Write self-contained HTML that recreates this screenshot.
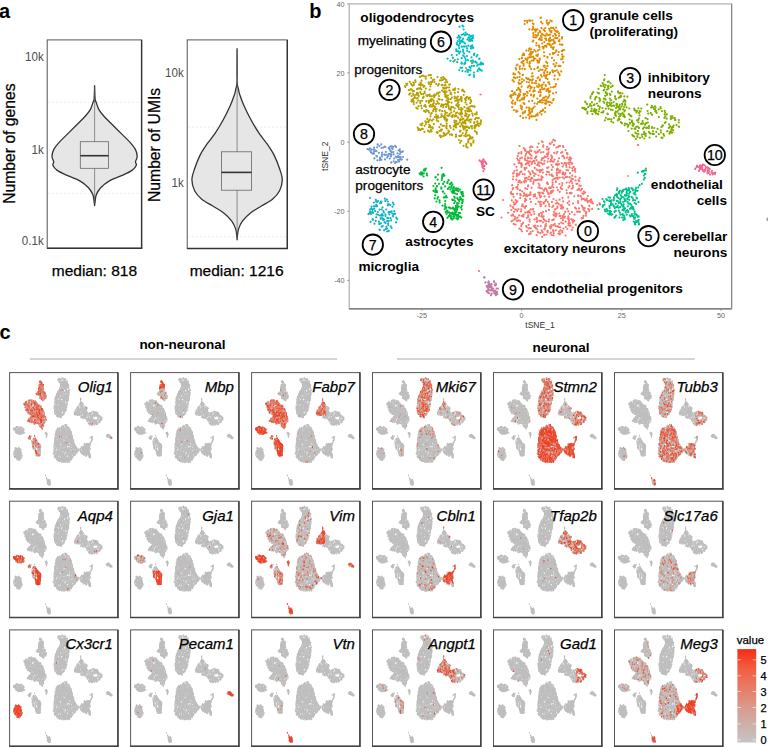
<!DOCTYPE html><html><head><meta charset="utf-8"><style>html,body{margin:0;padding:0;background:#fff;overflow:hidden}svg{display:block}text{font-family:"Liberation Sans",sans-serif}text:not([fill]):not([font-weight]){stroke:#000;stroke-width:0.25px}</style></head><body><svg width="768" height="747" viewBox="0 0 768 747"><rect width="768" height="747" fill="#fff"/><defs><path id="a0" d="M536.0 153.0h0M544.7 220.4h0M562.3 232.4h0M557.9 177.5h0M534.6 219.3h0M523.6 195.9h0M535.1 196.3h0M547.2 167.9h0M529.1 195.2h0M553.4 225.2h0M549.0 204.1h0M513.2 207.9h0M541.3 204.6h0M513.0 214.5h0M519.1 162.7h0M555.5 226.0h0M528.1 186.3h0M559.0 164.2h0M585.9 215.7h0M541.9 177.7h0M516.9 201.2h0M526.0 154.2h0M516.7 174.2h0M561.1 152.8h0M539.5 150.2h0M537.6 164.4h0M555.0 140.7h0M553.7 235.5h0M582.8 207.3h0M530.5 174.5h0M554.1 215.6h0M536.5 160.2h0M581.8 218.3h0M578.8 211.7h0M527.0 160.6h0M525.0 158.4h0M580.8 185.8h0M564.5 217.6h0M515.3 203.8h0M572.9 185.6h0M523.4 216.6h0M536.7 217.8h0M542.7 232.3h0M518.9 153.1h0M592.9 203.5h0M538.3 192.6h0M592.1 202.7h0M553.6 231.0h0M545.5 224.8h0M530.4 179.7h0M519.3 228.6h0M538.6 183.6h0M544.4 229.4h0M553.3 139.9h0M570.8 193.4h0M556.1 216.1h0M517.1 193.8h0M529.4 165.6h0M556.6 213.7h0M561.0 188.4h0M552.3 207.0h0M547.1 191.1h0M568.5 225.3h0M518.4 182.0h0M514.2 204.7h0M521.3 209.3h0M524.9 169.7h0M555.9 181.9h0M562.0 189.0h0M511.3 215.6h0M531.3 150.9h0M544.5 228.8h0M520.9 229.5h0M557.4 207.8h0M562.9 217.8h0M513.7 223.9h0M547.2 171.8h0M555.9 230.3h0M553.6 161.7h0M573.7 166.9h0M551.3 155.7h0M571.5 192.9h0M578.9 181.0h0M542.0 188.5h0M537.6 220.9h0M569.2 201.3h0M543.0 172.6h0M514.0 211.8h0M530.1 154.3h0M533.3 183.8h0M521.6 182.4h0M530.7 233.8h0M529.1 234.2h0M534.7 173.5h0M549.1 188.1h0M525.3 188.3h0M534.3 161.2h0M573.0 203.5h0M570.0 225.6h0M585.2 200.5h0M520.0 190.2h0M558.5 226.9h0M519.4 173.9h0M517.0 221.2h0M556.3 200.5h0M551.5 191.3h0M571.8 163.1h0M514.4 164.4h0M571.1 158.4h0M549.4 206.1h0M520.7 163.3h0M572.3 168.3h0M566.5 167.0h0M552.7 184.3h0M548.3 149.8h0M526.2 195.9h0M579.0 188.7h0M584.8 208.1h0M520.1 172.3h0M508.1 212.8h0M588.2 209.0h0M532.7 231.2h0M552.2 156.9h0M540.3 233.2h0M548.8 172.2h0M533.7 211.6h0M551.0 159.9h0M537.5 147.1h0M528.6 163.7h0M557.3 226.4h0M572.9 179.1h0M543.8 190.2h0M540.6 171.7h0M541.8 230.3h0M553.2 205.9h0M589.5 209.9h0M564.0 214.2h0M519.0 163.1h0M563.1 207.6h0M541.5 160.3h0M591.0 202.2h0M528.3 162.6h0M544.3 163.6h0M537.2 179.9h0M567.1 157.7h0M577.0 211.6h0M551.7 158.4h0M540.3 171.0h0M579.2 181.1h0M512.2 185.2h0M524.6 174.3h0M543.5 218.9h0M572.7 227.5h0M537.3 165.1h0M590.9 199.5h0M530.6 209.4h0M587.4 201.1h0M528.2 185.3h0M541.4 163.0h0M577.5 211.6h0M560.5 170.6h0M535.6 174.0h0M510.8 193.0h0M530.9 146.4h0M516.3 187.6h0M569.4 182.5h0M528.2 179.5h0M561.7 205.1h0M572.7 222.4h0M565.5 150.1h0M557.0 175.1h0M521.2 226.1h0M542.2 236.8h0M578.0 203.1h0M549.1 219.6h0M559.6 199.7h0M520.2 158.3h0M564.4 158.3h0M535.0 158.3h0M542.2 192.8h0M563.3 147.1h0M535.0 194.4h0M538.9 179.5h0M547.9 154.2h0M563.4 228.6h0M515.6 200.0h0M540.1 188.2h0M553.1 230.2h0M517.3 186.9h0M525.0 150.6h0M549.8 143.3h0M586.3 199.8h0M543.0 222.3h0M526.8 177.8h0M552.8 176.2h0M518.6 162.6h0M511.5 194.0h0M550.3 161.4h0M547.6 155.9h0M548.9 148.7h0M519.0 180.9h0M552.1 142.1h0M563.1 146.2h0M551.6 175.6h0M571.4 219.2h0M550.5 233.3h0M513.6 172.9h0M526.0 164.2h0M551.8 169.8h0M521.9 231.3h0M522.5 216.2h0M563.1 173.8h0M562.5 177.3h0M539.1 214.2h0M558.7 204.1h0M519.3 160.6h0M517.1 173.6h0M527.3 196.1h0M559.0 158.3h0M562.0 185.3h0M529.0 152.9h0M583.4 215.9h0M542.7 164.3h0M556.7 172.9h0M589.2 211.1h0M529.4 228.0h0M513.0 215.6h0M525.2 198.6h0M551.9 201.9h0M534.7 167.9h0M572.2 183.1h0M569.6 164.5h0M555.9 181.4h0M530.9 201.9h0M530.5 161.5h0M572.6 170.6h0M528.6 228.4h0M562.6 207.0h0M565.6 235.5h0M548.6 221.6h0M568.4 223.4h0M557.3 168.7h0M526.3 200.0h0M537.8 152.1h0M568.3 211.4h0M513.6 196.8h0M517.2 158.5h0M562.9 220.2h0M562.7 166.6h0M535.6 180.2h0M532.4 209.3h0M539.8 170.0h0M581.7 199.6h0M554.5 159.6h0M530.5 232.0h0M568.5 187.6h0M517.4 201.4h0M514.9 216.5h0M568.3 216.4h0M562.3 173.4h0M542.7 177.3h0M525.8 164.2h0M540.8 226.0h0M538.1 170.5h0M565.3 211.9h0M524.5 168.0h0M568.9 222.0h0M521.3 153.5h0M536.3 156.9h0M516.7 176.3h0M571.5 181.3h0M524.9 201.5h0M517.2 158.6h0M542.5 216.8h0M520.2 198.1h0M543.0 211.8h0M544.4 160.8h0M570.5 225.7h0M575.0 207.7h0M581.8 205.7h0M516.4 179.8h0M575.4 176.7h0M511.2 192.1h0M521.8 215.9h0M554.8 209.4h0M526.1 206.2h0M541.9 214.0h0M538.7 143.6h0M531.7 177.8h0M538.4 164.4h0M527.4 211.9h0M526.9 217.8h0M541.9 159.1h0M519.1 215.4h0M578.1 201.2h0M548.6 194.0h0M538.5 201.6h0M548.5 167.3h0M544.8 156.5h0M532.3 162.4h0M545.1 201.5h0M565.1 174.1h0M512.8 220.5h0M520.1 220.8h0M564.8 162.9h0M528.2 215.3h0M560.6 215.8h0M565.9 227.0h0M525.0 207.0h0M553.9 211.9h0M545.9 225.9h0M556.0 164.3h0M528.2 151.9h0M550.6 143.8h0M548.4 152.4h0M550.5 187.6h0M554.7 223.9h0M548.5 194.0h0M565.6 221.7h0M540.4 179.7h0M563.1 201.4h0M552.2 186.3h0M539.6 185.3h0M553.5 214.7h0M526.2 181.3h0M579.7 178.2h0M551.6 165.1h0M551.8 235.1h0M536.6 169.6h0M533.8 196.4h0M562.9 216.1h0M511.4 210.0h0M584.7 192.3h0M564.9 216.6h0M586.8 198.9h0M568.3 197.4h0M564.8 174.7h0M556.6 163.7h0M534.1 180.0h0M512.6 194.5h0M578.2 195.3h0M559.2 231.4h0M515.5 224.6h0M570.3 162.1h0M512.2 215.1h0M569.8 223.2h0M562.4 208.6h0M547.8 230.9h0M522.3 223.8h0M550.1 144.0h0M539.8 195.3h0M539.4 202.2h0M541.3 216.3h0M568.9 220.4h0M536.7 198.3h0M545.1 226.5h0M540.6 206.2h0M560.1 227.3h0M544.5 196.4h0M557.5 165.3h0M581.7 218.4h0M567.3 229.0h0M525.3 212.7h0M560.5 205.5h0M548.2 158.6h0M530.0 212.8h0M576.5 183.8h0M515.5 218.3h0M549.2 196.7h0M539.4 194.2h0M559.7 172.4h0M557.1 164.1h0M575.5 180.4h0M525.3 156.0h0M547.6 232.3h0M559.8 177.6h0M530.2 194.2h0M566.0 177.2h0M546.8 153.9h0M530.1 173.1h0M576.1 208.7h0M559.2 213.5h0M517.0 170.3h0M530.2 150.4h0M528.6 152.3h0M570.1 157.4h0M527.0 231.0h0M520.0 182.5h0M547.1 171.8h0M579.3 185.6h0M562.4 152.2h0M569.8 193.1h0M531.0 179.0h0M521.4 165.0h0M535.5 228.0h0M530.3 158.1h0M516.4 166.8h0M524.0 181.4h0M557.4 151.8h0M523.5 214.7h0M569.6 157.6h0M560.7 187.3h0M531.6 158.5h0M561.0 208.5h0M578.3 196.1h0M571.4 178.6h0M540.1 197.3h0M546.5 189.4h0M518.4 209.2h0M541.0 212.8h0M552.4 190.8h0M523.7 148.2h0M529.6 219.4h0M557.9 190.1h0M583.3 209.4h0M550.7 187.9h0M559.2 223.8h0M520.7 195.1h0M541.6 179.9h0M580.7 190.4h0M542.2 231.8h0M575.3 171.7h0M528.7 171.4h0M512.5 189.5h0M562.8 174.3h0M553.9 144.9h0M545.4 188.3h0M589.1 201.1h0M563.5 164.5h0M561.8 163.0h0M554.2 152.8h0M557.3 202.8h0M547.9 192.6h0M527.1 189.0h0M541.1 196.3h0M513.3 176.6h0M546.0 211.2h0M521.3 171.6h0M561.3 222.7h0M579.1 189.6h0M572.0 212.0h0M576.0 208.6h0M574.3 196.3h0M575.8 224.9h0M547.1 183.6h0M541.2 170.1h0M520.5 195.3h0M558.3 146.8h0M544.9 228.7h0M556.9 187.5h0M567.3 176.8h0M538.3 232.4h0M566.6 190.3h0M546.1 200.2h0M553.9 219.3h0M521.5 166.9h0M562.5 198.1h0M543.6 216.4h0M580.9 196.4h0M551.1 193.1h0M557.7 178.9h0M518.4 153.6h0M553.2 220.0h0M561.0 218.3h0M574.7 170.2h0M569.9 173.2h0M558.4 172.7h0M558.4 233.6h0M546.0 199.8h0M535.2 227.5h0M560.1 233.6h0M550.9 232.6h0M529.0 176.8h0M570.2 160.1h0M518.6 220.3h0M538.4 162.4h0M546.3 221.3h0M569.2 164.0h0M539.8 162.5h0M552.4 192.0h0M531.3 214.9h0M523.2 222.8h0M535.7 204.0h0M532.4 178.2h0M510.5 205.7h0M565.4 173.0h0M568.5 162.7h0M562.4 156.1h0M521.9 157.7h0M534.2 175.9h0M563.2 155.9h0M545.6 206.2h0M582.0 198.5h0M572.7 220.5h0M532.3 147.0h0M562.4 183.1h0M545.0 189.0h0M568.8 218.3h0M530.5 192.4h0M591.9 201.5h0M513.0 173.6h0M543.6 158.1h0M534.8 151.6h0M569.2 204.8h0M528.5 162.1h0M552.6 182.3h0M533.9 226.1h0M520.2 194.1h0M536.8 219.2h0M555.4 213.7h0M522.6 204.4h0M574.3 220.8h0M525.0 207.9h0M546.7 149.3h0M515.2 209.4h0M545.5 156.9h0M587.6 202.2h0M562.3 231.2h0M529.2 151.8h0M522.5 216.1h0M579.9 211.9h0M536.2 156.4h0M539.9 192.9h0M539.9 220.8h0M579.0 208.3h0M567.5 154.3h0M546.3 234.6h0M546.0 157.0h0M552.5 180.0h0M533.5 182.1h0M556.7 172.7h0M591.3 199.7h0M533.7 194.9h0M537.7 226.2h0M566.7 182.6h0M515.3 203.8h0M544.0 190.8h0M556.9 177.5h0M517.8 156.0h0M585.1 192.6h0M529.9 147.5h0M550.3 193.2h0M517.7 189.1h0M558.9 146.0h0M543.3 145.3h0M546.0 224.0h0M555.6 209.2h0M516.8 220.7h0M526.4 167.9h0M584.9 199.9h0M583.5 194.1h0M518.5 175.2h0M566.4 163.4h0M524.6 182.5h0M580.6 195.9h0M517.5 217.7h0M524.0 193.2h0M540.9 152.4h0M583.8 191.6h0M567.7 218.5h0M551.4 225.0h0M583.6 198.8h0M514.5 170.8h0M526.7 227.0h0M522.6 174.0h0M566.1 165.2h0M531.6 187.8h0M530.6 194.7h0M553.7 233.3h0M556.5 214.8h0M539.4 166.0h0M589.3 205.9h0M534.3 214.0h0M572.0 188.7h0M563.0 172.9h0M555.6 178.4h0M549.6 174.6h0M529.0 161.4h0M538.2 151.5h0M547.2 182.4h0M570.9 192.9h0M587.8 196.1h0M538.8 215.1h0M522.2 164.7h0M569.0 159.7h0M542.5 158.0h0M564.1 157.6h0M560.0 145.9h0M537.5 151.6h0M564.2 178.4h0M512.9 179.3h0M511.8 200.4h0M521.4 152.2h0M578.5 180.2h0M556.0 203.5h0M560.1 171.0h0M572.2 163.7h0M569.6 214.0h0M575.2 168.8h0M553.3 231.7h0M513.1 188.0h0M571.9 229.8h0M563.1 172.3h0M577.3 183.8h0M536.0 228.0h0M517.2 211.0h0M513.6 202.3h0M513.1 194.2h0M589.8 200.5h0M527.3 163.1h0M530.6 181.2h0M528.0 158.2h0M526.7 194.7h0M521.5 224.0h0M573.1 220.0h0M532.4 171.0h0M550.0 226.7h0M521.9 206.0h0M526.1 226.0h0M539.1 215.7h0M521.0 211.3h0M537.3 229.5h0M570.0 225.8h0M528.2 216.9h0M551.7 161.1h0M535.3 225.5h0M519.7 180.7h0M523.4 206.3h0M520.7 211.5h0M538.6 187.4h0M584.5 210.8h0M531.6 155.7h0M543.3 193.4h0M567.6 203.1h0M583.7 209.5h0M542.5 169.7h0M544.2 234.9h0M541.5 176.4h0M543.4 152.2h0M560.6 230.3h0M530.0 198.8h0M525.1 149.6h0M568.1 170.3h0M581.9 188.8h0M572.3 175.7h0M569.6 177.2h0M553.5 199.0h0M566.6 170.1h0M530.9 228.5h0M548.9 209.9h0M527.1 152.2h0M553.3 190.5h0M547.8 201.8h0M541.0 220.9h0M521.2 163.0h0M577.5 189.9h0M547.2 146.8h0M553.0 161.7h0M540.0 171.9h0M525.3 194.8h0M563.1 223.5h0M525.4 180.1h0M546.3 174.6h0M569.7 167.4h0M543.3 202.6h0M592.1 208.9h0M540.2 204.3h0M553.5 187.5h0M586.0 213.4h0M548.0 184.0h0M552.3 220.1h0M542.7 142.0h0M566.8 193.2h0M574.6 214.7h0M518.1 160.0h0M514.6 219.4h0M569.5 186.1h0M512.6 206.8h0M531.7 164.1h0M535.0 163.4h0M582.4 193.3h0M583.0 217.9h0M554.1 178.7h0M556.9 170.2h0M533.2 208.8h0M547.3 231.1h0M543.9 203.6h0M567.4 153.4h0M511.5 221.3h0M533.4 161.2h0M558.4 169.7h0M556.5 153.3h0M541.8 141.3h0M540.8 201.8h0M571.0 180.8h0M533.1 172.7h0M573.0 187.5h0M559.7 191.9h0M559.8 234.3h0M537.8 232.1h0M529.3 211.9h0M556.4 147.5h0M555.7 216.5h0M559.5 184.0h0M516.3 202.4h0M538.5 175.3h0M536.7 221.9h0M550.9 191.4h0M518.1 184.6h0M522.1 191.3h0M551.8 174.5h0M525.0 178.2h0M525.5 150.7h0M528.7 224.8h0M551.4 226.7h0M557.4 206.6h0M527.8 212.7h0M521.2 164.3h0M552.8 167.1h0M558.1 161.3h0M559.5 216.1h0M561.5 206.9h0M529.1 211.1h0M566.8 153.1h0M537.8 152.0h0M525.1 159.9h0M536.6 235.2h0M549.5 187.5h0M525.2 200.3h0M515.9 209.5h0M586.3 212.2h0M529.7 221.5h0M528.0 157.7h0M547.6 161.6h0M550.6 228.4h0M567.3 208.8h0M541.9 216.1h0M543.1 146.7h0M599.6 203.3h0M597.3 205.1h0"/><path id="b0" d="M554.4 174.4h0M512.9 188.5h0M518.6 160.2h0M563.3 175.1h0M555.4 144.3h0M566.9 180.6h0M576.8 207.6h0M571.1 166.7h0M544.2 213.4h0M521.1 186.7h0M511.3 204.6h0M574.2 195.1h0M568.2 197.2h0M558.2 183.4h0M522.5 149.7h0M541.8 224.8h0M514.9 182.7h0M532.0 179.4h0M539.0 226.1h0M523.2 161.1h0M539.9 194.4h0M590.5 206.8h0M552.6 199.5h0M583.7 217.5h0M529.8 172.6h0M548.3 186.2h0M553.7 152.6h0M522.4 214.9h0M527.6 189.6h0M530.4 207.0h0M562.0 227.7h0M520.6 220.3h0M529.7 167.2h0M528.8 196.4h0M558.5 228.1h0M551.4 191.0h0M546.1 156.2h0M522.8 185.2h0M536.2 189.6h0M574.9 188.6h0M549.3 231.8h0M556.4 231.9h0M565.1 152.2h0M526.9 232.9h0M542.4 186.5h0M521.9 181.0h0M552.6 171.8h0M517.0 164.5h0M567.6 180.4h0M515.2 223.3h0M531.1 150.9h0M534.9 168.4h0M524.3 185.3h0M550.8 221.1h0M515.2 221.8h0M583.4 204.8h0M532.3 162.1h0M515.7 177.8h0M558.7 190.7h0M541.7 170.5h0M570.7 202.1h0M511.7 221.2h0M571.5 218.9h0M551.6 221.2h0M577.7 220.3h0M567.1 207.1h0M562.2 205.8h0M577.1 212.5h0M550.7 176.1h0M574.4 199.5h0M566.2 206.9h0M546.9 164.8h0M526.1 232.2h0M520.2 190.2h0M528.0 227.4h0M550.0 140.5h0M547.0 168.1h0M535.3 221.7h0M540.2 177.1h0M539.2 180.6h0M516.7 221.1h0M529.5 164.5h0M562.6 229.0h0M571.4 182.9h0M573.2 202.2h0M564.8 168.0h0M556.2 177.3h0M522.4 154.1h0M525.9 228.2h0M546.9 151.9h0M551.5 200.7h0M531.4 162.7h0M542.6 182.4h0M510.7 208.7h0M547.6 192.9h0M511.3 215.9h0M528.1 229.6h0M563.9 168.3h0M553.4 196.1h0M534.0 183.9h0M591.2 208.2h0M551.1 205.2h0M565.8 230.1h0M527.1 213.7h0M533.5 232.8h0M550.9 156.7h0M527.3 179.5h0M565.6 232.5h0M520.6 177.2h0M513.1 177.2h0M524.0 231.2h0M565.5 175.7h0M532.2 173.0h0M538.8 219.8h0M540.2 229.6h0M535.3 165.5h0M508.2 213.3h0M545.2 187.1h0M579.2 215.0h0M525.0 213.0h0M536.1 235.6h0M529.4 162.4h0M558.0 170.5h0M551.9 161.0h0M518.2 156.9h0M530.4 215.5h0M526.8 174.7h0M530.0 197.7h0M566.7 156.4h0M576.9 192.6h0M522.1 207.3h0M543.4 166.2h0M534.6 232.9h0M539.4 157.6h0M571.0 158.3h0M544.6 219.7h0M543.1 225.9h0M520.5 166.2h0M570.7 227.4h0M559.9 192.8h0M562.3 168.5h0M544.3 196.0h0M544.8 203.6h0M546.6 181.7h0M509.9 199.6h0M574.1 215.7h0M515.9 182.0h0M571.5 215.5h0M552.2 143.4h0M551.4 229.6h0M566.8 227.2h0M517.9 190.9h0M583.6 193.3h0M558.2 225.9h0M546.2 155.6h0M563.3 236.0h0M561.3 181.1h0M552.3 227.2h0M516.2 201.6h0M563.9 182.2h0M511.7 190.9h0M543.1 161.7h0M575.8 209.3h0M572.5 184.3h0M527.5 148.5h0M537.0 212.7h0M568.2 222.2h0M576.3 190.1h0M545.8 210.2h0M568.0 201.1h0M539.4 219.4h0M513.6 224.4h0M581.4 218.9h0M545.7 215.0h0M538.0 208.2h0M550.5 217.4h0M523.9 187.3h0M538.0 220.9h0M532.5 159.4h0M528.2 183.9h0M554.0 213.1h0M573.2 202.4h0M521.4 222.0h0M522.6 181.7h0M575.0 195.7h0M518.8 184.0h0M529.4 170.5h0M553.2 154.0h0M592.4 210.6h0M541.6 141.4h0M568.0 187.8h0M562.7 184.1h0M557.7 212.6h0M563.5 183.2h0M535.0 200.6h0M575.7 209.0h0M562.5 162.9h0M544.6 183.3h0M561.8 178.8h0M566.4 230.6h0M523.8 203.2h0M550.4 235.1h0M516.7 195.2h0M552.3 201.7h0M579.8 190.0h0M543.5 232.4h0M544.4 207.5h0M527.5 234.0h0M578.9 219.3h0M555.4 150.5h0M540.5 163.3h0M534.1 185.8h0M537.9 153.2h0M522.5 226.8h0M576.2 221.5h0M510.4 198.7h0M567.1 230.8h0M536.6 235.8h0M570.2 200.3h0M537.3 223.8h0M544.5 193.2h0M564.7 216.9h0M587.8 198.6h0M561.4 200.4h0M566.9 159.2h0M565.7 183.6h0M579.2 216.3h0M535.5 180.9h0M563.5 231.0h0M543.7 148.2h0M563.8 159.1h0M529.9 234.0h0M534.9 210.7h0M545.9 205.4h0M520.5 217.4h0M562.5 179.6h0M557.0 167.1h0M560.0 168.7h0M511.6 221.0h0M538.0 146.5h0M555.9 217.4h0M558.2 227.3h0M524.3 157.2h0M523.6 207.8h0M542.8 189.5h0M517.1 201.0h0M552.9 140.0h0M556.2 224.7h0M563.4 233.3h0M566.6 167.8h0M549.6 154.8h0M580.9 200.6h0M520.4 224.7h0M522.4 186.9h0M565.8 159.0h0M549.3 166.5h0M570.9 167.2h0M580.1 190.4h0M550.6 139.5h0M524.0 220.8h0M539.7 154.3h0M535.7 208.8h0M554.5 140.1h0M568.5 157.4h0M532.1 150.2h0M543.1 151.6h0M545.7 235.7h0M529.5 180.0h0M566.7 165.2h0M554.9 230.1h0M553.0 181.2h0M534.4 202.5h0M518.3 197.2h0M531.2 184.5h0M533.4 178.5h0M532.9 162.2h0M515.5 192.4h0M580.7 198.8h0M525.3 208.8h0M561.0 184.7h0M534.8 162.1h0M556.2 186.9h0M533.5 214.9h0M517.4 160.4h0M591.1 211.6h0M538.5 205.3h0M573.8 185.3h0M551.1 233.9h0M557.5 179.6h0M560.6 175.8h0M570.6 167.2h0M541.8 193.3h0M576.1 222.6h0M551.2 182.2h0M523.9 168.3h0M552.8 189.5h0M538.9 197.2h0M516.5 175.3h0M542.7 193.9h0M557.7 225.6h0M522.7 169.7h0M552.3 149.0h0M585.5 206.7h0M552.3 188.3h0M524.2 156.2h0M534.5 206.8h0M565.8 157.6h0M531.0 202.4h0M522.6 164.6h0M546.9 176.4h0M534.7 225.2h0M549.9 217.0h0M529.0 155.3h0M539.0 156.6h0M556.6 149.4h0M554.2 176.4h0M542.9 144.5h0M524.5 166.2h0M565.5 172.0h0M521.4 208.3h0M515.9 164.9h0M538.5 210.0h0M540.6 233.5h0M525.9 232.7h0M551.7 160.6h0M547.1 151.0h0M585.9 196.5h0M560.6 159.2h0M541.3 203.5h0M557.1 169.0h0M541.7 146.6h0M517.3 194.0h0M539.2 187.8h0M534.9 160.6h0M518.8 209.4h0M586.7 215.2h0M519.4 165.5h0M543.7 203.6h0M571.5 209.0h0M580.7 194.8h0M570.0 163.4h0M580.2 215.3h0M517.5 216.8h0M526.1 229.1h0M568.1 177.2h0M588.5 206.9h0M571.9 220.7h0M512.6 207.5h0M555.1 162.9h0M559.8 183.9h0M517.8 166.8h0M539.2 158.6h0M536.0 184.7h0M539.4 154.7h0M517.3 186.7h0M564.5 163.0h0M510.3 215.1h0M524.0 201.6h0M557.0 200.6h0M550.8 187.8h0M521.6 167.8h0M558.3 146.0h0M576.1 180.4h0M532.5 203.9h0M537.3 181.7h0M565.7 220.3h0M536.0 183.9h0M566.5 198.7h0M564.0 167.8h0M540.2 195.8h0M517.6 223.9h0M553.9 163.1h0M527.5 195.0h0M541.9 155.1h0M528.4 175.1h0M569.2 180.4h0M522.5 212.2h0M537.5 214.1h0M566.9 220.2h0M560.2 147.9h0M555.5 218.0h0M533.0 206.4h0M537.6 153.0h0M523.7 219.5h0M566.8 177.1h0M549.1 153.8h0M548.5 195.5h0M541.5 173.2h0M547.7 236.2h0M583.5 215.1h0M562.8 201.2h0M557.2 168.1h0M534.0 168.7h0M558.2 236.4h0M545.0 224.5h0M513.8 186.3h0M560.2 224.1h0M524.2 191.5h0M583.8 201.7h0M536.2 212.6h0M566.8 171.6h0M536.9 187.2h0M559.7 163.6h0M548.1 139.4h0M561.1 210.1h0M536.4 147.3h0M554.6 196.6h0M547.2 165.7h0M549.1 203.3h0M575.0 174.1h0M556.0 156.1h0M520.8 155.7h0M542.7 224.1h0M543.4 229.5h0M573.7 202.0h0M559.7 183.1h0M558.1 225.9h0M545.2 148.4h0M518.3 186.5h0M551.3 149.2h0M511.6 188.7h0M555.1 192.7h0M540.6 162.0h0M581.0 216.1h0M563.9 192.7h0M535.3 234.8h0M528.2 200.7h0M562.4 192.1h0M527.3 199.0h0M553.2 185.5h0M522.8 219.9h0M516.8 173.5h0M568.2 182.8h0M549.4 217.5h0M566.9 174.5h0M570.2 165.3h0M536.0 162.1h0M576.6 199.5h0M540.1 142.4h0M541.3 195.6h0M536.5 145.0h0M573.4 175.8h0M510.1 197.0h0M549.0 226.7h0M546.0 186.9h0M566.0 211.7h0M573.2 194.2h0M512.7 205.8h0M544.1 196.2h0M536.9 189.6h0M552.2 179.9h0M554.4 175.2h0M548.1 186.7h0M558.5 174.4h0M531.6 217.3h0M577.5 197.0h0M546.5 225.5h0M512.9 181.2h0M559.6 155.9h0M577.3 187.6h0M566.3 205.2h0M533.5 159.0h0M530.2 228.2h0M512.8 207.3h0M527.3 192.4h0M516.0 184.3h0M549.9 224.1h0M531.4 226.9h0M536.8 182.8h0M523.4 216.5h0M510.8 189.1h0M519.3 195.6h0M565.4 154.3h0M550.2 216.8h0M529.2 197.7h0M578.2 184.0h0M543.2 146.8h0M573.1 201.4h0M581.2 216.3h0M538.2 154.2h0M591.6 205.0h0M580.1 217.9h0M559.1 181.4h0M579.4 216.1h0M576.7 206.0h0M596.5 202.2h0M594.9 207.5h0"/><path id="a1" d="M545.3 103.7h0M528.2 78.7h0M554.0 60.4h0M543.5 47.3h0M545.8 100.7h0M511.9 102.3h0M562.0 54.6h0M521.9 109.3h0M543.0 109.7h0M531.2 68.8h0M555.0 33.8h0M523.3 53.5h0M515.1 74.3h0M556.8 70.3h0M530.2 113.3h0M513.8 81.7h0M533.9 116.3h0M529.4 85.6h0M544.2 56.0h0M538.2 87.2h0M512.7 103.6h0M547.0 74.8h0M534.1 94.9h0M550.6 20.6h0M541.1 21.8h0M531.1 94.5h0M544.7 46.1h0M551.3 47.2h0M539.4 60.6h0M553.6 87.2h0M548.4 88.6h0M553.0 53.0h0M550.0 34.7h0M527.2 62.5h0M531.2 57.0h0M562.3 44.7h0M544.5 97.7h0M550.8 45.6h0M551.8 21.3h0M554.8 75.7h0M528.9 114.5h0M513.4 73.9h0M550.8 87.3h0M532.2 100.8h0M544.3 88.8h0M552.0 57.9h0M528.3 57.7h0M553.7 53.3h0M538.7 71.0h0M546.1 76.9h0M531.7 76.5h0M550.2 102.1h0M545.1 108.1h0M516.8 90.0h0M524.6 24.0h0M542.6 102.5h0M547.9 24.5h0M540.0 100.7h0M511.8 102.8h0M544.0 52.3h0M521.5 99.3h0M511.3 97.7h0M532.8 23.5h0M537.6 78.1h0M522.0 107.0h0M562.2 51.2h0M535.7 30.9h0M534.4 87.8h0M537.8 62.5h0M520.4 90.0h0M540.2 89.7h0M549.1 91.6h0M549.1 82.4h0M524.0 53.9h0M518.6 82.6h0M529.0 110.2h0M553.6 64.2h0M518.0 97.6h0M540.4 69.7h0M563.2 62.3h0M558.2 72.4h0M536.1 83.3h0M515.3 78.3h0M533.6 24.0h0M549.2 22.6h0M535.3 58.5h0M546.4 91.0h0M547.5 65.9h0M517.4 111.3h0M542.4 23.5h0M522.1 57.7h0M522.8 113.5h0M521.6 86.7h0M559.9 44.3h0M551.0 27.8h0M519.8 100.7h0M540.0 102.2h0M542.1 99.9h0M539.4 47.2h0M534.7 29.7h0M545.2 38.5h0M533.1 28.4h0M549.5 105.1h0M556.0 27.5h0M529.7 48.4h0M551.3 32.3h0M547.5 79.1h0M531.9 80.4h0M545.1 112.0h0M533.2 108.1h0M533.8 90.3h0M528.7 50.6h0M550.8 45.4h0M553.1 72.2h0M515.3 102.6h0M526.8 82.0h0M538.6 84.4h0M531.9 111.8h0M525.3 111.0h0M541.9 85.0h0M542.3 89.1h0M515.8 68.2h0M524.6 96.8h0M526.2 59.4h0M547.3 63.1h0M546.3 45.8h0M559.1 33.4h0M545.7 77.9h0M545.8 35.7h0M563.4 56.7h0M545.3 76.1h0M517.2 98.7h0M523.4 55.0h0M523.2 99.5h0M530.6 54.9h0M544.7 65.9h0M545.9 103.7h0M534.8 90.8h0M535.8 35.0h0M522.2 62.7h0M529.4 65.7h0M561.2 71.4h0M534.4 50.0h0M529.4 29.4h0M545.3 70.4h0M550.1 72.7h0M522.4 68.7h0M542.7 84.5h0M517.5 100.3h0M559.0 35.8h0M522.0 79.0h0M520.1 94.7h0M541.5 114.4h0M531.6 87.4h0M537.6 115.3h0M536.5 119.9h0M555.2 37.9h0M527.2 59.2h0M528.4 86.3h0M523.7 64.1h0M540.3 90.8h0M538.2 77.3h0M532.0 109.1h0M561.9 44.9h0M561.1 59.3h0M562.2 37.0h0M513.8 110.1h0M540.8 35.8h0M522.5 55.0h0M538.3 87.2h0M513.6 93.9h0M543.7 65.9h0M546.4 99.9h0M546.7 90.5h0M545.0 35.7h0M522.3 61.7h0M562.0 38.5h0M532.0 116.7h0M558.8 41.1h0M549.8 54.3h0M545.9 96.5h0M531.8 60.6h0M513.9 77.4h0M533.5 35.2h0M546.6 33.7h0M529.8 116.8h0M554.5 79.3h0M541.8 37.6h0M519.1 89.2h0M527.1 60.3h0M543.7 89.2h0M524.0 99.1h0M536.5 36.5h0M547.5 56.9h0M548.8 40.8h0M553.2 100.2h0M514.8 77.8h0M520.1 90.4h0M553.6 99.1h0M545.9 75.6h0M541.5 28.2h0M544.3 42.0h0M523.7 60.9h0M538.8 92.1h0M544.6 88.7h0M543.2 110.5h0M551.8 102.8h0M553.1 49.1h0M526.9 91.8h0M512.6 80.2h0M534.9 37.5h0M516.1 69.6h0M538.1 54.6h0M552.0 28.0h0M546.2 40.0h0M548.6 96.9h0M529.9 63.3h0M534.5 83.0h0M524.8 20.9h0M516.7 65.3h0M543.5 48.1h0M513.3 94.8h0M551.6 31.0h0M518.6 72.2h0M555.2 34.5h0M519.1 96.3h0M532.9 52.1h0M523.8 93.8h0M535.5 116.2h0M542.6 46.9h0M549.7 30.4h0M523.6 65.7h0M556.3 50.3h0M519.1 94.2h0M510.2 96.2h0M542.8 110.3h0M561.7 50.9h0M524.1 54.9h0M530.1 53.6h0M532.1 82.9h0M523.0 112.4h0M549.4 95.3h0M554.1 43.3h0M555.5 30.9h0M554.5 52.8h0M557.7 31.4h0M512.2 107.2h0M550.1 37.6h0M558.5 65.8h0M526.6 107.6h0M538.0 67.2h0M546.0 38.6h0M529.4 54.7h0M516.4 111.8h0M533.3 91.4h0M533.1 26.6h0M538.2 102.1h0M552.8 54.0h0M553.5 39.7h0M533.3 56.5h0M527.6 92.9h0M519.8 73.7h0M537.0 86.3h0M553.1 36.0h0M559.4 74.2h0M529.4 112.8h0M537.5 113.7h0M540.2 31.9h0M544.1 100.3h0M532.8 79.4h0M537.9 35.2h0M542.6 110.8h0M548.6 90.7h0M524.5 103.9h0M553.2 87.3h0M517.4 64.7h0M543.4 48.4h0M519.6 66.7h0M536.2 115.0h0M535.4 37.5h0M531.7 53.7h0M547.4 57.6h0M540.9 17.7h0M556.1 92.5h0M529.0 82.3h0M539.9 85.7h0M541.9 87.2h0M528.2 115.0h0M539.7 58.7h0M529.5 109.8h0M535.7 51.5h0M530.8 80.2h0M552.6 44.0h0M529.9 57.2h0M529.4 111.7h0M539.1 45.6h0M518.4 88.5h0M512.9 100.5h0M539.7 112.6h0M533.3 37.0h0M548.3 82.3h0M519.5 80.2h0M529.3 118.5h0M533.4 57.5h0M548.2 35.2h0M546.8 20.5h0M557.8 79.3h0M559.6 75.2h0M530.6 88.6h0M552.6 70.4h0M540.8 92.5h0M527.0 95.6h0M523.9 80.3h0M536.3 45.5h0M517.8 95.9h0M541.0 111.1h0M549.3 43.6h0M549.5 84.3h0M549.1 39.2h0M545.4 45.8h0M529.9 112.4h0M532.9 76.3h0M534.6 106.6h0M531.5 115.5h0M535.5 29.3h0M550.6 32.0h0M546.8 22.6h0M544.4 56.0h0M548.9 92.6h0M554.2 29.5h0M519.8 68.9h0M560.5 66.1h0M559.5 39.9h0M544.1 72.3h0M556.4 63.0h0M550.3 41.1h0M518.4 87.9h0M539.9 59.0h0M539.9 96.0h0M541.8 33.8h0M558.1 55.1h0M517.3 77.4h0M562.5 56.9h0M539.5 49.5h0M544.0 75.4h0M544.3 73.3h0M529.3 79.7h0M526.0 117.5h0M523.0 117.9h0M539.9 38.3h0M537.4 29.3h0M555.4 86.4h0M540.7 17.9h0M532.3 110.6h0M541.8 102.5h0M537.8 50.5h0M562.5 59.0h0M547.7 24.0h0M515.6 94.4h0M529.5 85.6h0M549.3 74.2h0M529.2 110.3h0M541.8 100.0h0M541.0 75.1h0M532.2 73.4h0M532.7 41.6h0M554.7 42.0h0M530.8 51.8h0M551.5 40.1h0M546.2 103.6h0M534.4 69.2h0M537.6 114.1h0M526.3 50.6h0M556.0 84.2h0M550.2 91.3h0M546.2 61.9h0M521.8 58.3h0M546.3 40.1h0M533.2 33.1h0M513.5 73.3h0M536.3 37.1h0M546.2 68.4h0M553.8 47.3h0M535.5 31.7h0M536.1 30.2h0M547.1 89.3h0M512.1 91.2h0M527.2 22.6h0M529.7 90.9h0M514.6 92.3h0M530.4 86.6h0M528.9 107.7h0M564.1 50.0h0M541.8 40.1h0M524.8 69.1h0M537.2 60.4h0M538.7 45.6h0M552.3 70.7h0M523.2 113.0h0M537.5 55.9h0M525.5 58.7h0M548.4 101.9h0M529.2 48.8h0M549.7 38.5h0M522.4 98.3h0M544.3 88.9h0M529.3 20.4h0M553.6 40.8h0M553.1 93.4h0M536.3 55.3h0M533.6 60.7h0M556.2 51.4h0M516.1 110.6h0M542.2 43.5h0M527.8 87.5h0M543.0 47.5h0M520.6 105.7h0M559.3 41.2h0M541.7 76.6h0M527.2 20.8h0M542.5 69.9h0M529.5 110.6h0M530.2 20.9h0M524.3 97.5h0M522.1 81.8h0M553.3 27.8h0M523.8 95.1h0M529.8 61.9h0M537.5 68.2h0M521.1 108.0h0M545.8 85.9h0M534.0 59.1h0M522.3 98.9h0M534.6 103.3h0M546.6 68.5h0M519.1 83.9h0M547.6 43.8h0M544.9 31.1h0M543.1 34.8h0M539.7 30.9h0M536.0 80.9h0M543.3 97.9h0M540.9 40.0h0M540.6 95.1h0M529.5 63.5h0M545.3 28.0h0M549.4 44.7h0M555.9 35.4h0M554.9 71.0h0M547.3 72.2h0M556.8 38.1h0M558.8 52.1h0M543.7 29.5h0M524.8 112.4h0M549.6 40.6h0M539.8 80.5h0M556.8 31.9h0M520.4 116.2h0M525.0 94.2h0M555.1 42.7h0M511.1 95.1h0M538.3 33.0h0M559.8 65.9h0M537.3 98.6h0M520.4 91.9h0M528.9 101.3h0M544.4 67.0h0M521.5 62.4h0M523.5 103.1h0M539.8 79.4h0M543.8 30.0h0M552.1 47.3h0M546.7 101.5h0M521.7 106.9h0M519.6 76.9h0M520.0 66.3h0M539.0 62.6h0M537.2 103.8h0M539.0 39.6h0M549.4 40.7h0M529.9 66.8h0M515.1 104.0h0M536.4 43.0h0M549.1 28.8h0M547.7 97.9h0M511.6 95.5h0M531.1 49.4h0M533.5 96.7h0M555.0 66.4h0M519.3 59.1h0M523.0 74.8h0M529.8 108.3h0M543.9 82.5h0M555.7 65.7h0M520.8 83.6h0M545.5 85.2h0M527.4 78.9h0M546.3 46.8h0M531.2 69.0h0M532.3 29.7h0M533.4 40.6h0M562.6 50.4h0M545.0 103.3h0M531.1 95.3h0M557.4 38.1h0M533.7 96.1h0M538.0 61.1h0M522.6 75.2h0M532.4 20.5h0M526.2 77.8h0M548.5 23.5h0"/><path id="b1" d="M542.7 64.4h0M528.9 104.6h0M548.0 62.8h0M516.2 87.8h0M561.9 69.6h0M519.2 115.0h0M534.5 100.9h0M559.2 68.7h0M529.5 118.2h0M517.5 77.9h0M530.4 116.9h0M541.1 102.6h0M517.3 70.5h0M557.6 33.8h0M526.7 22.5h0M525.9 56.7h0M561.2 37.5h0M520.8 111.2h0M534.2 103.8h0M551.0 65.8h0M540.2 86.5h0M529.4 112.1h0M538.6 46.9h0M544.1 43.9h0M519.8 107.4h0M546.2 110.5h0M537.1 105.3h0M524.6 104.6h0M517.9 86.6h0M550.9 68.9h0M548.1 80.5h0M553.5 54.3h0M555.5 50.7h0M527.7 75.9h0M521.0 104.0h0M553.8 72.7h0M544.1 92.1h0M541.6 58.5h0M548.4 64.1h0M531.6 46.3h0M520.2 93.3h0M563.8 48.7h0M535.4 119.7h0M535.7 102.2h0M549.7 56.8h0M521.3 77.7h0M535.0 21.5h0M543.8 108.8h0M559.1 56.7h0M534.6 77.7h0M544.4 90.3h0M522.7 84.4h0M544.3 93.9h0M518.5 70.1h0M515.4 98.6h0M537.1 81.3h0M528.9 26.8h0M538.1 64.2h0M549.7 99.6h0M548.8 20.2h0M546.8 105.1h0M519.4 114.8h0M523.3 59.8h0M527.6 96.9h0M529.7 72.7h0M539.1 114.3h0M519.2 62.4h0M547.2 88.6h0M550.4 95.1h0M511.1 88.7h0M526.2 23.6h0M549.4 26.8h0M560.6 52.5h0M554.9 40.5h0M529.5 91.9h0M538.2 28.6h0M525.2 56.5h0M551.4 40.2h0M533.6 29.0h0M560.8 74.5h0M550.3 75.4h0M556.5 28.4h0M556.9 39.0h0M560.1 64.8h0M549.6 24.7h0M520.8 85.7h0M556.5 55.1h0M533.6 31.6h0M522.4 66.5h0M543.6 39.4h0M522.0 116.7h0M518.5 102.9h0M541.6 63.9h0M545.8 106.2h0M532.6 71.9h0M545.3 70.2h0M545.6 77.8h0M547.5 43.5h0M529.1 90.0h0M535.9 18.8h0M544.7 82.8h0M520.3 96.5h0M549.3 45.3h0M524.1 90.7h0M527.9 71.2h0M535.8 43.8h0M549.5 52.4h0M560.4 75.1h0M511.3 92.1h0M545.8 44.0h0M537.7 32.7h0M548.8 71.9h0M536.0 43.2h0M527.0 66.5h0M543.4 27.9h0M551.8 62.4h0M535.0 91.3h0M520.2 116.4h0M515.5 101.4h0M532.5 102.2h0M556.8 76.6h0M530.3 28.4h0M522.0 111.3h0M545.5 56.5h0M539.1 51.9h0M546.6 84.7h0M539.6 64.3h0M528.2 98.2h0M527.5 19.7h0M553.2 40.5h0M534.9 58.7h0M526.6 82.6h0M541.0 28.0h0M541.7 103.0h0M532.4 108.3h0M521.8 94.2h0M537.1 110.2h0M532.6 70.2h0M535.2 26.6h0M548.8 94.6h0M520.6 77.7h0M549.0 94.7h0M561.2 62.9h0M528.0 96.5h0M526.9 69.3h0M533.7 117.9h0M542.0 32.0h0M532.9 53.5h0M517.9 106.6h0M559.9 58.7h0M533.3 47.9h0M535.8 68.4h0M528.7 72.2h0M527.8 102.2h0M549.7 91.7h0M530.7 26.7h0M528.8 93.4h0M533.6 99.0h0M541.1 63.8h0M528.0 58.1h0M532.3 86.4h0M532.0 116.5h0M543.3 49.8h0M530.2 44.9h0M518.3 105.9h0M541.7 61.3h0M552.1 27.7h0M557.3 62.8h0M514.9 68.2h0M553.8 95.7h0M550.1 30.6h0M523.2 101.5h0M514.4 105.3h0M535.0 65.6h0M528.4 113.7h0M552.6 42.9h0M515.0 111.8h0M553.7 87.7h0M534.9 102.3h0M535.3 68.1h0M524.3 55.1h0M529.4 115.5h0M556.8 86.5h0M562.6 49.5h0M519.4 103.3h0M524.2 108.3h0M545.3 33.7h0M518.4 69.1h0M551.0 42.1h0M514.5 84.3h0M532.8 49.0h0M533.1 34.2h0M518.2 81.8h0M527.9 27.6h0M537.5 34.4h0M545.8 26.5h0M531.5 88.4h0M515.1 69.1h0M553.4 28.7h0M541.5 92.0h0M528.6 89.1h0M524.7 118.4h0M556.9 83.0h0M518.1 107.4h0M548.8 28.9h0M556.9 78.0h0M520.4 70.8h0M536.0 52.0h0M530.0 69.9h0M545.9 36.2h0M551.7 90.0h0M536.0 92.8h0M521.2 63.9h0M529.3 95.3h0M545.4 87.1h0M524.5 23.3h0M524.4 67.5h0M526.8 118.0h0M525.0 112.6h0M551.9 55.9h0M533.6 58.2h0M529.9 95.9h0M543.8 36.5h0M527.4 83.8h0M526.6 60.2h0M522.7 105.8h0M522.9 77.9h0M535.8 119.4h0M539.6 57.2h0M533.7 120.0h0M537.4 47.0h0M548.0 70.5h0M529.9 106.3h0M529.2 51.8h0M543.2 75.4h0M561.9 55.3h0M515.9 85.1h0M538.7 51.0h0M527.6 104.6h0M528.1 60.3h0M561.9 54.4h0M530.1 93.1h0M535.4 37.5h0M537.5 49.6h0M546.7 73.6h0M533.8 103.1h0M543.1 20.4h0M533.7 103.1h0M553.1 46.1h0M547.9 65.1h0M552.6 64.3h0M547.6 58.1h0M561.8 55.2h0M537.5 69.0h0M528.6 92.9h0M545.6 59.1h0M530.2 77.0h0M533.5 86.8h0M561.7 36.6h0M537.5 32.5h0M551.6 76.1h0M552.3 48.8h0M540.9 84.2h0M513.2 83.7h0M547.4 32.9h0M539.7 93.0h0M526.0 64.9h0M529.9 98.8h0M532.1 113.6h0M537.6 62.7h0M558.4 59.3h0M545.8 75.0h0M534.8 76.6h0M556.9 25.3h0M548.6 92.5h0M552.8 48.7h0M539.5 100.8h0M515.9 92.8h0M511.0 92.1h0M538.2 48.1h0M562.5 56.7h0M533.9 111.9h0"/><path id="a2" d="M404.9 86.0h0M421.6 80.6h0M410.9 89.4h0M445.5 84.9h0M470.1 106.6h0M459.8 119.8h0M443.8 88.7h0M439.0 96.1h0M425.9 124.0h0M443.8 92.0h0M433.9 106.2h0M453.2 90.1h0M417.8 94.4h0M453.5 89.3h0M441.1 129.5h0M456.2 127.5h0M438.0 103.3h0M460.0 131.6h0M456.3 105.4h0M449.7 114.2h0M463.8 129.6h0M467.4 111.1h0M428.9 102.8h0M468.3 139.5h0M472.0 126.1h0M449.6 90.7h0M430.9 82.2h0M428.1 95.0h0M438.9 103.7h0M423.5 96.5h0M469.2 128.1h0M425.1 105.2h0M419.1 129.1h0M450.0 134.6h0M454.5 120.7h0M411.9 100.1h0M455.9 125.6h0M439.7 110.0h0M465.1 98.9h0M413.9 84.8h0M439.7 135.7h0M466.8 119.7h0M422.9 97.9h0M443.4 104.9h0M455.9 113.4h0M430.8 75.2h0M471.4 119.6h0M434.7 94.6h0M447.5 103.4h0M443.5 105.6h0M468.4 120.6h0M474.8 125.8h0M470.5 143.6h0M434.3 97.2h0M465.3 122.0h0M430.5 116.3h0M478.8 118.2h0M477.6 118.1h0M440.9 117.0h0M454.1 111.3h0M455.0 115.6h0M456.1 136.2h0M421.9 128.8h0M446.4 121.2h0M430.0 119.7h0M445.4 104.2h0M466.3 146.7h0M435.8 116.7h0M430.3 86.4h0M414.4 97.8h0M460.4 119.2h0M444.7 85.4h0M470.1 137.8h0M465.7 134.1h0M471.1 145.6h0M429.0 127.2h0M459.0 140.0h0M460.1 126.4h0M465.7 98.0h0M411.6 96.1h0M412.2 101.3h0M410.4 93.4h0M436.7 109.1h0M461.5 135.0h0M446.7 128.4h0M413.9 104.1h0M427.3 96.1h0M463.5 90.9h0M430.0 96.2h0M444.3 133.8h0M416.3 107.8h0M463.6 145.8h0M445.3 96.6h0M439.7 110.5h0M478.2 123.9h0M474.3 106.3h0M472.3 137.7h0M434.0 106.4h0M480.2 123.3h0M432.0 106.7h0M451.5 116.3h0M438.1 93.7h0M429.1 112.5h0M449.2 90.3h0M466.8 108.5h0M447.1 115.5h0M470.0 97.7h0M439.7 92.3h0M418.7 88.3h0M469.7 109.4h0M461.6 101.2h0M469.0 120.4h0M456.6 104.7h0M446.7 123.7h0M411.7 100.2h0M461.8 97.6h0M422.4 128.8h0M447.8 104.4h0M466.0 98.7h0M448.2 132.8h0M443.2 77.1h0M424.6 125.8h0M465.5 123.6h0M439.5 131.0h0M446.9 120.6h0M462.6 89.6h0M428.8 100.8h0M411.4 101.3h0M462.7 119.0h0M415.6 81.8h0M464.3 128.1h0M429.6 89.7h0M428.6 75.3h0M420.8 83.3h0M418.2 93.7h0M450.4 108.8h0M466.3 130.3h0M467.7 117.8h0M442.1 99.8h0M471.2 101.4h0M444.0 125.8h0M446.4 87.8h0M413.9 91.1h0M466.3 132.3h0M467.1 130.3h0M436.9 132.4h0M458.5 107.2h0M460.6 130.6h0M425.9 76.6h0M406.9 84.9h0M420.6 85.6h0M476.3 125.8h0M474.6 106.8h0M440.8 124.4h0M445.0 114.0h0M429.0 83.9h0M437.5 77.0h0M474.8 128.3h0M462.7 133.0h0M428.0 130.7h0M451.8 134.3h0M470.4 136.6h0M420.6 82.6h0M456.1 134.6h0M445.4 117.8h0M478.2 124.5h0M443.6 132.9h0M450.0 84.3h0M438.6 117.7h0M432.9 104.6h0M435.6 109.0h0M451.5 102.7h0M423.0 75.5h0M426.8 110.3h0M423.1 94.0h0M460.2 136.0h0M441.6 104.3h0M473.5 140.7h0M451.3 106.9h0M422.1 100.8h0M418.3 130.0h0M455.3 100.8h0M406.3 83.9h0M449.0 87.5h0M428.4 122.2h0M476.6 114.2h0M416.2 94.6h0M417.0 89.2h0M430.5 104.9h0M442.1 105.0h0M466.3 144.2h0M446.2 127.1h0M434.5 95.3h0M432.7 128.4h0M420.4 88.0h0M430.8 127.0h0M461.2 107.8h0M409.2 94.4h0M448.2 99.6h0M423.7 96.8h0M426.3 101.1h0M467.6 135.3h0M460.1 142.8h0M470.2 119.6h0M438.4 93.0h0M431.2 77.9h0M411.8 89.7h0M455.7 127.1h0M426.5 95.4h0M423.7 87.0h0M454.6 125.2h0M445.0 88.2h0M417.7 93.0h0M448.4 130.6h0M459.2 135.8h0M457.0 99.0h0M436.2 84.1h0M434.8 117.0h0M448.3 105.6h0M465.6 115.8h0M467.4 118.6h0M413.1 94.1h0M429.7 105.8h0M447.2 82.1h0M460.8 135.9h0M468.1 142.5h0M465.3 128.0h0M433.7 100.9h0M440.9 137.2h0M431.1 99.2h0M448.6 102.4h0M468.5 97.9h0M410.5 89.4h0M469.2 115.2h0M448.5 116.1h0M436.8 117.4h0M411.9 85.0h0M458.1 123.9h0M468.9 127.9h0M446.6 133.9h0M476.6 132.2h0M435.8 111.4h0M467.0 127.0h0M428.2 130.9h0M443.0 136.1h0M459.1 109.2h0M461.4 112.2h0M430.9 129.6h0M470.3 103.2h0M407.3 83.8h0M429.7 94.5h0M439.9 80.4h0M448.9 108.7h0M428.6 121.0h0M413.6 101.0h0M421.6 76.1h0M425.8 78.7h0M446.4 97.6h0M458.2 117.7h0M452.0 97.5h0M463.1 127.6h0M461.5 110.8h0M473.3 142.3h0M472.7 137.5h0M443.2 87.9h0M431.9 120.6h0M424.1 76.3h0M449.0 102.2h0M433.3 119.3h0M422.8 129.1h0M415.2 80.3h0M440.8 135.8h0M446.7 95.6h0M462.7 126.1h0M471.9 105.9h0M418.6 106.2h0M451.5 107.5h0M473.4 142.5h0M464.7 120.7h0M438.6 92.7h0M421.7 108.3h0M460.3 99.4h0M457.9 103.0h0M453.0 107.1h0M420.1 101.0h0M428.4 111.2h0M463.9 123.1h0M478.9 126.1h0M454.8 90.0h0M472.9 106.3h0M427.8 121.5h0M466.7 104.5h0M446.1 106.9h0M470.9 126.4h0M454.7 98.5h0M431.2 101.3h0M469.2 135.4h0M471.8 138.5h0M445.4 92.5h0M466.1 136.3h0M466.3 146.1h0M464.4 91.8h0M429.9 100.7h0M438.8 84.2h0M460.5 114.6h0M465.7 100.4h0M437.1 131.9h0M463.3 118.7h0M436.7 118.2h0M409.8 81.8h0M428.8 83.8h0M462.8 122.0h0M420.3 130.2h0M470.5 122.2h0M435.6 95.1h0M417.5 94.7h0M444.9 78.9h0M413.9 83.0h0M421.6 125.2h0M424.7 93.2h0M429.9 106.4h0M432.7 99.4h0M444.2 117.7h0M413.1 99.0h0M453.7 126.4h0M454.5 122.3h0M434.2 79.6h0M469.9 138.7h0M434.5 82.1h0M414.6 95.8h0M455.5 123.6h0M446.9 87.4h0M423.2 85.7h0M475.4 125.1h0M446.5 100.6h0M437.9 116.1h0M465.9 116.0h0M461.7 123.7h0M421.5 129.2h0M443.2 107.3h0M441.7 115.5h0M428.6 82.4h0M442.8 79.8h0M417.5 108.7h0M431.8 113.0h0M446.5 104.4h0M426.4 101.5h0M429.5 131.8h0M443.6 135.9h0M420.3 102.9h0M436.0 104.1h0M470.7 100.2h0M446.9 119.4h0M433.9 124.1h0M433.5 95.6h0M425.5 112.0h0M469.5 110.8h0M424.5 86.0h0M443.8 78.2h0M462.2 113.7h0M480.9 120.3h0M416.9 92.9h0M450.8 109.9h0M441.7 85.2h0M435.1 109.1h0M424.4 131.9h0M445.5 135.1h0M418.7 95.9h0M464.4 107.1h0M439.7 99.6h0M413.3 82.5h0M465.3 110.9h0M476.2 117.8h0M466.1 114.3h0M412.8 91.5h0M468.1 116.6h0M450.7 92.8h0M455.3 88.3h0M450.7 99.2h0M441.9 129.5h0M429.0 120.7h0M470.1 110.5h0M454.6 96.6h0M446.7 91.6h0M465.6 113.0h0M471.4 144.1h0M458.6 100.4h0M439.4 127.2h0M416.6 102.6h0M421.2 94.2h0M441.6 114.4h0M426.4 110.2h0M444.8 111.1h0M460.4 120.5h0M407.2 83.9h0M455.9 136.8h0M480.9 122.1h0M441.2 77.9h0M456.8 124.3h0M476.9 133.7h0M476.7 112.4h0M430.0 125.6h0M461.1 109.9h0M425.9 106.8h0M442.7 125.8h0M445.9 88.5h0M449.6 113.9h0M461.1 112.4h0M434.7 117.0h0M477.1 124.9h0M456.3 121.1h0M463.7 95.0h0M424.2 106.1h0M432.9 80.3h0M474.5 127.4h0M443.3 116.5h0M432.6 127.4h0M446.9 112.8h0M424.6 91.6h0M457.9 100.7h0M445.3 82.4h0M432.7 80.1h0M465.4 102.5h0M480.6 124.3h0M435.1 107.2h0M452.9 115.1h0M430.1 75.0h0M433.1 110.9h0M449.1 131.5h0M467.6 147.6h0M461.7 116.7h0M454.6 126.1h0M418.1 100.5h0M466.9 96.8h0M432.7 104.4h0M472.8 115.5h0M454.7 108.4h0M442.4 85.2h0M468.3 107.7h0M437.7 132.8h0M436.2 114.6h0M419.0 84.6h0M448.0 101.5h0M458.4 102.5h0M438.7 98.9h0M446.8 96.0h0M457.8 106.2h0M461.0 96.9h0M461.8 124.8h0M412.7 85.7h0M418.5 88.5h0M457.2 100.7h0M450.5 93.8h0M438.3 121.3h0M433.8 103.1h0M445.1 93.8h0M420.6 84.3h0M459.2 113.7h0M474.4 122.0h0M438.0 85.6h0M448.0 95.6h0M427.4 118.9h0M420.5 124.4h0M448.5 99.5h0M420.1 88.6h0M422.4 123.4h0M461.0 112.8h0M448.7 106.8h0M475.1 119.2h0M431.7 96.3h0M452.5 117.1h0M419.8 76.9h0M405.4 87.0h0M456.5 121.7h0M471.2 111.1h0M421.2 105.7h0M417.7 127.7h0M453.6 129.4h0M458.9 105.0h0M465.5 120.7h0M468.6 109.5h0M456.6 116.1h0M421.8 84.7h0M464.7 126.7h0M436.8 120.4h0M444.7 116.1h0M441.0 106.2h0M432.2 81.9h0M469.0 111.4h0M430.8 114.1h0M462.5 109.0h0M435.3 106.8h0M457.2 112.5h0M408.8 90.2h0M417.7 98.0h0M448.0 98.3h0M463.9 122.0h0M477.3 121.3h0M418.4 88.7h0M426.5 110.5h0M426.1 122.2h0M446.6 125.9h0M416.6 98.5h0M419.9 77.0h0M413.6 102.0h0M431.6 131.5h0M449.4 115.1h0M421.4 89.5h0M472.2 113.6h0M454.8 92.8h0M462.0 119.5h0M415.0 97.6h0M454.8 116.5h0M461.5 99.8h0M442.2 111.2h0M444.9 94.4h0M451.3 94.4h0M420.3 92.2h0M474.9 131.2h0M445.6 112.6h0M457.9 96.7h0M477.3 122.5h0M461.2 140.9h0M468.6 127.4h0M463.1 126.2h0M444.7 91.0h0M472.1 128.3h0M459.4 113.8h0M450.0 125.9h0M441.5 80.3h0M468.2 141.5h0M433.7 109.2h0M458.5 89.1h0M461.2 98.9h0M446.3 80.2h0M450.7 127.8h0M431.1 84.2h0M429.9 131.6h0M449.2 84.7h0M464.3 135.8h0M429.2 124.8h0M475.1 127.6h0M462.1 113.5h0M452.0 135.1h0M466.5 126.4h0M425.4 121.4h0M435.7 109.6h0M447.2 119.8h0M425.9 88.6h0M424.1 110.9h0M411.0 83.8h0M468.8 139.6h0M456.3 97.5h0M458.1 92.2h0M442.2 90.7h0M474.2 123.1h0M459.6 122.4h0M466.7 114.2h0M451.4 112.4h0M464.8 115.6h0M461.9 90.5h0M444.8 119.5h0M450.5 109.9h0M475.0 114.2h0M467.1 126.9h0M413.3 94.4h0M429.0 101.7h0M468.7 99.1h0M437.3 101.4h0M441.2 130.7h0M436.9 93.4h0M459.2 99.7h0"/><path id="b2" d="M428.0 129.7h0M424.0 93.0h0M411.7 79.3h0M462.0 95.8h0M451.0 97.4h0M444.4 130.0h0M469.2 117.5h0M407.1 89.1h0M417.4 86.3h0M416.1 129.8h0M424.1 76.2h0M450.7 113.3h0M449.5 99.5h0M459.0 143.4h0M443.5 100.2h0M454.8 87.7h0M429.8 121.3h0M422.9 103.8h0M449.5 95.6h0M466.1 110.4h0M473.6 123.7h0M442.5 103.7h0M440.0 118.2h0M424.5 82.3h0M457.1 98.1h0M441.5 106.1h0M433.2 82.6h0M450.8 108.9h0M407.9 86.6h0M457.7 127.6h0M456.6 91.7h0M454.3 95.9h0M449.1 89.1h0M482.5 126.3h0M474.0 134.9h0M427.8 130.3h0M431.9 133.2h0M457.8 90.2h0M449.1 94.0h0M433.3 83.6h0M418.8 129.3h0M413.1 85.8h0M465.6 110.7h0M429.3 127.3h0M450.8 84.5h0M471.7 130.9h0M443.5 112.3h0M425.2 92.8h0M417.2 100.9h0M462.2 132.0h0M456.7 119.9h0M438.1 106.9h0M438.2 103.0h0M429.8 78.8h0M440.8 85.5h0M457.5 110.9h0M450.0 99.4h0M436.8 122.5h0M414.3 90.8h0M465.1 105.6h0M440.9 115.1h0M407.2 87.0h0M456.5 101.9h0M468.9 150.0h0M431.9 88.8h0M445.2 111.2h0M476.0 110.5h0M436.7 86.3h0M414.4 87.0h0M429.3 85.6h0M445.2 132.0h0M459.8 105.5h0M473.4 133.1h0M481.0 130.5h0M441.2 96.4h0M453.5 88.7h0M425.6 131.4h0M430.3 97.9h0M460.0 101.3h0M450.2 85.6h0M433.1 75.7h0M420.6 80.1h0M429.2 111.1h0M416.7 105.4h0M465.0 110.9h0M441.9 127.4h0M430.2 91.5h0M454.7 131.5h0M423.7 127.7h0M453.8 116.2h0M463.2 128.5h0M460.5 143.0h0M450.4 123.6h0M451.0 135.1h0M424.6 103.9h0M463.4 112.5h0M417.5 101.1h0M458.1 92.4h0M410.7 91.3h0M451.5 115.3h0M449.4 120.8h0M449.6 108.3h0M460.8 130.4h0M457.8 112.7h0M432.6 76.3h0M404.0 84.6h0M455.6 120.3h0M467.0 129.5h0M475.8 111.3h0M441.6 82.6h0M461.8 115.9h0M475.6 109.2h0M445.4 116.0h0M470.9 127.8h0M407.8 94.7h0M413.2 91.0h0M452.7 121.8h0M412.3 93.7h0M433.4 107.9h0M432.4 93.9h0M467.3 127.0h0M456.4 113.0h0M471.3 120.9h0M476.9 116.5h0M416.9 129.0h0M469.2 100.7h0M450.3 88.4h0M430.5 85.9h0M443.5 80.6h0M461.5 92.0h0M428.4 80.9h0M460.6 122.4h0M471.2 116.3h0M464.9 139.3h0M466.7 124.4h0M470.4 136.7h0M415.4 94.5h0M438.9 106.7h0M440.6 117.4h0M438.4 80.9h0M423.5 88.5h0M469.2 126.6h0M456.8 108.4h0M466.3 141.2h0M453.8 108.1h0M471.7 103.6h0M421.3 128.6h0M458.6 139.3h0M465.3 116.3h0M460.8 102.3h0M460.6 137.0h0M474.3 117.6h0M463.9 133.5h0M434.0 111.0h0M417.4 99.1h0M453.3 99.4h0M465.8 118.7h0M460.0 105.7h0M436.0 112.9h0M471.1 135.2h0M423.1 111.1h0M440.0 84.7h0M428.7 106.9h0M409.0 93.6h0M413.6 99.9h0M444.9 127.6h0M443.4 97.1h0M433.7 128.5h0M419.9 100.6h0M464.7 142.3h0"/><path id="a3" d="M610.9 87.0h0M609.8 98.5h0M660.5 107.2h0M666.7 118.7h0M585.3 101.6h0M645.6 118.1h0M633.1 123.5h0M615.0 96.4h0M603.6 90.5h0M656.3 131.9h0M594.0 105.2h0M647.9 122.5h0M638.5 122.3h0M639.6 111.1h0M630.2 123.4h0M645.7 133.7h0M623.4 116.2h0M632.5 125.4h0M637.4 136.8h0M624.2 115.4h0M611.5 105.9h0M619.4 108.7h0M590.4 98.3h0M619.6 119.4h0M601.4 112.5h0M599.0 93.4h0M643.0 128.7h0M589.8 105.7h0M599.4 109.0h0M623.4 101.7h0M671.5 132.7h0M605.8 108.7h0M615.4 98.3h0M635.8 138.9h0M634.2 108.6h0M630.1 123.0h0M651.1 107.6h0M595.0 99.4h0M587.4 111.8h0M645.3 134.8h0M616.7 105.7h0M662.7 125.3h0M622.1 103.8h0M655.1 109.5h0M665.5 116.3h0M656.2 111.0h0M608.0 86.9h0M625.2 100.5h0M611.3 119.3h0M657.6 128.9h0M619.3 106.1h0M587.4 113.5h0M583.2 108.0h0M647.2 104.6h0M635.4 128.7h0M645.7 135.9h0M633.9 124.5h0M638.4 119.8h0M615.7 111.7h0M649.8 133.2h0M608.5 88.6h0M620.8 115.1h0M631.9 120.7h0M620.1 109.2h0M615.2 114.9h0M608.6 108.7h0M656.6 112.9h0M629.9 122.8h0M650.8 113.2h0M610.8 109.7h0M604.0 80.3h0M649.0 131.9h0M617.9 120.5h0M623.6 114.4h0M594.7 112.0h0M670.0 131.9h0M671.9 118.3h0M624.3 99.9h0M678.8 122.5h0M664.8 122.9h0M629.3 108.5h0M619.1 116.6h0M619.6 93.3h0M667.1 131.3h0M644.3 138.5h0M641.3 108.6h0M646.2 127.9h0M654.3 128.0h0M618.2 92.6h0M660.7 108.3h0M603.4 86.0h0M666.9 114.3h0M599.9 107.1h0M636.4 133.5h0M672.4 132.6h0M639.0 127.9h0M612.6 86.1h0M608.3 106.1h0M610.4 94.9h0M585.8 109.8h0M669.4 133.7h0M649.5 137.6h0M616.0 99.2h0M603.6 84.6h0M611.8 91.6h0M670.9 131.1h0M590.6 96.4h0M611.6 103.1h0M633.0 125.8h0M607.8 86.0h0M675.4 120.0h0M628.5 125.1h0M635.2 110.3h0M652.1 127.1h0M606.8 104.4h0M643.9 134.0h0M597.8 113.9h0M596.5 96.9h0M671.4 129.3h0M625.2 104.9h0M592.0 94.3h0M637.4 136.1h0M588.2 107.2h0M599.7 98.7h0M662.0 126.6h0M644.1 127.3h0M598.3 114.3h0M609.4 103.0h0M653.9 109.0h0M665.7 122.0h0M664.1 135.7h0M618.8 118.8h0M636.5 112.4h0M665.2 112.6h0M605.8 92.1h0M613.3 105.6h0M637.1 111.0h0M593.3 92.2h0M599.5 101.3h0M634.5 128.7h0M591.0 111.2h0M613.2 122.5h0M656.2 136.5h0M605.9 117.8h0M598.5 88.9h0M586.2 109.1h0M595.0 111.0h0M619.3 116.5h0M668.8 127.9h0M614.3 105.8h0M670.8 116.4h0M653.0 131.3h0M624.4 111.3h0M617.0 104.3h0M605.2 98.9h0M620.3 108.4h0M622.5 113.2h0M613.9 117.8h0M638.4 133.9h0M597.5 92.7h0M650.7 133.5h0M592.4 114.1h0M652.8 133.9h0M621.6 106.5h0M596.4 109.9h0M639.0 113.0h0M607.2 93.6h0M620.6 114.1h0M607.7 106.2h0M616.1 107.9h0M620.6 92.8h0M674.1 118.0h0M674.8 118.0h0M658.9 117.0h0M672.3 116.4h0M625.0 104.1h0M664.7 110.9h0M628.1 126.0h0M616.9 111.8h0M613.7 102.1h0M610.5 83.3h0M663.0 125.5h0M616.7 103.8h0M648.9 128.2h0M622.0 123.3h0M594.5 104.4h0M625.4 101.7h0M593.8 110.6h0M605.5 99.7h0M653.2 107.5h0M647.1 127.7h0M648.2 113.6h0M597.0 103.5h0M604.9 120.3h0M655.6 107.5h0M620.9 122.2h0M635.4 132.7h0M611.2 100.3h0M615.0 113.4h0M637.2 120.4h0M638.9 118.3h0M617.9 91.4h0M615.9 99.3h0M638.4 108.3h0M591.7 108.8h0M641.1 123.9h0M618.3 110.5h0M596.0 112.0h0M600.6 85.5h0M607.4 102.5h0M618.5 107.0h0M595.5 97.7h0M669.2 127.5h0M663.4 134.0h0M604.4 79.3h0M651.9 128.0h0M671.8 128.2h0M612.6 85.6h0M607.4 113.7h0M594.5 109.2h0M608.6 85.8h0M603.5 101.5h0M636.2 110.8h0M644.1 131.9h0M642.4 123.7h0M629.6 119.5h0M661.1 132.5h0M633.4 136.2h0M624.1 107.0h0M633.6 123.7h0M641.8 134.7h0M621.1 96.5h0M607.0 89.6h0M593.2 111.0h0M603.8 98.7h0M653.8 134.0h0M658.8 134.2h0M658.7 109.4h0M672.5 127.2h0M607.8 81.8h0M582.3 107.8h0M584.4 108.2h0M678.9 126.7h0M618.3 107.2h0M626.6 107.3h0M642.3 136.8h0M615.3 114.9h0M604.7 75.1h0M618.7 98.0h0M636.3 126.8h0M623.1 109.3h0M624.6 125.3h0M624.8 117.1h0M603.2 112.5h0M587.2 104.2h0M642.6 121.1h0M615.3 113.2h0M634.5 110.2h0M630.8 115.9h0M679.1 126.8h0M599.3 98.0h0M607.1 102.6h0M647.5 119.2h0M601.0 85.9h0M585.2 102.0h0M640.5 111.6h0M632.3 134.8h0M646.2 123.2h0M609.2 119.0h0M670.7 118.9h0M584.6 109.2h0M675.0 119.9h0M667.5 131.1h0M612.6 110.0h0M628.5 131.0h0M595.9 113.4h0M619.8 104.6h0M630.5 115.7h0M673.6 125.5h0M609.9 93.9h0M631.9 121.8h0M605.7 92.8h0M605.6 85.1h0M669.1 124.4h0M604.3 102.8h0M625.0 123.5h0M664.4 117.9h0M662.5 137.8h0M626.8 124.1h0M611.3 121.5h0M642.0 123.3h0M661.5 127.0h0M652.1 114.8h0M624.3 96.4h0M586.7 103.7h0M647.6 111.0h0M640.0 137.8h0M615.6 114.9h0M661.9 111.1h0M620.9 95.7h0M602.6 83.1h0M620.1 97.1h0M678.9 120.0h0M627.4 96.7h0M628.8 114.2h0M592.0 102.3h0M598.8 111.4h0M616.0 116.0h0M618.1 106.9h0M618.1 120.1h0M598.2 105.8h0M651.8 105.9h0M631.4 116.3h0M619.8 96.8h0M660.8 130.3h0M655.0 106.3h0M604.2 89.8h0M608.8 81.6h0M637.6 126.6h0M664.7 114.3h0M676.5 125.1h0M590.2 104.0h0M645.2 124.8h0M610.4 100.5h0M670.3 126.4h0M620.0 116.1h0M618.7 113.7h0M639.5 115.4h0M610.1 105.2h0M602.4 108.0h0M600.3 100.0h0M607.9 114.2h0M610.3 104.6h0M624.9 110.3h0M632.2 122.1h0M622.4 104.7h0M591.6 108.7h0M638.0 131.0h0M603.4 111.0h0M604.8 87.4h0M673.1 130.2h0M673.1 127.1h0M634.2 136.6h0M671.5 117.7h0M655.3 111.3h0M627.8 126.7h0M607.0 94.8h0M605.2 95.8h0M661.4 137.7h0M591.5 105.8h0M616.4 104.1h0M592.2 93.6h0M631.7 128.7h0M649.0 126.2h0M630.0 115.3h0M643.5 123.3h0M607.9 119.3h0"/><path id="b3" d="M678.8 121.9h0M585.3 107.8h0M595.5 95.5h0M609.4 83.2h0M653.5 117.3h0M633.5 115.0h0M627.2 129.0h0M592.7 109.1h0M603.4 98.2h0M652.3 135.6h0M636.7 137.3h0M625.2 106.0h0M632.1 122.4h0M659.7 114.8h0M642.2 117.6h0M663.6 137.4h0M594.5 101.1h0M604.3 83.6h0M600.7 102.4h0M602.1 86.3h0M600.6 113.3h0M613.0 116.2h0M641.1 138.3h0M603.7 73.6h0M593.9 108.3h0M656.4 127.0h0M659.5 131.8h0M649.8 134.1h0M660.8 137.8h0M587.2 106.9h0M618.4 105.9h0M629.9 128.5h0M598.9 103.0h0M650.4 105.3h0M594.8 99.1h0M612.6 120.3h0M652.1 127.7h0M648.9 116.5h0M675.7 124.1h0M624.9 111.6h0M584.8 107.3h0M617.9 103.3h0M645.9 139.9h0M617.8 98.3h0M658.1 131.1h0M619.7 104.0h0M626.2 114.2h0M617.2 109.5h0M614.0 86.9h0M639.6 117.5h0M656.9 114.0h0M611.6 97.2h0M600.2 102.4h0M609.9 109.7h0M646.2 116.9h0M589.2 108.0h0M626.6 127.0h0M635.9 110.1h0M598.1 101.4h0M653.7 133.5h0M660.4 110.9h0M642.3 130.2h0M650.3 114.7h0M631.9 135.9h0M656.6 107.3h0M626.2 106.7h0M647.3 138.9h0M644.7 114.4h0M601.3 113.2h0M600.0 102.4h0M618.4 121.2h0M616.4 112.4h0M651.7 108.7h0M627.4 110.4h0M661.4 107.4h0M619.7 97.2h0M621.9 98.0h0M628.2 124.8h0M614.4 118.0h0M608.4 120.2h0M608.6 95.5h0M603.8 88.2h0M618.0 103.3h0M615.6 107.7h0M664.1 108.9h0M664.8 114.2h0M665.6 118.2h0M606.5 111.9h0M646.2 114.1h0M583.9 110.3h0M666.8 113.6h0M649.9 106.5h0M679.1 122.0h0M674.9 127.1h0M657.8 132.7h0M608.9 97.5h0M664.0 135.9h0M635.5 114.8h0M653.6 139.6h0M612.2 108.0h0M583.3 112.1h0M622.3 119.2h0M604.6 71.7h0M618.6 108.6h0M637.5 124.1h0M623.7 99.5h0M583.5 106.5h0M652.5 108.3h0M654.0 134.2h0M616.7 110.2h0M642.1 107.1h0M664.4 107.7h0M641.0 116.8h0M650.8 108.9h0M615.2 107.7h0M641.8 138.2h0M602.8 96.2h0M661.9 109.1h0M625.6 94.5h0M643.5 106.9h0M633.4 111.3h0M654.7 117.1h0M609.7 89.4h0M626.7 113.0h0M659.9 138.4h0M608.4 112.7h0M610.2 97.8h0M641.5 140.1h0M612.0 103.6h0M624.2 99.2h0M621.0 102.7h0M661.7 136.4h0M613.6 93.3h0M607.1 81.9h0M617.2 115.6h0M674.9 124.2h0M601.0 103.2h0M665.0 126.2h0M662.6 114.2h0M643.2 139.2h0M640.6 108.9h0M610.0 90.0h0M676.0 122.0h0M606.4 116.7h0M591.9 95.8h0M602.6 112.8h0M638.4 118.2h0M609.4 108.7h0M651.4 107.3h0M603.8 85.6h0M614.7 109.8h0M592.3 113.0h0M659.6 129.0h0M612.5 100.3h0M621.3 116.3h0M654.9 111.7h0M673.4 120.0h0M624.4 94.9h0M624.2 117.3h0M599.7 103.2h0M657.6 108.1h0M666.3 114.8h0M609.0 112.7h0M626.5 110.0h0M586.9 100.5h0M645.4 136.5h0M677.2 121.3h0M639.6 130.2h0"/><path id="a4" d="M447.4 183.1h0M434.7 198.4h0M433.4 190.8h0M436.9 186.4h0M444.9 197.3h0M444.7 209.3h0M446.8 197.4h0M446.2 207.3h0M435.4 177.3h0M449.2 187.3h0M443.1 191.6h0M446.2 195.8h0M437.1 186.0h0M437.4 198.7h0M444.5 193.5h0M435.2 191.9h0M435.2 183.5h0M451.3 183.0h0M442.3 176.4h0M451.6 182.5h0M437.0 192.2h0M447.5 182.0h0M443.7 197.5h0M443.4 174.1h0M438.2 197.0h0M436.5 201.5h0M445.3 201.2h0M441.6 167.8h0M435.6 188.3h0M445.1 186.4h0M444.9 206.2h0M445.4 208.1h0M445.1 204.1h0M442.3 175.2h0M433.4 186.0h0M448.6 180.2h0M435.2 195.3h0M435.7 177.2h0M439.0 183.8h0M438.0 174.6h0M435.8 192.2h0M436.7 190.5h0M441.7 180.0h0M442.5 205.6h0M443.1 183.9h0M441.3 188.7h0M442.7 191.7h0M449.9 184.2h0M447.9 188.9h0M442.1 178.2h0M439.7 202.4h0M441.3 187.5h0M435.4 190.0h0M437.6 179.7h0M444.3 181.8h0M444.0 175.8h0M444.4 175.6h0M439.5 200.4h0M445.8 208.2h0M425.9 168.6h0M422.2 174.7h0M424.6 169.6h0M423.6 176.5h0M421.0 172.4h0M423.8 170.5h0M425.1 170.6h0M426.8 173.6h0M423.9 173.3h0M424.3 169.3h0M421.3 174.5h0M422.1 172.5h0M419.7 173.5h0M427.1 175.4h0M420.2 174.3h0M462.6 193.0h0M451.4 186.7h0M455.2 193.5h0M455.9 209.6h0M454.8 197.8h0M458.8 206.6h0M458.1 206.7h0M462.3 202.8h0M453.8 192.6h0M452.2 219.6h0M452.8 212.9h0M457.2 198.1h0M461.2 199.2h0M460.0 197.6h0M450.0 216.3h0M457.1 209.9h0M455.0 209.4h0M463.3 195.9h0M450.8 215.9h0M452.4 200.1h0M454.2 216.7h0M457.4 218.3h0M456.0 214.4h0M451.4 187.7h0M454.0 187.6h0M458.5 216.6h0M446.6 214.0h0M451.6 213.1h0M452.3 199.7h0M462.1 203.2h0M452.4 184.7h0M448.0 212.5h0M462.6 192.1h0M458.5 217.6h0M449.6 207.7h0M453.0 189.1h0M461.8 205.8h0M451.4 186.7h0M456.7 190.3h0M454.5 210.6h0M459.8 199.6h0M448.6 216.2h0M461.0 192.1h0M449.4 216.1h0M461.3 217.6h0M458.4 191.2h0M450.3 189.5h0M462.8 196.0h0M454.2 213.7h0M460.2 216.5h0M452.0 191.5h0M456.7 215.5h0M460.0 213.1h0M453.5 208.7h0M458.1 199.3h0M455.5 214.7h0M450.0 212.9h0M456.3 211.9h0M451.6 185.8h0M456.1 205.8h0M453.2 193.0h0M451.7 191.5h0M460.4 197.1h0M458.5 203.4h0M457.7 215.2h0M456.2 188.3h0M450.4 216.4h0M457.0 205.4h0M457.4 218.7h0M445.8 212.2h0M450.6 208.4h0M462.3 200.4h0M452.6 208.5h0M457.8 190.7h0M462.9 193.8h0M451.0 217.6h0M451.8 213.7h0M449.7 215.0h0M453.6 214.7h0M454.3 196.8h0M453.7 218.5h0M446.8 210.6h0M460.0 189.5h0M448.7 207.5h0M454.3 203.1h0M455.5 189.0h0M457.3 207.9h0M454.6 190.5h0M456.2 218.3h0M458.3 215.0h0M456.5 215.9h0M453.0 207.5h0M452.4 192.7h0M458.7 212.8h0M458.0 199.3h0M452.9 189.9h0M455.2 201.3h0M453.2 216.5h0M461.9 193.6h0M453.7 191.1h0M453.8 200.0h0M460.9 207.6h0M459.3 201.1h0M455.3 212.7h0M462.6 201.8h0M461.2 193.0h0M453.9 192.1h0M456.2 209.3h0M451.0 218.5h0M457.7 219.3h0M462.8 199.9h0M455.9 207.1h0M461.9 194.6h0M458.0 188.7h0M457.1 194.1h0M452.4 218.9h0M447.4 210.8h0M453.8 187.2h0M457.1 203.2h0M447.5 217.8h0M455.9 206.0h0M455.0 208.6h0M452.3 212.7h0M449.1 212.3h0M461.8 209.5h0M452.7 214.3h0"/><path id="b4" d="M439.3 177.5h0M446.8 179.4h0M449.9 186.9h0M435.2 187.1h0M445.0 210.8h0M445.8 207.0h0M432.0 181.8h0M443.4 180.5h0M445.4 179.7h0M439.1 177.0h0M446.6 197.8h0M443.9 174.2h0M447.7 188.8h0M437.1 187.4h0M448.1 178.6h0M438.5 195.8h0M445.5 178.0h0M437.3 194.0h0M445.9 192.5h0M433.6 187.2h0M449.9 187.3h0M448.5 187.5h0M447.4 184.0h0M447.6 195.3h0M429.6 168.8h0M422.9 175.9h0M419.5 172.8h0M422.8 170.8h0M424.1 168.9h0M426.3 171.8h0M462.3 192.0h0M459.6 190.5h0M453.6 196.6h0M454.8 190.2h0M460.8 216.1h0M453.3 198.3h0M461.3 201.3h0M459.4 203.0h0M455.6 204.3h0M453.4 185.5h0M454.1 188.4h0M457.6 194.0h0M453.2 194.8h0M454.7 208.8h0M458.2 196.6h0M454.0 214.6h0M462.7 200.3h0M453.1 218.7h0M461.7 218.7h0M449.6 219.2h0M454.8 217.8h0M454.9 213.2h0M452.1 208.2h0M458.6 217.2h0M452.2 188.2h0M454.6 189.3h0M457.4 208.1h0M461.5 208.6h0M462.5 212.1h0M451.8 185.5h0M451.4 219.1h0M456.5 190.4h0M458.0 219.2h0M446.9 214.3h0M451.6 190.3h0M457.5 214.7h0M454.7 219.9h0M454.0 203.7h0M463.3 195.3h0M448.5 217.2h0M447.9 212.4h0M462.7 198.9h0M456.0 198.2h0M456.2 198.0h0M454.5 200.6h0M454.5 206.7h0M449.4 213.3h0M462.2 196.2h0M453.2 187.3h0M455.9 204.7h0M461.0 192.0h0M456.7 215.8h0M462.0 194.6h0M452.5 211.3h0M451.1 190.6h0M459.1 190.6h0M462.3 194.7h0"/><path id="a5" d="M618.5 198.0h0M606.7 209.2h0M629.8 215.6h0M636.7 221.8h0M626.7 195.6h0M624.1 215.5h0M615.6 210.9h0M625.6 212.5h0M637.0 198.4h0M609.7 208.0h0M626.2 189.3h0M614.5 211.8h0M619.5 217.6h0M628.6 195.5h0M634.9 224.3h0M633.1 200.5h0M636.8 215.5h0M621.6 196.4h0M623.3 206.0h0M609.5 206.2h0M622.5 190.6h0M638.4 221.5h0M628.7 188.1h0M606.3 199.0h0M638.7 216.4h0M614.9 217.2h0M602.6 206.8h0M617.3 188.3h0M623.9 210.4h0M620.1 199.4h0M635.2 200.3h0M635.4 194.7h0M613.8 206.0h0M630.5 216.4h0M615.8 203.8h0M625.0 208.6h0M636.6 221.4h0M613.8 206.4h0M618.7 207.7h0M604.8 209.5h0M622.5 214.8h0M616.7 207.2h0M630.7 208.4h0M625.7 200.4h0M615.8 211.1h0M619.5 202.7h0M616.9 196.8h0M609.8 210.9h0M622.5 210.1h0M627.6 199.1h0M633.1 190.4h0M619.8 212.6h0M616.4 194.2h0M619.3 202.5h0M615.2 217.1h0M624.6 199.5h0M614.5 217.7h0M621.9 191.5h0M629.2 193.5h0M636.4 197.6h0M616.8 200.8h0M631.5 188.2h0M609.3 214.6h0M629.9 203.5h0M610.1 197.7h0M615.4 195.2h0M626.1 211.0h0M635.0 223.7h0M625.4 189.1h0M634.9 218.6h0M607.0 200.2h0M623.0 197.1h0M637.6 220.9h0M627.4 198.4h0M618.6 202.8h0M635.3 224.3h0M610.9 205.0h0M631.9 214.2h0M637.8 216.0h0M621.0 198.3h0M636.0 221.0h0M633.2 207.8h0M632.1 207.0h0M624.8 219.5h0M623.7 204.4h0M634.9 222.8h0M621.6 205.0h0M604.6 202.1h0M610.1 212.6h0M626.9 193.4h0M620.2 202.0h0M609.2 200.9h0M617.7 205.6h0M629.1 189.4h0M616.9 190.1h0M636.1 187.9h0M634.7 192.9h0M638.7 219.8h0M608.1 213.5h0M618.9 191.9h0M623.3 220.1h0M620.7 195.1h0M635.3 189.6h0M629.0 196.9h0M635.3 191.5h0M638.3 187.4h0M627.8 206.3h0M624.4 217.2h0M630.2 203.9h0M636.6 214.8h0M630.3 191.9h0M634.5 213.5h0M631.9 215.5h0M629.2 199.8h0M611.1 202.7h0M612.3 214.3h0M634.7 214.6h0M614.8 208.2h0M614.5 206.9h0M622.9 191.3h0M635.1 217.3h0M632.5 188.9h0M611.3 214.8h0M633.6 209.6h0M638.5 202.1h0M611.0 204.0h0M613.9 200.3h0M632.6 198.0h0M629.9 208.7h0M603.0 205.4h0M618.7 193.1h0M631.6 196.9h0M628.1 211.1h0M615.0 195.3h0M627.3 210.2h0M610.5 213.3h0M636.7 221.9h0M639.0 224.5h0M631.0 207.7h0M622.8 206.4h0M638.9 223.4h0M619.2 193.2h0M623.1 202.0h0M633.7 221.6h0M626.3 188.5h0M623.0 190.4h0M623.1 217.6h0M628.4 203.7h0M617.8 201.0h0M616.9 196.1h0M607.7 210.9h0M631.4 205.1h0M626.8 214.7h0M616.1 215.5h0M624.9 195.3h0M634.0 217.7h0M625.1 195.0h0M612.8 204.4h0M633.2 216.2h0M633.3 208.4h0M636.1 214.3h0M621.8 192.8h0M626.6 192.6h0M625.9 195.1h0M605.1 211.2h0M604.0 201.3h0M626.8 191.0h0M627.6 190.4h0M623.6 189.9h0M628.2 212.2h0M624.9 200.5h0M623.5 206.7h0M637.9 216.0h0M611.5 200.4h0M625.4 200.3h0M619.9 190.8h0M637.6 190.8h0M632.1 208.6h0M633.6 193.5h0M611.1 201.5h0M625.2 195.8h0M624.6 208.1h0M620.3 207.1h0M625.0 201.2h0M620.4 214.6h0M604.6 204.6h0M609.5 200.4h0M613.9 197.3h0M632.7 206.8h0M634.7 203.0h0M628.7 203.6h0M627.6 201.8h0M624.6 198.7h0M620.3 201.7h0M634.2 218.8h0M611.0 211.6h0M613.8 199.2h0M633.4 199.6h0M635.9 190.4h0M621.1 203.6h0M637.9 216.9h0M622.7 214.0h0M634.7 211.7h0M636.1 204.0h0M618.8 210.7h0M606.6 211.5h0M608.5 197.3h0M629.1 190.5h0M634.8 192.8h0M624.0 209.2h0M623.7 208.8h0M617.1 194.7h0M624.6 217.9h0M622.1 217.5h0M610.1 200.8h0M645.5 174.0h0M637.8 172.7h0M645.0 170.3h0M642.0 171.7h0M643.5 171.4h0M646.1 170.5h0M643.1 170.8h0M644.7 177.9h0M644.8 173.9h0M643.9 175.5h0M643.8 179.6h0M639.6 185.2h0M641.9 183.8h0"/><path id="b5" d="M627.0 190.4h0M632.4 211.7h0M623.4 220.4h0M623.9 194.1h0M621.4 206.1h0M628.2 191.3h0M636.5 193.6h0M626.4 190.3h0M634.5 193.6h0M614.8 204.3h0M606.7 208.5h0M626.0 192.8h0M619.9 213.1h0M622.9 210.4h0M628.0 201.1h0M625.3 194.2h0M622.8 196.8h0M631.1 192.0h0M633.1 188.9h0M617.2 214.2h0M622.2 214.8h0M630.4 205.5h0M620.4 206.9h0M630.8 219.1h0M623.1 215.8h0M630.5 205.8h0M622.8 213.3h0M637.9 191.1h0M635.9 210.8h0M635.3 210.5h0M622.4 202.3h0M608.5 195.9h0M623.9 211.6h0M607.1 210.0h0M635.2 222.8h0M620.3 206.0h0M623.8 207.8h0M622.6 189.2h0M619.0 213.6h0M631.5 191.7h0M633.9 189.4h0M612.6 203.1h0M613.3 211.8h0M630.4 191.2h0M627.3 202.1h0M609.2 210.0h0M635.6 220.4h0M606.4 210.9h0M616.7 209.7h0M628.7 211.2h0M644.7 178.5h0M641.4 181.3h0"/><path id="a6" d="M457.9 51.4h0M477.2 65.7h0M471.2 38.9h0M459.3 70.1h0M474.3 53.6h0M471.1 36.1h0M474.0 54.9h0M460.5 67.7h0M473.1 35.5h0M472.7 60.3h0M459.4 39.3h0M462.0 67.8h0M469.7 39.6h0M472.4 46.2h0M467.2 34.2h0M461.8 46.7h0M465.5 71.5h0M477.9 64.8h0M462.1 40.3h0M456.3 51.0h0M459.3 48.2h0M472.9 38.5h0M471.1 48.4h0M457.5 37.6h0M469.2 35.1h0M469.5 66.9h0M467.2 50.8h0M469.0 40.6h0M469.3 51.9h0M483.1 64.3h0M470.9 61.1h0M476.7 62.8h0M476.6 56.4h0M470.5 70.4h0M475.4 61.8h0M473.9 75.0h0M480.9 62.7h0M462.4 71.1h0M481.8 63.7h0M461.7 58.2h0M472.2 38.4h0M456.2 49.4h0M473.2 47.9h0M464.4 56.6h0M470.0 74.6h0M456.8 44.3h0M473.9 65.9h0M468.6 37.7h0M464.2 53.5h0M463.3 26.4h0M457.8 59.3h0M459.9 41.7h0M469.3 75.2h0M461.2 41.7h0M472.3 62.9h0M477.5 71.2h0M472.5 36.5h0M478.2 69.5h0M465.3 63.3h0M471.5 57.4h0M472.2 47.4h0M459.2 53.4h0M466.1 34.6h0M461.4 63.4h0M465.4 32.5h0M468.4 45.7h0M482.7 63.3h0M466.2 46.3h0M474.1 76.8h0M466.9 56.0h0M479.5 58.7h0M472.2 45.3h0M457.2 62.2h0M469.6 37.3h0M460.5 37.6h0M467.5 39.5h0M463.1 38.7h0M473.9 72.6h0M461.9 63.7h0M459.5 26.7h0M470.7 40.0h0M463.4 46.5h0M461.7 34.8h0M467.9 60.1h0M463.1 55.6h0M463.2 51.7h0M463.8 42.3h0M458.8 35.5h0M472.3 40.8h0M465.1 43.5h0M462.4 25.6h0M473.4 61.7h0M459.6 36.8h0M467.1 48.4h0M465.8 60.4h0M460.5 41.1h0M471.3 48.5h0M479.3 68.4h0M470.7 46.3h0M465.4 58.4h0M463.5 33.9h0M458.4 45.2h0M470.5 67.9h0M457.8 41.2h0M464.4 46.6h0M464.7 35.3h0M481.0 64.6h0M459.1 36.8h0M458.9 45.8h0M471.7 65.9h0M479.2 58.8h0M468.6 70.1h0M465.1 62.7h0M467.2 69.8h0M472.9 37.8h0M477.5 55.1h0M481.7 70.7h0M456.8 43.0h0M470.3 40.9h0M463.1 49.7h0M479.3 64.3h0M467.8 71.9h0M456.8 55.0h0M464.3 63.9h0M462.9 41.7h0M475.5 61.7h0M461.6 62.7h0M458.2 51.3h0M463.6 29.5h0M459.9 43.4h0M460.4 51.7h0M480.2 69.8h0M452.9 58.1h0M454.2 60.8h0M450.4 60.8h0M452.8 57.6h0M451.7 55.0h0M447.6 58.6h0M453.5 61.5h0"/><path id="b6" d="M456.7 42.1h0M459.6 67.0h0M478.5 69.6h0M465.4 27.8h0M460.1 27.5h0M457.5 51.8h0M459.8 43.1h0M459.5 40.7h0M464.0 51.9h0M463.6 53.8h0M477.5 57.1h0M455.9 58.9h0M461.3 52.2h0M459.0 54.4h0M473.2 59.2h0M459.8 42.9h0M467.3 42.2h0M459.2 27.9h0M473.7 49.9h0M460.1 59.4h0M458.7 53.9h0M478.8 56.1h0M456.7 48.7h0M465.5 29.5h0M459.8 62.0h0M464.0 62.5h0M459.0 29.4h0M466.3 72.0h0M469.9 35.9h0M482.6 67.0h0M470.2 34.0h0M459.0 43.2h0M463.5 27.1h0M462.0 70.0h0M464.1 28.0h0M457.7 36.8h0M461.4 61.0h0M463.1 64.1h0M459.7 69.7h0M470.6 56.3h0M464.7 65.9h0M473.1 64.5h0M454.8 54.1h0M467.9 39.7h0M458.1 50.0h0M456.6 60.5h0M465.4 67.6h0M469.7 36.5h0M471.4 43.6h0M460.7 41.4h0M468.0 33.7h0M467.2 38.7h0M467.2 55.2h0M454.1 57.2h0M466.6 29.7h0M473.3 62.3h0M469.7 57.8h0M469.0 61.2h0M466.9 30.6h0M463.0 29.0h0M462.5 60.3h0M473.1 75.9h0M462.3 57.0h0M455.9 45.1h0M455.9 44.9h0M474.0 68.8h0M465.0 44.8h0M476.0 58.7h0M466.0 68.2h0M467.1 45.4h0M472.9 73.8h0M452.9 58.3h0M477.1 66.8h0M474.4 70.9h0M477.5 66.9h0M455.6 43.0h0M450.0 57.3h0"/><path id="a7" d="M376.2 201.7h0M379.4 223.6h0M369.7 212.1h0M384.2 219.5h0M395.1 213.8h0M388.7 230.9h0M390.3 205.1h0M377.8 212.1h0M388.3 204.2h0M382.0 215.7h0M373.1 212.5h0M388.5 212.3h0M372.9 219.8h0M373.0 213.0h0M382.9 218.4h0M387.3 217.8h0M385.8 229.2h0M394.0 213.9h0M376.2 217.3h0M368.5 214.2h0M378.9 221.6h0M380.1 203.2h0M382.9 215.6h0M388.2 223.4h0M379.5 209.6h0M382.5 226.4h0M389.3 214.4h0M376.9 206.2h0M371.0 214.0h0M386.4 226.8h0M382.1 214.2h0M388.6 204.0h0M385.4 214.4h0M372.6 219.2h0M370.6 212.5h0M377.3 202.0h0M387.8 205.4h0M392.2 213.5h0M374.0 206.2h0M373.9 202.5h0M385.5 216.1h0M388.2 218.2h0M381.6 226.6h0M371.5 206.5h0M394.3 211.1h0M393.1 216.4h0M379.9 230.1h0M381.6 209.5h0M391.7 228.0h0M396.1 222.4h0M382.5 207.4h0M387.1 220.9h0M391.6 211.4h0M389.2 211.9h0M378.0 201.0h0M392.8 202.7h0M372.8 209.6h0M380.7 218.9h0M383.1 220.0h0M392.9 215.9h0M394.4 213.9h0M392.5 206.7h0M384.1 230.3h0M384.8 198.7h0M391.2 220.4h0M388.8 221.0h0M376.5 214.3h0M370.1 211.8h0M371.4 208.6h0M379.6 229.7h0M383.4 211.0h0M385.6 223.1h0M379.4 224.2h0M383.9 219.6h0M374.5 223.7h0M387.2 231.5h0M375.2 210.9h0M390.8 226.4h0M376.1 206.4h0M388.2 225.1h0M393.7 204.4h0M383.8 212.5h0M382.7 226.0h0M370.6 221.9h0M375.8 199.9h0M381.4 201.5h0M381.3 202.8h0M380.8 201.7h0M380.8 217.9h0M387.9 201.5h0M386.3 209.5h0M380.1 215.4h0M385.3 201.1h0M372.3 211.5h0M387.1 228.6h0M385.1 222.6h0M386.9 199.5h0M390.5 212.0h0M380.9 223.3h0M378.1 214.8h0M374.2 208.7h0M375.7 220.9h0M397.2 219.2h0M390.6 218.1h0M369.9 213.0h0M370.1 209.6h0M377.0 205.5h0M376.2 204.8h0M384.5 222.2h0M396.3 217.7h0"/><path id="b7" d="M390.6 222.6h0M372.4 200.1h0M374.3 199.1h0M383.7 212.8h0M380.5 206.8h0M377.4 224.6h0M383.4 205.1h0M371.8 211.3h0M375.9 204.4h0M381.9 218.1h0M371.1 213.8h0M391.1 212.9h0M383.6 205.7h0M394.6 225.7h0M385.7 213.1h0M376.3 214.2h0M368.8 215.7h0M375.4 217.4h0M380.0 212.5h0M377.3 206.7h0M371.3 208.3h0M381.1 205.8h0M375.7 205.7h0M376.9 217.7h0M389.2 216.8h0M392.2 222.2h0M371.8 221.1h0M386.3 211.8h0M382.4 209.0h0M388.6 225.3h0M388.6 227.7h0M381.1 221.1h0M385.6 205.9h0M374.9 202.7h0M383.4 221.8h0M382.4 223.6h0M369.9 207.6h0M390.5 220.7h0M377.7 200.9h0M376.6 214.9h0M391.7 214.5h0M377.9 226.3h0M382.8 211.0h0M389.3 202.4h0M381.8 203.9h0M393.8 224.2h0M391.2 206.0h0M372.2 222.2h0M378.0 223.9h0M386.8 210.3h0M383.2 219.0h0M381.6 221.5h0M393.3 209.9h0M369.7 211.9h0M389.6 207.8h0M378.9 203.4h0M396.9 220.3h0M381.7 224.5h0M379.0 216.3h0M384.2 225.8h0M368.5 217.5h0M377.7 217.4h0M384.8 207.8h0M373.6 211.2h0"/><path id="a8" d="M389.7 158.6h0M407.2 159.7h0M371.1 152.4h0M371.6 149.6h0M370.0 148.3h0M399.8 149.4h0M391.2 162.4h0M393.7 161.3h0M391.0 155.4h0M396.8 162.1h0M388.7 148.1h0M400.7 152.5h0M377.4 160.3h0M399.2 161.4h0M386.6 154.5h0M382.0 156.3h0M395.9 162.1h0M373.8 152.1h0M377.0 156.4h0M398.5 150.5h0M377.7 144.7h0M393.3 152.1h0M374.7 150.0h0M391.8 146.3h0M375.4 151.0h0M400.7 157.0h0M397.5 153.4h0M377.1 147.3h0M378.9 152.8h0M374.5 158.3h0M399.0 161.6h0M400.6 159.3h0M385.4 147.0h0M398.1 156.1h0M387.1 157.5h0M389.5 148.9h0M374.1 147.7h0M384.8 146.7h0M373.7 149.7h0M388.9 153.9h0M393.2 146.8h0M382.1 152.7h0M368.8 149.7h0M390.9 156.4h0M377.6 144.4h0M390.8 146.3h0M379.9 160.2h0M403.1 157.0h0M367.5 149.0h0M388.1 155.9h0M390.4 150.9h0M385.0 159.4h0M398.6 159.8h0M373.6 149.5h0M379.5 146.1h0M389.3 147.3h0M381.5 159.7h0M402.3 151.7h0M390.5 150.3h0M374.4 158.4h0M400.4 151.6h0M399.9 156.8h0M392.1 148.3h0M380.1 157.7h0M394.2 158.5h0M373.7 153.5h0M396.6 157.4h0M372.5 153.6h0M381.3 144.3h0M391.5 152.2h0M390.2 154.1h0M376.3 156.0h0M399.8 154.1h0M396.0 146.9h0M384.2 154.5h0M374.0 153.8h0M392.6 149.1h0M393.7 154.3h0M385.0 155.1h0M391.4 154.7h0M370.4 151.3h0M395.2 145.9h0M391.2 162.6h0M402.9 151.3h0M381.9 154.8h0M383.3 147.5h0M385.8 151.9h0M395.1 163.0h0M381.6 148.0h0M398.4 156.9h0M380.1 158.7h0M399.5 150.7h0M395.8 156.5h0M376.5 151.1h0M401.8 159.6h0M400.3 158.5h0"/><path id="b8" d="M403.6 160.0h0M386.5 163.8h0M371.5 154.1h0M367.6 149.1h0M399.8 159.7h0M386.5 161.6h0M379.9 145.6h0M390.1 163.2h0M395.2 157.4h0M389.8 159.8h0M379.8 155.8h0M392.2 145.4h0M382.2 162.8h0M382.3 152.7h0M390.9 147.0h0M383.5 145.5h0M393.4 159.2h0M388.3 157.9h0M384.9 146.1h0M376.0 147.0h0M392.8 151.6h0M378.1 145.7h0M384.6 145.8h0M381.0 161.0h0M367.9 152.2h0M402.5 160.7h0M390.8 150.0h0M401.5 154.5h0M380.1 155.1h0M404.6 152.1h0M371.6 147.3h0M396.5 161.0h0M388.4 151.4h0M385.4 161.3h0M377.4 156.4h0M369.7 151.7h0M401.9 161.0h0M399.0 147.7h0M374.1 153.7h0M388.2 153.0h0M403.2 150.3h0"/><path id="a9" d="M488.9 293.2h0M496.4 293.8h0M494.7 291.6h0M495.9 295.2h0M497.3 294.2h0M485.5 282.4h0M496.6 288.5h0M496.8 293.0h0M490.3 290.3h0M488.3 282.7h0M488.9 286.0h0M497.0 291.8h0M494.6 292.7h0M490.3 285.2h0M491.7 293.6h0M486.7 291.2h0M491.0 295.3h0M490.1 287.1h0M488.7 282.9h0M493.1 288.9h0M494.7 292.0h0M491.0 285.1h0M488.6 284.9h0M491.5 286.8h0M492.0 290.6h0M492.9 289.1h0M490.6 287.1h0M491.1 285.2h0M492.2 288.3h0M491.6 284.0h0M494.8 284.8h0M488.9 290.2h0M494.3 293.4h0M497.9 288.7h0M486.7 286.0h0M487.7 290.8h0M491.4 290.1h0M495.1 285.4h0M488.0 290.4h0M488.6 287.7h0M493.2 288.7h0M487.3 286.2h0M497.0 293.8h0M487.6 292.5h0M494.1 282.1h0M495.5 293.9h0M495.9 285.2h0M495.9 283.7h0M489.8 284.4h0M495.9 292.2h0M491.8 288.4h0M488.4 289.2h0M487.3 287.5h0M494.1 291.9h0M488.6 281.4h0M494.1 281.4h0M496.8 293.1h0M491.4 294.3h0M495.3 290.7h0M493.9 291.2h0M484.1 277.3h0"/><path id="b9" d="M493.0 283.2h0M491.2 287.4h0M491.2 291.4h0M494.3 294.9h0M487.8 282.8h0M493.0 288.2h0M489.0 289.1h0M490.1 290.5h0M489.3 289.5h0M490.8 289.2h0M484.4 277.7h0M480.1 270.8h0"/><path id="a10" d="M697.0 165.8h0M705.0 169.7h0M707.5 170.1h0M699.8 168.9h0M696.6 167.2h0M713.0 173.4h0M704.6 165.3h0M709.2 171.4h0M708.5 173.0h0M699.8 166.7h0M705.9 167.2h0M703.5 165.0h0M702.2 167.3h0M707.6 172.0h0M702.9 164.5h0M701.4 168.0h0M707.5 167.6h0M704.0 171.7h0M699.9 165.6h0M707.9 171.7h0M712.0 171.0h0M708.0 168.0h0M704.7 171.4h0M707.4 173.3h0M702.2 169.1h0M714.9 173.9h0M708.6 168.1h0M701.2 168.0h0M703.7 170.5h0M701.2 167.1h0M710.0 174.6h0M707.3 167.6h0M707.7 169.9h0M700.7 168.8h0M695.2 168.9h0M701.1 167.8h0M698.6 167.0h0M703.7 170.4h0M715.2 172.7h0M713.4 173.1h0M712.7 174.5h0M709.8 169.1h0M700.1 165.4h0M711.6 172.7h0M704.9 170.7h0M702.9 170.7h0M705.9 167.8h0M701.8 165.9h0M698.9 170.9h0"/><path id="b10" d="M700.9 165.8h0M698.3 168.7h0M710.1 170.4h0M707.3 170.6h0M703.4 168.4h0M698.5 169.1h0M710.7 170.8h0"/><path id="a11" d="M482.1 161.7h0M482.7 162.3h0M484.3 168.9h0M486.4 164.1h0M483.5 159.4h0M479.5 160.4h0M483.4 162.6h0M483.2 165.0h0M482.6 160.8h0M484.8 161.4h0M482.0 164.6h0M481.7 163.1h0M482.7 162.3h0M480.6 161.5h0M483.2 159.7h0M482.2 162.0h0M482.9 166.2h0M483.4 171.2h0M485.9 162.9h0M482.4 160.5h0M484.5 166.1h0M481.5 162.1h0M482.4 163.4h0M482.9 167.8h0M482.3 166.7h0"/><path id="b11" d=""/><g id="allc"><use href="#a0"/><use href="#b0"/><use href="#a1"/><use href="#b1"/><use href="#a2"/><use href="#b2"/><use href="#a3"/><use href="#b3"/><use href="#a4"/><use href="#b4"/><use href="#a5"/><use href="#b5"/><use href="#a6"/><use href="#b6"/><use href="#a7"/><use href="#b7"/><use href="#a8"/><use href="#b8"/><use href="#a9"/><use href="#b9"/><use href="#a10"/><use href="#b10"/><use href="#a11"/><use href="#b11"/></g></defs><text x="-1.0" y="17.6" font-size="20" font-weight="bold">a</text><text x="309.3" y="17.6" font-size="20" font-weight="bold">b</text><text x="-0.4" y="338.6" font-size="20" font-weight="bold">c</text><line x1="48.2" x2="140.6" y1="102.3" y2="102.3" stroke="#ddd" stroke-width="0.6" stroke-dasharray="2 2"/><line x1="48.2" x2="140.6" y1="193.4" y2="193.4" stroke="#ddd" stroke-width="0.6" stroke-dasharray="2 2"/><path d="M94.60 85.20C94.68 87.52 94.82 96.20 95.10 99.10C95.38 102.00 95.67 100.85 96.30 102.60C96.93 104.35 97.58 107.28 98.90 109.60C100.22 111.92 101.87 113.90 104.20 116.50C106.53 119.10 110.00 122.30 112.90 125.20C115.80 128.10 118.70 131.00 121.60 133.90C124.50 136.80 127.98 139.98 130.30 142.60C132.62 145.22 134.35 147.28 135.50 149.60C136.65 151.92 137.20 154.48 137.20 156.50C137.20 158.52 135.65 160.25 135.50 161.70C135.35 163.15 136.88 163.75 136.30 165.20C135.72 166.65 134.45 168.65 132.00 170.40C129.55 172.15 125.37 173.95 121.60 175.70C117.83 177.45 112.88 178.88 109.40 180.90C105.92 182.92 102.88 185.48 100.70 187.80C98.52 190.12 97.23 192.48 96.30 194.80C95.37 197.12 95.38 199.97 95.10 201.70C94.82 203.43 94.68 204.62 94.60 205.20C94.52 205.78 94.68 205.78 94.60 205.20C94.52 204.62 94.38 203.43 94.10 201.70C93.82 199.97 93.83 197.12 92.90 194.80C91.97 192.48 90.68 190.12 88.50 187.80C86.32 185.48 83.28 182.92 79.80 180.90C76.32 178.88 71.37 177.45 67.60 175.70C63.83 173.95 59.65 172.15 57.20 170.40C54.75 168.65 53.48 166.65 52.90 165.20C52.32 163.75 53.85 163.15 53.70 161.70C53.55 160.25 52.00 158.52 52.00 156.50C52.00 154.48 52.55 151.92 53.70 149.60C54.85 147.28 56.58 145.22 58.90 142.60C61.22 139.98 64.70 136.80 67.60 133.90C70.50 131.00 73.40 128.10 76.30 125.20C79.20 122.30 82.67 119.10 85.00 116.50C87.33 113.90 88.98 111.92 90.30 109.60C91.62 107.28 92.27 104.35 92.90 102.60C93.53 100.85 93.82 102.00 94.10 99.10C94.38 96.20 94.52 87.52 94.60 85.20Z" fill="#e6e6e6" stroke="#333" stroke-width="1.3"/><line x1="94.6" x2="94.6" y1="87.2" y2="141.7" stroke="#666" stroke-width="0.7"/><line x1="94.6" x2="94.6" y1="168.3" y2="203.2" stroke="#666" stroke-width="0.7"/><rect x="80.3" y="141.7" width="28.2" height="26.6" fill="none" stroke="#666" stroke-width="0.8"/><line x1="80.3" x2="108.5" y1="155.7" y2="155.7" stroke="#333" stroke-width="1.6"/><rect x="47.2" y="39.9" width="94.4" height="208.4" fill="none" stroke="#555" stroke-width="1"/><line x1="47.2" x2="142.3" y1="248.3" y2="248.3" stroke="#333" stroke-width="1.4"/><line x1="141.6" x2="141.6" y1="39.9" y2="248.3" stroke="#333" stroke-width="1.4"/><text transform="translate(43.7 61.4) scale(1 1.14)" font-size="11.6" fill="#4d4d4d" text-anchor="end">10k</text><text transform="translate(43.7 153.6) scale(1 1.14)" font-size="11.6" fill="#4d4d4d" text-anchor="end">1k</text><text transform="translate(43.7 244.6) scale(1 1.14)" font-size="11.6" fill="#4d4d4d" text-anchor="end">0.1k</text><text transform="translate(14.9 143.6) rotate(-90)" font-size="15.7" text-anchor="middle">Number of genes</text><text x="94.4" y="275.6" font-size="15.5" text-anchor="middle">median: 818</text><line x1="188.2" x2="286.3" y1="127.2" y2="127.2" stroke="#ddd" stroke-width="0.6" stroke-dasharray="2 2"/><line x1="188.2" x2="286.3" y1="236.8" y2="236.8" stroke="#ddd" stroke-width="0.6" stroke-dasharray="2 2"/><path d="M237.10 48.20C237.10 53.68 236.87 74.25 237.10 81.10C237.33 87.95 238.05 87.02 238.50 89.30C238.95 91.58 238.88 92.05 239.80 94.80C240.72 97.55 242.17 101.68 244.00 105.80C245.83 109.92 248.30 114.93 250.80 119.50C253.30 124.07 256.25 129.08 259.00 133.20C261.75 137.32 264.78 140.55 267.30 144.20C269.82 147.85 272.05 151.00 274.10 155.10C276.15 159.20 278.23 164.68 279.60 168.80C280.97 172.92 282.30 176.13 282.30 179.80C282.30 183.47 281.20 187.60 279.60 190.80C278.00 194.00 275.67 196.50 272.70 199.00C269.73 201.50 265.45 203.52 261.80 205.80C258.15 208.08 254.00 210.18 250.80 212.70C247.60 215.22 244.65 218.17 242.60 220.90C240.55 223.63 239.42 226.13 238.50 229.10C237.58 232.07 237.33 237.10 237.10 238.70C236.87 240.30 237.33 240.30 237.10 238.70C236.87 237.10 236.62 232.07 235.70 229.10C234.78 226.13 233.65 223.63 231.60 220.90C229.55 218.17 226.60 215.22 223.40 212.70C220.20 210.18 216.05 208.08 212.40 205.80C208.75 203.52 204.47 201.50 201.50 199.00C198.53 196.50 196.20 194.00 194.60 190.80C193.00 187.60 191.90 183.47 191.90 179.80C191.90 176.13 193.23 172.92 194.60 168.80C195.97 164.68 198.05 159.20 200.10 155.10C202.15 151.00 204.38 147.85 206.90 144.20C209.42 140.55 212.45 137.32 215.20 133.20C217.95 129.08 220.90 124.07 223.40 119.50C225.90 114.93 228.37 109.92 230.20 105.80C232.03 101.68 233.48 97.55 234.40 94.80C235.32 92.05 235.25 91.58 235.70 89.30C236.15 87.02 236.87 87.95 237.10 81.10C237.33 74.25 237.10 53.68 237.10 48.20Z" fill="#e6e6e6" stroke="#333" stroke-width="1.3"/><line x1="237.1" x2="237.1" y1="50.2" y2="151.8" stroke="#666" stroke-width="0.7"/><line x1="237.1" x2="237.1" y1="190.2" y2="236.7" stroke="#666" stroke-width="0.7"/><rect x="221.5" y="151.8" width="30.1" height="38.4" fill="none" stroke="#666" stroke-width="0.8"/><line x1="221.5" x2="251.6" y1="172.4" y2="172.4" stroke="#333" stroke-width="1.6"/><rect x="187.2" y="39.9" width="100.1" height="208.6" fill="none" stroke="#555" stroke-width="1"/><line x1="187.2" x2="288.0" y1="248.5" y2="248.5" stroke="#333" stroke-width="1.4"/><line x1="287.3" x2="287.3" y1="39.9" y2="248.5" stroke="#333" stroke-width="1.4"/><text transform="translate(183.7 77.1) scale(1 1.14)" font-size="11.6" fill="#4d4d4d" text-anchor="end">10k</text><text transform="translate(183.7 187.0) scale(1 1.14)" font-size="11.6" fill="#4d4d4d" text-anchor="end">1k</text><text transform="translate(160.3 144.9) rotate(-90)" font-size="15.7" text-anchor="middle">Number of UMIs</text><text x="236.6" y="276.0" font-size="15.5" text-anchor="middle">median: 1216</text><g><rect x="349.2" y="3.9" width="382.4" height="304.9" fill="none" stroke="#a8a8a8" stroke-width="1.1"/><line x1="349.2" x2="731.6" y1="308.8" y2="308.8" stroke="#707070" stroke-width="1.3"/><line x1="731.6" x2="731.6" y1="3.9" y2="308.8" stroke="#858585" stroke-width="1.2"/><line x1="347.2" x2="349.2" y1="3.9" y2="3.9" stroke="#888" stroke-width="0.8"/><text x="344.6" y="6.5" font-size="7.2" fill="#666" text-anchor="end">40</text><line x1="347.2" x2="349.2" y1="72.9" y2="72.9" stroke="#888" stroke-width="0.8"/><text x="344.6" y="75.5" font-size="7.2" fill="#666" text-anchor="end">20</text><line x1="347.2" x2="349.2" y1="142.2" y2="142.2" stroke="#888" stroke-width="0.8"/><text x="344.6" y="144.8" font-size="7.2" fill="#666" text-anchor="end">0</text><line x1="347.2" x2="349.2" y1="211.3" y2="211.3" stroke="#888" stroke-width="0.8"/><text x="344.6" y="213.9" font-size="7.2" fill="#666" text-anchor="end">-20</text><line x1="347.2" x2="349.2" y1="280.4" y2="280.4" stroke="#888" stroke-width="0.8"/><text x="344.6" y="283.0" font-size="7.2" fill="#666" text-anchor="end">-40</text><line x1="421.9" x2="421.9" y1="308.8" y2="310.8" stroke="#888" stroke-width="0.8"/><text x="421.9" y="318.4" font-size="7.2" fill="#666" text-anchor="middle">-25</text><line x1="521.6" x2="521.6" y1="308.8" y2="310.8" stroke="#888" stroke-width="0.8"/><text x="521.6" y="318.4" font-size="7.2" fill="#666" text-anchor="middle">0</text><line x1="621.7" x2="621.7" y1="308.8" y2="310.8" stroke="#888" stroke-width="0.8"/><text x="621.7" y="318.4" font-size="7.2" fill="#666" text-anchor="middle">25</text><line x1="720.9" x2="720.9" y1="308.8" y2="310.8" stroke="#888" stroke-width="0.8"/><text x="720.9" y="318.4" font-size="7.2" fill="#666" text-anchor="middle">50</text><text x="540" y="328" font-size="8.5" fill="#333" text-anchor="middle">tSNE_1</text><text transform="translate(328 156.3) rotate(-90)" font-size="8.5" fill="#333" text-anchor="middle">tSNE_2</text><use href="#a0" stroke="#F8766D" stroke-width="2.2" stroke-linecap="round"/><use href="#a1" stroke="#DE8C00" stroke-width="2.2" stroke-linecap="round"/><use href="#a2" stroke="#B79F00" stroke-width="2.2" stroke-linecap="round"/><use href="#a3" stroke="#7CAE00" stroke-width="2.2" stroke-linecap="round"/><use href="#a4" stroke="#00BA38" stroke-width="2.2" stroke-linecap="round"/><use href="#a5" stroke="#00C08B" stroke-width="2.2" stroke-linecap="round"/><use href="#a6" stroke="#00BFC4" stroke-width="2.2" stroke-linecap="round"/><use href="#a7" stroke="#14B0C4" stroke-width="2.2" stroke-linecap="round"/><use href="#a8" stroke="#6F96D4" stroke-width="2.2" stroke-linecap="round"/><use href="#a9" stroke="#C27BA5" stroke-width="2.2" stroke-linecap="round"/><use href="#a10" stroke="#F46590" stroke-width="2.2" stroke-linecap="round"/><use href="#a11" stroke="#F46590" stroke-width="2.2" stroke-linecap="round"/><circle cx="480.5" cy="94.5" r="1.1" fill="#e27a6a"/><circle cx="622.5" cy="93.5" r="1.1" fill="#DE8C00"/><circle cx="638.0" cy="145.0" r="1.1" fill="#d07a50"/><circle cx="519.5" cy="146.0" r="1.1" fill="#B79F00"/><circle cx="479.0" cy="271.0" r="1.1" fill="#F0706A"/><circle cx="484.5" cy="277.5" r="1.1" fill="#7090e0"/><circle cx="602.5" cy="199.0" r="1.1" fill="#00C08B"/><circle cx="600.0" cy="204.5" r="1.1" fill="#00C08B"/><circle cx="598.5" cy="209.0" r="1.1" fill="#00C08B"/><circle cx="628.0" cy="176.0" r="1.1" fill="#c8b040"/><circle cx="455.0" cy="60.0" r="1.1" fill="#B79F00"/><circle cx="472.0" cy="63.0" r="1.1" fill="#B79F00"/><circle cx="466.0" cy="68.0" r="1.1" fill="#B79F00"/><circle cx="398.0" cy="160.0" r="1.1" fill="#6F96D4"/><circle cx="370.0" cy="198.0" r="1.1" fill="#14B0C4"/><circle cx="646.0" cy="168.5" r="1.1" fill="#9aa000"/><circle cx="501.5" cy="217.5" r="1.1" fill="#F8766D"/><circle cx="503.0" cy="200.0" r="1.1" fill="#F8766D"/><circle cx="573.2" cy="20.2" r="10.2" fill="#fff" fill-opacity="0" stroke="#000" stroke-width="1.8"/><text x="573.2" y="25.3" font-size="14.2" text-anchor="middle">1</text><circle cx="441.0" cy="41.7" r="10.2" fill="#fff" fill-opacity="0" stroke="#000" stroke-width="1.8"/><text x="441.0" y="46.8" font-size="14.2" text-anchor="middle">6</text><circle cx="389.5" cy="89.8" r="10.2" fill="#fff" fill-opacity="0" stroke="#000" stroke-width="1.8"/><text x="389.5" y="94.9" font-size="14.2" text-anchor="middle">2</text><circle cx="630.1" cy="78.0" r="10.2" fill="#fff" fill-opacity="0" stroke="#000" stroke-width="1.8"/><text x="630.1" y="83.1" font-size="14.2" text-anchor="middle">3</text><circle cx="364.0" cy="134.1" r="10.2" fill="#fff" fill-opacity="0" stroke="#000" stroke-width="1.8"/><text x="364.0" y="139.2" font-size="14.2" text-anchor="middle">8</text><circle cx="714.8" cy="155.0" r="10.2" fill="#fff" fill-opacity="0" stroke="#000" stroke-width="1.8"/><text x="714.8" y="160.1" font-size="14.2" text-anchor="middle">10</text><circle cx="483.6" cy="189.6" r="10.2" fill="#fff" fill-opacity="0" stroke="#000" stroke-width="1.8"/><text x="483.6" y="194.7" font-size="14.2" text-anchor="middle">11</text><circle cx="433.2" cy="221.8" r="10.2" fill="#fff" fill-opacity="0" stroke="#000" stroke-width="1.8"/><text x="433.2" y="226.9" font-size="14.2" text-anchor="middle">4</text><circle cx="587.9" cy="231.2" r="10.2" fill="#fff" fill-opacity="0" stroke="#000" stroke-width="1.8"/><text x="587.9" y="236.3" font-size="14.2" text-anchor="middle">0</text><circle cx="648.5" cy="236.2" r="10.2" fill="#fff" fill-opacity="0" stroke="#000" stroke-width="1.8"/><text x="648.5" y="241.3" font-size="14.2" text-anchor="middle">5</text><circle cx="372.8" cy="244.7" r="10.2" fill="#fff" fill-opacity="0" stroke="#000" stroke-width="1.8"/><text x="372.8" y="249.8" font-size="14.2" text-anchor="middle">7</text><circle cx="513.0" cy="289.4" r="10.2" fill="#fff" fill-opacity="0" stroke="#000" stroke-width="1.8"/><text x="513.0" y="294.5" font-size="14.2" text-anchor="middle">9</text><text x="360.3" y="21.7" font-size="13.65" font-weight="bold" text-anchor="start">oligodendrocytes</text><text x="357.7" y="45.0" font-size="13.6" text-anchor="start">myelinating</text><text x="354.3" y="74.2" font-size="13.6" text-anchor="start">progenitors</text><text x="355.3" y="174.2" font-size="13.6" text-anchor="start">astrocyte</text><text x="355.3" y="190.2" font-size="13.6" text-anchor="start">progenitors</text><text x="358.4" y="270.8" font-size="13.65" font-weight="bold" text-anchor="start">microglia</text><text x="405.3" y="246.4" font-size="13.65" font-weight="bold" text-anchor="start">astrocytes</text><text x="476.0" y="216.1" font-size="13.65" font-weight="bold" text-anchor="start">SC</text><text x="503.8" y="253.3" font-size="13.65" font-weight="bold" text-anchor="start">excitatory neurons</text><text x="531.3" y="292.8" font-size="13.65" font-weight="bold" text-anchor="start">endothelial progenitors</text><text x="722.8" y="189.0" font-size="13.65" font-weight="bold" text-anchor="end">endothelial</text><text x="727.0" y="205.2" font-size="13.65" font-weight="bold" text-anchor="end">cells</text><text x="727.3" y="240.7" font-size="13.65" font-weight="bold" text-anchor="end">cerebellar</text><text x="727.3" y="256.8" font-size="13.65" font-weight="bold" text-anchor="end">neurons</text><text x="589.5" y="20.3" font-size="13.65" font-weight="bold" text-anchor="start">granule cells</text><text x="589.5" y="35.8" font-size="13.65" font-weight="bold" text-anchor="start">(proliferating)</text><text x="647.8" y="82.3" font-size="13.65" font-weight="bold" text-anchor="start">inhibitory</text><text x="647.8" y="97.8" font-size="13.65" font-weight="bold" text-anchor="start">neurons</text></g><text x="182.5" y="349.3" font-size="13.5" font-weight="bold" text-anchor="middle">non-neuronal</text><line x1="30" x2="337" y1="359" y2="359" stroke="#aaa" stroke-width="1.2"/><text x="561" y="352" font-size="13.5" font-weight="bold" text-anchor="middle">neuronal</text><line x1="397" x2="694.7" y1="359" y2="359" stroke="#aaa" stroke-width="1.2"/><g transform="matrix(0.28321 0 0 0.38531 -90.497 371.097)" stroke-linecap="round"><use href="#allc" stroke="#bebebe" stroke-width="4.4"/><path d="M428.0 129.7h0M421.6 80.6h0M445.5 84.9h0M470.1 106.6h0M462.0 95.8h0M444.4 130.0h0M453.2 90.1h0M441.1 129.5h0M456.2 127.5h0M438.0 103.3h0M438.9 103.7h0M469.2 128.1h0M459.0 143.4h0M439.7 135.7h0M466.8 119.7h0M443.4 104.9h0M429.8 121.3h0M430.8 75.2h0M465.3 122.0h0M440.9 117.0h0M414.4 97.8h0M412.2 101.3h0M463.6 145.8h0M445.3 96.6h0M439.7 110.5h0M474.3 106.3h0M441.5 106.1h0M451.5 116.3h0M447.1 115.5h0M457.7 127.6h0M439.7 92.3h0M418.7 88.3h0M469.7 109.4h0M456.6 104.7h0M446.7 123.7h0M411.7 100.2h0M474.0 134.9h0M428.8 100.8h0M462.7 119.0h0M429.6 89.7h0M418.8 129.3h0M413.9 91.1h0M465.6 110.7h0M425.9 76.6h0M471.7 130.9h0M474.6 106.8h0M440.8 124.4h0M445.0 114.0h0M420.6 82.6h0M462.2 132.0h0M456.1 134.6h0M443.6 132.9h0M438.2 103.0h0M460.2 136.0h0M473.5 140.7h0M440.8 85.5h0M436.8 122.5h0M417.0 89.2h0M430.5 104.9h0M442.1 105.0h0M430.8 127.0h0M426.3 101.1h0M411.8 89.7h0M455.7 127.1h0M423.7 87.0h0M448.4 130.6h0M457.0 99.0h0M434.8 117.0h0M447.2 82.1h0M460.8 135.9h0M473.4 133.1h0M410.5 89.4h0M443.0 136.1h0M430.9 129.6h0M439.9 80.4h0M421.6 76.1h0M458.2 117.7h0M473.3 142.3h0M472.7 137.5h0M425.6 131.4h0M449.0 102.2h0M451.5 107.5h0M473.4 142.5h0M464.7 120.7h0M433.1 75.7h0M416.7 105.4h0M457.9 103.0h0M428.4 111.2h0M472.9 106.3h0M460.5 114.6h0M437.1 131.9h0M460.5 143.0h0M463.3 118.7h0M462.8 122.0h0M470.5 122.2h0M450.4 123.6h0M451.0 135.1h0M413.9 83.0h0M424.7 93.2h0M453.7 126.4h0M458.1 92.4h0M446.9 87.4h0M421.5 129.2h0M443.2 107.3h0M460.8 130.4h0M457.8 112.7h0M446.5 104.4h0M429.5 131.8h0M404.0 84.6h0M446.9 119.4h0M475.8 111.3h0M480.9 120.3h0M461.8 115.9h0M475.6 109.2h0M413.3 82.5h0M465.3 110.9h0M413.2 91.0h0M412.8 91.5h0M441.9 129.5h0M454.6 96.6h0M421.2 94.2h0M426.4 110.2h0M444.8 111.1h0M471.3 120.9h0M455.9 136.8h0M450.3 88.4h0M445.9 88.5h0M449.6 113.9h0M456.3 121.1h0M471.2 116.3h0M464.9 139.3h0M474.5 127.4h0M465.4 102.5h0M480.6 124.3h0M433.1 110.9h0M437.7 132.8h0M456.8 108.4h0M445.1 93.8h0M420.5 124.4h0M420.1 88.6h0M461.0 112.8h0M419.8 76.9h0M421.2 105.7h0M417.7 127.7h0M453.6 129.4h0M430.8 114.1h0M462.5 109.0h0M448.0 98.3h0M460.6 137.0h0M465.8 118.7h0M461.5 99.8h0M461.2 140.9h0M468.6 127.4h0M459.4 113.8h0M450.0 125.9h0M458.5 89.1h0M423.1 111.1h0M429.2 124.8h0M462.1 113.5h0M435.7 109.6h0M458.1 92.2h0M466.7 114.2h0M444.8 119.5h0M450.5 109.9h0M467.1 126.9h0M433.7 128.5h0M457.9 51.4h0M477.2 65.7h0M462.0 67.8h0M473.2 59.2h0M459.8 42.9h0M469.5 66.9h0M467.2 50.8h0M458.7 53.9h0M456.7 48.7h0M464.4 56.6h0M463.3 26.4h0M457.7 36.8h0M478.2 69.5h0M465.3 63.3h0M471.5 57.4h0M461.4 63.4h0M459.7 69.7h0M466.2 46.3h0M460.5 37.6h0M467.9 39.7h0M473.9 72.6h0M463.2 51.7h0M469.7 36.5h0M462.4 25.6h0M467.2 55.2h0M467.1 48.4h0M471.3 48.5h0M463.5 33.9h0M470.5 67.9h0M459.1 36.8h0M474.0 68.8h0M479.2 58.8h0M466.0 68.2h0M456.8 43.0h0M479.3 64.3h0M474.4 70.9h0M467.8 71.9h0M456.8 55.0h0M451.7 55.0h0M444.7 209.3h0M446.2 207.3h0M446.2 195.8h0M445.8 207.0h0M432.0 181.8h0M435.2 183.5h0M437.0 192.2h0M447.7 188.8h0M441.6 167.8h0M437.3 194.0h0M436.7 190.5h0M441.3 188.7h0M442.1 178.2h0M444.0 175.8h0M447.6 195.3h0M439.5 200.4h0M445.8 208.2h0M424.1 168.9h0M423.9 173.3h0M427.1 175.4h0M420.2 174.3h0M449.6 219.2h0M450.0 212.9h0M449.7 215.0h0M447.5 217.8h0M449.9 186.9h0M442.3 176.4h0M422.8 170.8h0M421.3 174.5h0M458.4 191.2h0M458.5 203.4h0M457.7 215.2h0M455.9 206.0h0M452.7 214.3h0M575.0 207.7h0M536.6 169.6h0M566.8 171.6h0M532.8 49.0h0M637.4 136.8h0M583.3 112.1h0M604.6 71.7h0M370.6 221.9h0" stroke="#e0907e" stroke-width="4.4"/><path d="M424.0 93.0h0M451.0 97.4h0M469.2 117.5h0M453.5 89.3h0M456.3 105.4h0M463.8 129.6h0M467.4 111.1h0M449.6 90.7h0M424.1 76.2h0M450.7 113.3h0M423.5 96.5h0M450.0 134.6h0M449.5 99.5h0M411.9 100.1h0M439.7 110.0h0M471.4 119.6h0M447.5 103.4h0M474.8 125.8h0M430.5 116.3h0M478.8 118.2h0M455.0 115.6h0M456.1 136.2h0M444.7 85.4h0M470.1 137.8h0M449.5 95.6h0M424.5 82.3h0M434.0 106.4h0M429.1 112.5h0M456.6 91.7h0M454.3 95.9h0M469.0 120.4h0M449.1 89.1h0M431.9 133.2h0M424.6 125.8h0M411.4 101.3h0M467.7 117.8h0M471.2 101.4h0M444.0 125.8h0M413.1 85.8h0M467.1 130.3h0M436.9 132.4h0M450.8 84.5h0M443.5 112.3h0M437.5 77.0h0M474.8 128.3h0M462.7 133.0h0M417.2 100.9h0M445.4 117.8h0M438.6 117.7h0M435.6 109.0h0M426.8 110.3h0M451.3 106.9h0M450.0 99.4h0M418.3 130.0h0M455.3 100.8h0M465.1 105.6h0M466.3 144.2h0M440.9 115.1h0M423.7 96.8h0M431.2 77.9h0M456.5 101.9h0M468.9 150.0h0M431.9 88.8h0M417.7 93.0h0M414.4 87.0h0M436.2 84.1h0M467.4 118.6h0M468.1 142.5h0M440.9 137.2h0M469.2 115.2h0M436.8 117.4h0M458.1 123.9h0M453.5 88.7h0M430.3 97.9h0M433.3 119.3h0M462.7 126.1h0M450.2 85.6h0M420.1 101.0h0M463.9 123.1h0M453.8 116.2h0M464.4 91.8h0M435.6 95.1h0M444.2 117.7h0M446.5 100.6h0M465.9 116.0h0M441.7 115.5h0M426.4 101.5h0M420.3 102.9h0M443.8 78.2h0M441.7 85.2h0M439.7 99.6h0M476.2 117.8h0M452.7 121.8h0M450.7 92.8h0M429.0 120.7h0M467.3 127.0h0M456.4 113.0h0M469.2 100.7h0M430.5 85.9h0M456.8 124.3h0M476.9 133.7h0M463.7 95.0h0M432.9 80.3h0M443.3 116.5h0M432.6 127.4h0M457.9 100.7h0M445.3 82.4h0M435.1 107.2h0M467.6 147.6h0M461.7 116.7h0M432.7 104.4h0M472.8 115.5h0M454.7 108.4h0M419.0 84.6h0M440.6 117.4h0M461.8 124.8h0M438.4 80.9h0M418.5 88.5h0M433.8 103.1h0M471.7 103.6h0M421.3 128.6h0M435.3 106.8h0M457.2 112.5h0M426.5 110.5h0M474.3 117.6h0M426.1 122.2h0M434.0 111.0h0M419.9 77.0h0M431.6 131.5h0M421.4 89.5h0M460.0 105.7h0M442.2 111.2h0M420.3 92.2h0M445.6 112.6h0M433.7 109.2h0M446.3 80.2h0M450.7 127.8h0M431.1 84.2h0M449.2 84.7h0M428.7 106.9h0M452.0 135.1h0M447.2 119.8h0M409.0 93.6h0M413.6 99.9h0M456.3 97.5h0M442.2 90.7h0M459.6 122.4h0M475.0 114.2h0M441.2 130.7h0M459.2 99.7h0M464.7 142.3h0M457.5 51.8h0M463.6 53.8h0M469.7 39.6h0M467.2 34.2h0M461.8 46.7h0M461.3 52.2h0M469.3 51.9h0M481.8 63.7h0M465.5 29.5h0M459.0 29.4h0M456.2 49.4h0M466.3 72.0h0M469.9 35.9h0M464.2 53.5h0M459.0 43.2h0M469.3 75.2h0M472.3 62.9h0M477.5 71.2h0M459.2 53.4h0M463.1 64.1h0M470.6 56.3h0M464.7 65.9h0M479.5 58.7h0M472.2 45.3h0M467.5 39.5h0M459.5 26.7h0M461.7 34.8h0M456.6 60.5h0M458.8 35.5h0M471.4 43.6h0M460.7 41.4h0M479.3 68.4h0M466.6 29.7h0M473.3 62.3h0M458.4 45.2h0M463.1 49.7h0M477.1 66.8h0M475.5 61.7h0M458.2 51.3h0M454.2 60.8h0M450.4 60.8h0M446.8 179.4h0M445.0 210.8h0M439.1 177.0h0M443.9 174.2h0M445.1 186.4h0M445.4 208.1h0M448.6 180.2h0M435.2 195.3h0M439.0 183.8h0M444.3 181.8h0M421.3 174.5h0M426.3 171.8h0M445.8 212.2h0M448.7 207.5h0M447.9 212.4h0M441.6 167.8h0M438.5 195.8h0M424.1 168.9h0M450.0 216.3h0M450.3 189.5h0M460.4 197.1h0M458.0 219.2h0M456.2 218.3h0M452.9 189.9h0M529.4 170.5h0M553.2 185.5h0M539.5 49.5h0M624.4 94.9h0M645.4 136.5h0" stroke="#ea6a50" stroke-width="4.4"/><path d="M411.7 79.3h0M439.0 96.1h0M428.9 102.8h0M454.5 120.7h0M430.3 86.4h0M465.7 98.0h0M440.0 118.2h0M444.3 133.8h0M407.9 86.6h0M482.5 126.3h0M422.4 128.8h0M449.1 94.0h0M442.1 99.8h0M466.3 132.3h0M465.3 128.0h0M433.7 100.9h0M459.8 105.5h0M468.5 97.9h0M467.0 127.0h0M459.1 109.2h0M461.4 112.2h0M448.9 108.7h0M463.1 127.6h0M443.2 87.9h0M422.8 129.1h0M460.0 101.3h0M421.7 108.3h0M441.9 127.4h0M454.8 90.0h0M465.7 100.4h0M409.8 81.8h0M437.9 116.1h0M441.6 82.6h0M450.7 99.2h0M458.6 100.4h0M461.1 112.4h0M434.7 117.0h0M452.9 115.1h0M418.1 100.5h0M452.5 117.1h0M405.4 87.0h0M465.5 120.7h0M464.7 126.7h0M463.9 133.5h0M416.6 98.5h0M463.1 126.2h0M468.8 139.6h0M451.4 112.4h0M436.9 93.4h0M474.3 53.6h0M473.1 35.5h0M477.5 57.1h0M455.9 58.9h0M465.5 71.5h0M460.1 59.4h0M461.4 61.0h0M454.8 54.1h0M460.5 41.1h0M466.9 30.6h0M462.5 60.3h0M464.4 46.6h0M462.3 57.0h0M455.9 45.1h0M464.7 35.3h0M463.6 29.5h0M447.6 58.6h0M436.9 186.4h0M444.9 206.2h0M445.9 192.5h0M425.1 170.6h0M449.1 212.3h0M445.4 179.7h0M454.3 196.8h0M455.5 189.0h0M711.6 172.7h0" stroke="#f03e22" stroke-width="4.4"/></g><rect x="9.6" y="372.6" width="108.3" height="116.3" fill="none" stroke="#555" stroke-width="1"/><line x1="9.1" x2="118.7" y1="488.9" y2="488.9" stroke="#444" stroke-width="1.6"/><line x1="117.9" x2="117.9" y1="372.6" y2="488.9" stroke="#444" stroke-width="1.6"/><text x="112.9" y="392.1" font-size="15" font-style="italic" text-anchor="end">Olig1</text><g transform="matrix(0.28321 0 0 0.38531 30.483 371.097)" stroke-linecap="round"><use href="#allc" stroke="#bebebe" stroke-width="4.4"/><path d="M467.3 42.2h0M459.2 27.9h0M472.2 38.4h0M457.7 36.8h0M465.4 32.5h0M463.8 42.3h0M460.5 41.1h0M466.6 29.7h0M463.0 29.0h0M465.0 44.8h0M478.5 69.6h0M460.5 41.1h0M459.1 36.8h0M474.4 70.9h0M464.3 63.9h0M453.5 61.5h0M545.0 224.5h0M466.3 146.7h0M448.9 108.7h0M431.8 113.0h0M476.7 112.4h0M441.2 130.7h0M540.0 102.2h0M530.1 53.6h0M482.1 161.7h0" stroke="#e0907e" stroke-width="4.4"/><path d="M471.2 38.9h0M465.4 27.8h0M460.1 27.5h0M471.1 36.1h0M469.7 39.6h0M472.9 38.5h0M457.5 37.6h0M456.8 44.3h0M468.6 37.7h0M470.2 34.0h0M463.3 26.4h0M472.5 36.5h0M469.6 37.3h0M467.5 39.5h0M463.1 38.7h0M459.5 26.7h0M461.7 34.8h0M458.8 35.5h0M472.3 40.8h0M465.1 43.5h0M462.4 25.6h0M460.7 41.4h0M459.6 36.8h0M463.5 33.9h0M464.7 35.3h0M459.1 36.8h0M455.9 44.9h0M472.9 37.8h0M462.9 41.7h0M459.9 43.4h0M477.5 57.1h0M459.0 54.4h0M462.1 40.3h0M463.3 26.4h0M459.5 26.7h0M473.3 62.3h0M464.7 35.3h0M455.9 44.9h0M467.2 69.8h0M467.8 71.9h0M534.0 183.9h0M553.0 181.2h0M441.6 82.6h0M450.3 88.4h0M391.6 211.4h0" stroke="#ea6a50" stroke-width="4.4"/><path d="M456.7 42.1h0M459.8 43.1h0M459.5 40.7h0M473.1 35.5h0M467.2 34.2h0M462.1 40.3h0M469.2 35.1h0M469.0 40.6h0M459.0 43.2h0M464.1 28.0h0M461.2 41.7h0M466.1 34.6h0M470.7 40.0h0M471.4 43.6h0M468.0 33.7h0M467.2 38.7h0M466.9 30.6h0M457.8 41.2h0M455.6 43.0h0M464.0 51.9h0M462.0 67.8h0M466.6 29.7h0M529.0 152.9h0M464.3 135.8h0M529.5 118.2h0" stroke="#f03e22" stroke-width="4.4"/></g><rect x="130.6" y="372.6" width="108.3" height="116.3" fill="none" stroke="#555" stroke-width="1"/><line x1="130.1" x2="239.7" y1="488.9" y2="488.9" stroke="#444" stroke-width="1.6"/><line x1="238.9" x2="238.9" y1="372.6" y2="488.9" stroke="#444" stroke-width="1.6"/><text x="233.9" y="392.1" font-size="15" font-style="italic" text-anchor="end">Mbp</text><g transform="matrix(0.28321 0 0 0.38531 151.463 371.097)" stroke-linecap="round"><use href="#allc" stroke="#bebebe" stroke-width="4.4"/><path d="M404.9 86.0h0M421.6 80.6h0M470.1 106.6h0M424.0 93.0h0M443.8 92.0h0M417.8 94.4h0M456.3 105.4h0M467.4 111.1h0M430.9 82.2h0M469.2 128.1h0M425.1 105.2h0M419.1 129.1h0M450.0 134.6h0M454.5 120.7h0M455.9 125.6h0M439.7 110.0h0M413.9 84.8h0M443.5 100.2h0M454.8 87.7h0M434.7 94.6h0M443.5 105.6h0M470.5 143.6h0M465.3 122.0h0M478.8 118.2h0M454.1 111.3h0M455.0 115.6h0M445.4 104.2h0M435.8 116.7h0M470.1 137.8h0M449.5 95.6h0M411.6 96.1h0M436.7 109.1h0M424.5 82.3h0M444.3 133.8h0M472.3 137.7h0M450.8 108.9h0M451.5 116.3h0M429.1 112.5h0M449.2 90.3h0M456.6 91.7h0M454.3 95.9h0M469.7 109.4h0M461.6 101.2h0M474.0 134.9h0M461.8 97.6h0M422.4 128.8h0M431.9 133.2h0M466.0 98.7h0M439.5 131.0h0M446.9 120.6h0M462.6 89.6h0M464.3 128.1h0M449.1 94.0h0M429.6 89.7h0M420.8 83.3h0M418.2 93.7h0M467.7 117.8h0M471.2 101.4h0M413.9 91.1h0M466.3 132.3h0M460.6 130.6h0M406.9 84.9h0M476.3 125.8h0M471.7 130.9h0M425.2 92.8h0M428.0 130.7h0M451.8 134.3h0M417.2 100.9h0M445.4 117.8h0M435.6 109.0h0M429.8 78.8h0M423.1 94.0h0M440.8 85.5h0M451.3 106.9h0M417.0 89.2h0M430.5 104.9h0M442.1 105.0h0M430.8 127.0h0M409.2 94.4h0M470.2 119.6h0M438.4 93.0h0M411.8 89.7h0M423.7 87.0h0M454.6 125.2h0M448.3 105.6h0M413.1 94.1h0M460.8 135.9h0M465.3 128.0h0M459.8 105.5h0M473.4 133.1h0M448.6 102.4h0M469.2 115.2h0M448.5 116.1h0M436.8 117.4h0M458.1 123.9h0M446.6 133.9h0M476.6 132.2h0M453.5 88.7h0M425.6 131.4h0M460.0 101.3h0M473.4 142.5h0M429.2 111.1h0M416.7 105.4h0M457.9 103.0h0M478.9 126.1h0M454.8 90.0h0M470.9 126.4h0M469.2 135.4h0M465.7 100.4h0M470.5 122.2h0M435.6 95.1h0M450.4 123.6h0M413.9 83.0h0M429.9 106.4h0M434.2 79.6h0M458.1 92.4h0M461.7 123.7h0M443.2 107.3h0M460.8 130.4h0M432.6 76.3h0M441.7 115.5h0M417.5 108.7h0M426.4 101.5h0M443.6 135.9h0M455.6 120.3h0M467.0 129.5h0M424.5 86.0h0M441.6 82.6h0M480.9 120.3h0M435.1 109.1h0M464.4 107.1h0M439.7 99.6h0M455.3 88.3h0M446.7 91.6h0M458.6 100.4h0M467.3 127.0h0M407.2 83.9h0M476.9 116.5h0M469.2 100.7h0M430.5 85.9h0M476.9 133.7h0M476.7 112.4h0M461.1 109.9h0M461.5 92.0h0M460.6 122.4h0M445.9 88.5h0M456.3 121.1h0M463.7 95.0h0M432.6 127.4h0M424.6 91.6h0M432.7 80.1h0M465.4 102.5h0M430.1 75.0h0M466.7 124.4h0M466.9 96.8h0M472.8 115.5h0M436.2 114.6h0M419.0 84.6h0M458.4 102.5h0M438.7 98.9h0M440.6 117.4h0M461.8 124.8h0M412.7 85.7h0M459.2 113.7h0M474.4 122.0h0M417.7 127.7h0M453.6 129.4h0M458.9 105.0h0M458.6 139.3h0M464.7 126.7h0M432.2 81.9h0M469.0 111.4h0M435.3 106.8h0M460.8 102.3h0M421.4 89.5h0M461.5 99.8h0M442.2 111.2h0M444.9 94.4h0M451.3 94.4h0M420.3 92.2h0M468.6 127.4h0M463.1 126.2h0M444.7 91.0h0M433.7 109.2h0M458.5 89.1h0M449.2 84.7h0M464.3 135.8h0M452.0 135.1h0M425.9 88.6h0M413.6 99.9h0M411.0 83.8h0M442.2 90.7h0M474.2 123.1h0M461.9 90.5h0M475.0 114.2h0M413.3 94.4h0M386.5 163.8h0M371.6 149.6h0M370.0 148.3h0M386.5 161.6h0M398.5 150.5h0M390.1 163.2h0M395.2 157.4h0M392.2 145.4h0M385.4 147.0h0M398.1 156.1h0M384.8 146.7h0M382.1 152.7h0M390.9 147.0h0M388.1 155.9h0M393.4 159.2h0M398.6 159.8h0M389.3 147.3h0M390.5 150.3h0M400.4 151.6h0M394.2 158.5h0M373.7 153.5h0M367.9 152.2h0M402.5 160.7h0M390.2 154.1h0M401.5 154.5h0M380.1 155.1h0M385.0 155.1h0M391.4 154.7h0M370.4 151.3h0M377.4 156.4h0M401.9 161.0h0M385.8 151.9h0M399.0 147.7h0M395.1 163.0h0M399.5 150.7h0M388.2 153.0h0M444.5 193.5h0M451.3 183.0h0M442.3 176.4h0M447.5 182.0h0M445.4 208.1h0M441.7 180.0h0M442.7 191.7h0M447.9 188.9h0M442.1 178.2h0M444.0 175.8h0M445.8 208.2h0M462.3 192.0h0M455.2 193.5h0M453.6 196.6h0M454.8 190.2h0M452.8 212.9h0M455.0 209.4h0M453.3 198.3h0M454.2 216.7h0M456.0 214.4h0M451.4 187.7h0M459.4 203.0h0M453.0 189.1h0M454.7 208.8h0M462.7 200.3h0M461.7 218.7h0M452.0 191.5h0M451.6 185.8h0M456.1 205.8h0M457.0 205.4h0M445.8 212.2h0M457.4 208.1h0M452.6 208.5h0M462.5 212.1h0M462.9 193.8h0M453.6 214.7h0M451.4 219.1h0M456.5 190.4h0M456.2 218.3h0M454.0 203.7h0M448.5 217.2h0M449.4 213.3h0M462.2 196.2h0M455.3 212.7h0M456.2 209.3h0M451.0 218.5h0M458.0 188.7h0M457.1 194.1h0M452.4 218.9h0M447.4 210.8h0M447.5 217.8h0M452.5 211.3h0M459.1 190.6h0M462.3 194.7h0M447.4 183.1h0M444.9 197.3h0M435.2 187.1h0M445.8 207.0h0M445.4 179.7h0M447.7 188.8h0M436.5 201.5h0M438.5 195.8h0M444.9 206.2h0M424.3 169.3h0M419.7 173.5h0M462.6 193.0h0M454.8 190.2h0M453.8 192.6h0M455.0 209.4h0M454.2 216.7h0M457.4 218.3h0M451.4 187.7h0M454.0 187.6h0M453.1 218.7h0M454.9 213.2h0M451.7 191.5h0M460.4 197.1h0M456.2 188.3h0M452.6 208.5h0M454.3 196.8h0M451.8 185.5h0M448.5 217.2h0M462.2 196.2h0M462.8 199.9h0M455.9 207.1h0M462.0 194.6h0M452.5 211.3h0M592.7 109.1h0M590.4 98.3h0M589.8 105.7h0M599.4 109.0h0M587.4 111.8h0M602.1 86.3h0M610.8 109.7h0M603.4 86.0h0M599.9 107.1h0M614.0 86.9h0M610.4 94.9h0M585.8 109.8h0M609.9 109.7h0M611.6 103.1h0M607.8 86.0h0M606.8 104.4h0M596.5 96.9h0M609.4 103.0h0M601.3 113.2h0M593.3 92.2h0M598.5 88.9h0M605.2 98.9h0M603.8 88.2h0M597.0 103.5h0M608.9 97.5h0M607.4 102.5h0M604.6 71.7h0M583.5 106.5h0M607.4 113.7h0M582.3 107.8h0M584.4 108.2h0M612.6 110.0h0M595.9 113.4h0M613.6 93.3h0M601.0 103.2h0M591.9 95.8h0M592.0 102.3h0M602.6 112.8h0M592.3 113.0h0M602.4 108.0h0M609.0 112.7h0M591.5 105.8h0M556.7 172.9h0M529.4 170.5h0M555.9 217.4h0M523.6 207.8h0M561.0 208.5h0M517.4 160.4h0M473.2 59.2h0M447.6 58.6h0M636.1 204.0h0" stroke="#e0907e" stroke-width="4.4"/><path d="M445.5 84.9h0M411.7 79.3h0M439.0 96.1h0M456.2 127.5h0M407.1 89.1h0M463.8 129.6h0M416.1 129.8h0M428.1 95.0h0M411.9 100.1h0M459.0 143.4h0M466.8 119.7h0M429.8 121.3h0M468.4 120.6h0M430.5 116.3h0M440.9 117.0h0M430.0 119.7h0M466.3 146.7h0M444.7 85.4h0M459.0 140.0h0M446.7 128.4h0M430.0 96.2h0M473.6 123.7h0M442.5 103.7h0M440.0 118.2h0M463.6 145.8h0M457.1 98.1h0M445.3 96.6h0M480.2 123.3h0M433.2 82.6h0M447.1 115.5h0M457.7 127.6h0M470.0 97.7h0M439.7 92.3h0M427.8 130.3h0M457.8 90.2h0M428.6 75.3h0M433.3 83.6h0M466.3 130.3h0M446.4 87.8h0M465.6 110.7h0M429.3 127.3h0M450.8 84.5h0M470.4 136.6h0M420.6 82.6h0M478.2 124.5h0M456.7 119.9h0M450.0 84.3h0M451.5 102.7h0M423.0 75.5h0M460.2 136.0h0M450.0 99.4h0M418.3 130.0h0M436.8 122.5h0M455.3 100.8h0M420.4 88.0h0M461.2 107.8h0M460.1 142.8h0M407.2 87.0h0M431.2 77.9h0M455.7 127.1h0M445.0 88.2h0M417.7 93.0h0M448.4 130.6h0M459.2 135.8h0M436.7 86.3h0M457.0 99.0h0M447.2 82.1h0M468.1 142.5h0M445.2 132.0h0M410.5 89.4h0M459.1 109.2h0M461.4 112.2h0M448.9 108.7h0M428.6 121.0h0M481.0 130.5h0M413.6 101.0h0M425.8 78.7h0M446.4 97.6h0M458.2 117.7h0M441.2 96.4h0M472.7 137.5h0M443.2 87.9h0M430.3 97.9h0M449.0 102.2h0M462.7 126.1h0M471.9 105.9h0M450.2 85.6h0M433.1 75.7h0M438.6 92.7h0M420.6 80.1h0M441.9 127.4h0M420.1 101.0h0M472.9 106.3h0M431.2 101.3h0M460.5 114.6h0M437.1 131.9h0M460.5 143.0h0M436.7 118.2h0M428.8 83.8h0M451.0 135.1h0M424.6 103.9h0M454.5 122.3h0M446.9 87.4h0M451.5 115.3h0M470.7 100.2h0M446.9 119.4h0M443.8 78.2h0M450.8 109.9h0M424.4 131.9h0M412.8 91.5h0M450.7 92.8h0M433.4 107.9h0M470.1 110.5h0M454.6 96.6h0M439.4 127.2h0M416.6 102.6h0M450.3 88.4h0M443.5 80.6h0M430.0 125.6h0M442.7 125.8h0M434.7 117.0h0M471.2 116.3h0M464.9 139.3h0M432.9 80.3h0M443.3 116.5h0M435.1 107.2h0M433.1 110.9h0M467.6 147.6h0M461.7 116.7h0M454.6 126.1h0M442.4 85.2h0M415.4 94.5h0M437.7 132.8h0M438.4 80.9h0M418.5 88.5h0M456.8 108.4h0M466.3 141.2h0M445.1 93.8h0M453.8 108.1h0M419.8 76.9h0M421.8 84.7h0M441.0 106.2h0M465.3 116.3h0M462.5 109.0h0M408.8 90.2h0M417.7 98.0h0M477.3 121.3h0M426.5 110.5h0M463.9 133.5h0M446.6 125.9h0M419.9 77.0h0M465.8 118.7h0M460.0 105.7h0M454.8 116.5h0M457.9 96.7h0M477.3 122.5h0M461.2 140.9h0M472.1 128.3h0M450.0 125.9h0M461.2 98.9h0M446.3 80.2h0M440.0 84.7h0M429.2 124.8h0M475.1 127.6h0M447.2 119.8h0M459.6 122.4h0M466.7 114.2h0M464.8 115.6h0M450.5 109.9h0M443.4 97.1h0M433.7 128.5h0M459.2 99.7h0M403.6 160.0h0M391.2 162.4h0M393.7 161.3h0M371.5 154.1h0M391.0 155.4h0M400.7 152.5h0M377.4 160.3h0M399.2 161.4h0M382.0 156.3h0M373.8 152.1h0M377.7 144.7h0M393.3 152.1h0M391.8 146.3h0M375.4 151.0h0M400.7 157.0h0M378.9 152.8h0M374.5 158.3h0M399.0 161.6h0M389.8 159.8h0M379.8 155.8h0M387.1 157.5h0M389.5 148.9h0M373.7 149.7h0M382.2 162.8h0M393.2 146.8h0M390.8 146.3h0M373.6 149.5h0M379.5 146.1h0M381.5 159.7h0M402.3 151.7h0M374.4 158.4h0M376.0 147.0h0M392.8 151.6h0M399.9 156.8h0M392.1 148.3h0M380.1 157.7h0M378.1 145.7h0M381.0 161.0h0M391.5 152.2h0M399.8 154.1h0M396.0 146.9h0M374.0 153.8h0M392.6 149.1h0M393.7 154.3h0M385.4 161.3h0M402.9 151.3h0M369.7 151.7h0M398.4 156.9h0M374.1 153.7h0M403.2 150.3h0M376.5 151.1h0M444.9 197.3h0M446.2 207.3h0M446.8 179.4h0M449.2 187.3h0M445.0 210.8h0M443.4 180.5h0M445.4 179.7h0M446.6 197.8h0M443.7 197.5h0M447.7 188.8h0M445.5 178.0h0M445.1 186.4h0M444.9 206.2h0M445.1 204.1h0M442.3 175.2h0M442.5 205.6h0M441.3 188.7h0M447.4 184.0h0M444.3 181.8h0M447.6 195.3h0M459.6 190.5h0M454.8 197.8h0M458.8 206.6h0M458.1 206.7h0M457.2 198.1h0M457.1 209.9h0M463.3 195.9h0M460.8 216.1h0M452.4 200.1h0M461.3 201.3h0M454.0 187.6h0M451.6 213.1h0M448.0 212.5h0M457.6 194.0h0M462.6 192.1h0M461.8 205.8h0M453.2 194.8h0M456.7 190.3h0M448.6 216.2h0M449.4 216.1h0M449.6 219.2h0M450.3 189.5h0M460.2 216.5h0M454.8 217.8h0M460.0 213.1h0M453.5 208.7h0M452.1 208.2h0M455.5 214.7h0M451.7 191.5h0M460.4 197.1h0M457.7 215.2h0M452.2 188.2h0M454.6 189.3h0M451.0 217.6h0M451.8 213.7h0M454.3 196.8h0M453.7 218.5h0M446.8 210.6h0M460.0 189.5h0M455.5 189.0h0M457.3 207.9h0M457.5 214.7h0M463.3 195.3h0M458.7 212.8h0M458.0 199.3h0M456.2 198.0h0M455.2 201.3h0M461.9 193.6h0M453.7 191.1h0M453.8 200.0h0M454.5 200.6h0M454.5 206.7h0M453.2 187.3h0M453.9 192.1h0M455.9 204.7h0M462.8 199.9h0M455.9 207.1h0M456.7 215.8h0M455.9 206.0h0M455.0 208.6h0M461.8 209.5h0M452.7 214.3h0M436.9 186.4h0M444.7 209.3h0M446.2 207.3h0M435.4 177.3h0M449.9 186.9h0M446.2 195.8h0M435.2 183.5h0M451.3 183.0h0M438.2 197.0h0M445.3 201.2h0M433.4 186.0h0M448.6 180.2h0M439.0 183.8h0M436.7 190.5h0M433.6 187.2h0M443.1 183.9h0M449.9 187.3h0M444.0 175.8h0M445.8 208.2h0M422.2 174.7h0M424.6 169.6h0M424.1 168.9h0M421.0 172.4h0M421.3 174.5h0M451.4 186.7h0M453.6 196.6h0M458.1 206.7h0M452.2 219.6h0M460.0 197.6h0M456.0 214.4h0M454.1 188.4h0M452.3 199.7h0M452.4 184.7h0M457.6 194.0h0M453.2 194.8h0M451.4 186.7h0M456.7 190.3h0M454.5 210.6h0M458.2 196.6h0M462.7 200.3h0M461.3 217.6h0M461.7 218.7h0M454.8 217.8h0M460.0 213.1h0M450.0 212.9h0M456.3 211.9h0M453.2 193.0h0M462.5 212.1h0M451.8 213.7h0M448.7 207.5h0M446.9 214.3h0M451.6 190.3h0M454.6 190.5h0M454.7 219.9h0M456.2 218.3h0M454.0 203.7h0M456.5 215.9h0M447.9 212.4h0M452.4 192.7h0M455.2 201.3h0M453.2 216.5h0M454.5 206.7h0M460.9 207.6h0M462.6 201.8h0M453.8 187.2h0M449.1 212.3h0M610.9 87.0h0M585.3 107.8h0M603.6 90.5h0M594.0 105.2h0M605.8 108.7h0M604.3 83.6h0M587.4 113.5h0M587.2 106.9h0M604.0 80.3h0M594.8 99.1h0M608.3 106.1h0M611.6 97.2h0M592.0 94.3h0M586.2 109.1h0M595.0 111.0h0M597.5 92.7h0M592.4 114.1h0M607.2 93.6h0M606.5 111.9h0M610.5 83.3h0M615.0 113.4h0M596.0 112.0h0M607.0 89.6h0M602.8 96.2h0M607.8 81.8h0M604.7 75.1h0M587.2 104.2h0M607.1 102.6h0M601.0 85.9h0M585.2 102.0h0M584.6 109.2h0M605.6 85.1h0M602.6 83.1h0M598.8 111.4h0M598.2 105.8h0M610.1 105.2h0M614.7 109.8h0M600.3 100.0h0M612.5 100.3h0M604.8 87.4h0M577.1 212.5h0M564.8 168.0h0M551.8 235.1h0M545.7 235.7h0M456.2 49.4h0M520.2 116.4h0" stroke="#ea6a50" stroke-width="4.4"/><path d="M410.9 89.4h0M451.0 97.4h0M433.9 106.2h0M469.2 117.5h0M441.1 129.5h0M468.3 139.5h0M477.6 118.1h0M471.1 145.6h0M463.5 90.9h0M416.3 107.8h0M439.7 110.5h0M441.5 106.1h0M432.0 106.7h0M466.8 108.5h0M449.1 89.1h0M446.7 123.7h0M411.7 100.2h0M448.2 132.8h0M443.2 77.1h0M450.4 108.8h0M444.0 125.8h0M467.1 130.3h0M436.9 132.4h0M440.8 124.4h0M445.0 114.0h0M438.6 117.7h0M406.3 83.9h0M449.0 87.5h0M476.6 114.2h0M440.9 115.1h0M426.3 101.1h0M431.9 88.8h0M463.1 127.6h0M433.3 119.3h0M422.8 129.1h0M440.8 135.8h0M454.7 131.5h0M446.1 106.9h0M463.3 118.7h0M432.7 99.4h0M413.1 99.0h0M469.9 138.7h0M410.7 91.3h0M442.8 79.8h0M446.5 104.4h0M429.5 131.8h0M404.0 84.6h0M420.3 102.9h0M433.9 124.1h0M475.8 111.3h0M475.6 109.2h0M466.1 114.3h0M412.3 93.7h0M449.6 113.9h0M452.9 115.1h0M449.1 131.5h0M470.4 136.7h0M454.7 108.4h0M457.8 106.2h0M461.0 96.9h0M420.1 88.6h0M422.4 123.4h0M461.0 112.8h0M456.5 121.7h0M444.7 116.1h0M430.8 114.1h0M434.0 111.0h0M462.0 119.5h0M436.0 112.9h0M428.7 106.9h0M458.1 92.2h0M451.4 112.4h0M444.9 127.6h0M429.0 101.7h0M468.7 99.1h0M419.9 100.6h0M389.7 158.6h0M407.2 159.7h0M371.1 152.4h0M399.8 149.4h0M396.8 162.1h0M388.7 148.1h0M386.6 154.5h0M367.6 149.1h0M399.8 159.7h0M395.9 162.1h0M374.7 150.0h0M379.9 145.6h0M397.5 153.4h0M400.6 159.3h0M374.1 147.7h0M388.9 153.9h0M368.8 149.7h0M377.6 144.4h0M379.9 160.2h0M403.1 157.0h0M382.3 152.7h0M383.5 145.5h0M390.4 150.9h0M388.3 157.9h0M385.0 159.4h0M384.9 146.1h0M384.6 145.8h0M396.6 157.4h0M372.5 153.6h0M381.3 144.3h0M390.8 150.0h0M376.3 156.0h0M404.6 152.1h0M371.6 147.3h0M396.5 161.0h0M388.4 151.4h0M391.2 162.6h0M381.9 154.8h0M383.3 147.5h0M381.6 148.0h0M380.1 158.7h0M395.8 156.5h0M401.8 159.6h0M400.3 158.5h0M447.4 183.1h0M446.8 197.4h0M449.9 186.9h0M443.1 191.6h0M445.8 207.0h0M451.6 182.5h0M443.4 174.1h0M445.3 201.2h0M441.6 167.8h0M448.6 180.2h0M445.9 192.5h0M443.1 183.9h0M449.9 184.2h0M449.9 187.3h0M441.3 187.5h0M462.6 193.0h0M451.4 186.7h0M455.9 209.6h0M462.3 202.8h0M453.8 192.6h0M452.2 219.6h0M461.2 199.2h0M460.0 197.6h0M450.0 216.3h0M450.8 215.9h0M457.4 218.3h0M455.6 204.3h0M458.5 216.6h0M446.6 214.0h0M454.1 188.4h0M452.3 199.7h0M462.1 203.2h0M452.4 184.7h0M458.5 217.6h0M449.6 207.7h0M454.5 210.6h0M459.8 199.6h0M458.2 196.6h0M454.0 214.6h0M453.1 218.7h0M461.3 217.6h0M458.4 191.2h0M462.8 196.0h0M458.1 199.3h0M450.0 212.9h0M456.3 211.9h0M453.2 193.0h0M458.6 217.2h0M456.2 188.3h0M450.4 216.4h0M450.6 208.4h0M462.3 200.4h0M457.8 190.7h0M449.7 215.0h0M448.7 207.5h0M454.3 203.1h0M451.8 185.5h0M458.0 219.2h0M446.9 214.3h0M454.6 190.5h0M458.3 215.0h0M456.5 215.9h0M456.0 198.2h0M452.4 192.7h0M460.9 207.6h0M459.3 201.1h0M462.6 201.8h0M461.2 193.0h0M457.7 219.3h0M461.0 192.0h0M462.0 194.6h0M453.8 187.2h0M451.1 190.6h0M452.3 212.7h0M443.4 180.5h0M443.9 174.2h0M437.0 192.2h0M447.5 182.0h0M443.7 197.5h0M437.1 187.4h0M448.1 178.6h0M435.6 188.3h0M445.4 208.1h0M445.1 204.1h0M435.7 177.2h0M445.9 192.5h0M442.7 191.7h0M441.3 187.5h0M437.6 179.7h0M447.6 195.3h0M439.5 200.4h0M425.9 168.6h0M427.1 175.4h0M462.3 192.0h0M450.0 216.3h0M457.1 209.9h0M446.6 214.0h0M453.4 185.5h0M462.1 203.2h0M448.0 212.5h0M462.6 192.1h0M461.8 205.8h0M454.2 213.7h0M452.0 191.5h0M456.1 205.8h0M457.4 208.1h0M461.5 208.6h0M462.9 193.8h0M451.4 219.1h0M457.3 207.9h0M452.9 189.9h0M459.3 201.1h0M453.2 187.3h0M456.7 215.8h0M461.9 194.6h0M458.0 188.7h0M459.1 190.6h0M462.3 194.7h0M609.4 83.2h0M603.4 98.2h0M611.5 105.9h0M598.9 103.0h0M611.8 91.6h0M588.2 107.2h0M598.3 114.3h0M613.3 105.6h0M591.0 111.2h0M583.9 110.3h0M594.5 109.2h0M609.4 108.7h0M568.3 197.4h0M465.3 63.3h0" stroke="#f03e22" stroke-width="4.4"/></g><rect x="251.6" y="372.6" width="108.3" height="116.3" fill="none" stroke="#555" stroke-width="1"/><line x1="251.1" x2="360.7" y1="488.9" y2="488.9" stroke="#444" stroke-width="1.6"/><line x1="359.9" x2="359.9" y1="372.6" y2="488.9" stroke="#444" stroke-width="1.6"/><text x="354.9" y="392.1" font-size="15" font-style="italic" text-anchor="end">Fabp7</text><g transform="matrix(0.28321 0 0 0.38531 272.443 371.097)" stroke-linecap="round"><use href="#allc" stroke="#bebebe" stroke-width="4.4"/><path d="M528.9 104.6h0M562.0 54.6h0M529.4 85.6h0M517.5 77.9h0M539.4 60.6h0M534.2 103.8h0M551.0 65.8h0M529.4 112.1h0M544.1 43.9h0M538.7 71.0h0M531.7 76.5h0M524.6 24.0h0M542.6 102.5h0M511.8 102.8h0M553.8 72.7h0M544.1 92.1h0M541.6 58.5h0M537.6 78.1h0M515.3 78.3h0M533.6 24.0h0M546.4 91.0h0M522.8 113.5h0M551.0 27.8h0M549.5 105.1h0M528.7 50.6h0M538.6 84.4h0M531.9 111.8h0M541.9 85.0h0M524.6 96.8h0M551.4 40.2h0M535.8 35.0h0M556.9 39.0h0M542.7 84.5h0M517.5 100.3h0M559.0 35.8h0M541.5 114.4h0M522.0 116.7h0M538.2 77.3h0M541.6 63.9h0M546.7 90.5h0M549.8 54.3h0M529.8 116.8h0M544.7 82.8h0M520.3 96.5h0M524.0 99.1h0M544.3 42.0h0M538.8 92.1h0M543.2 110.5h0M551.8 102.8h0M548.8 71.9h0M548.6 96.9h0M513.3 94.8h0M555.2 34.5h0M519.1 96.3h0M535.0 91.3h0M556.8 76.6h0M510.2 96.2h0M542.8 110.3h0M539.1 51.9h0M557.7 31.4h0M512.2 107.2h0M526.6 82.6h0M541.7 103.0h0M532.4 108.3h0M527.6 92.9h0M549.0 94.7h0M553.2 87.3h0M517.4 64.7h0M540.9 17.7h0M530.8 80.2h0M529.4 111.7h0M518.4 88.5h0M528.8 93.4h0M528.0 58.1h0M523.9 80.3h0M541.7 61.3h0M552.1 27.7h0M550.6 32.0h0M550.1 30.6h0M535.0 65.6h0M554.2 29.5h0M556.4 63.0h0M539.9 59.0h0M539.9 96.0h0M544.0 75.4h0M529.3 79.7h0M539.9 38.3h0M540.7 17.9h0M532.3 110.6h0M519.4 103.3h0M554.7 42.0h0M551.5 40.1h0M546.2 103.6h0M526.3 50.6h0M531.5 88.4h0M513.5 73.3h0M524.7 118.4h0M536.0 52.0h0M523.2 113.0h0M537.5 55.9h0M548.4 101.9h0M536.0 92.8h0M529.2 48.8h0M545.4 87.1h0M551.9 55.9h0M520.6 105.7h0M541.7 76.6h0M529.5 110.6h0M522.7 105.8h0M524.3 97.5h0M529.9 106.3h0M535.4 37.5h0M544.9 31.1h0M536.0 80.9h0M549.6 40.6h0M525.0 94.2h0M528.6 92.9h0M544.4 67.0h0M546.7 101.5h0M520.0 66.3h0M551.6 76.1h0M549.4 40.7h0M526.0 64.9h0M529.9 98.8h0M537.6 62.7h0M558.4 59.3h0M534.8 76.6h0M556.9 25.3h0M548.6 92.5h0M546.3 46.8h0M609.4 83.2h0M608.0 86.9h0M605.8 92.1h0M605.2 98.9h0M607.8 81.8h0M645.6 118.1h0M593.9 108.3h0M604.0 80.3h0M648.9 116.5h0M628.1 126.0h0M651.4 107.3h0M524.9 169.7h0M573.7 166.9h0M529.4 162.4h0M563.1 146.2h0M527.5 148.5h0M570.3 162.1h0M549.6 154.8h0M542.9 144.5h0M521.9 157.7h0M542.5 158.0h0M419.1 129.1h0M467.7 117.8h0M473.5 140.7h0M413.1 94.1h0M451.4 112.4h0M586.8 198.9h0M542.8 189.5h0M546.8 153.9h0M539.7 154.3h0M571.5 209.0h0M521.5 224.0h0" stroke="#e0907e" stroke-width="4.4"/><path d="M548.0 62.8h0M545.8 100.7h0M511.9 102.3h0M555.0 33.8h0M530.2 113.3h0M544.2 56.0h0M538.2 87.2h0M547.0 74.8h0M550.6 20.6h0M531.1 94.5h0M562.3 44.7h0M520.8 111.2h0M554.8 75.7h0M513.4 73.9h0M532.2 100.8h0M550.9 68.9h0M534.4 87.8h0M520.4 90.0h0M549.7 56.8h0M535.0 21.5h0M535.3 58.5h0M539.4 47.2h0M534.7 29.7h0M545.2 38.5h0M556.0 27.5h0M529.7 48.4h0M529.7 72.7h0M519.2 62.4h0M515.8 68.2h0M526.2 59.4h0M547.3 63.1h0M559.1 33.4h0M529.5 91.9h0M523.2 99.5h0M520.8 85.7h0M545.3 70.4h0M536.5 119.9h0M555.2 37.9h0M518.5 102.9h0M522.5 55.0h0M546.4 99.9h0M562.0 38.5h0M558.8 41.1h0M541.8 37.6h0M549.3 45.3h0M527.1 60.3h0M514.8 77.8h0M527.0 66.5h0M534.5 83.0h0M524.8 20.9h0M516.7 65.3h0M549.7 30.4h0M532.1 82.9h0M549.4 95.3h0M545.5 56.5h0M539.6 64.3h0M541.0 28.0h0M538.0 67.2h0M535.2 26.6h0M537.9 35.2h0M517.9 106.6h0M533.3 37.0h0M541.1 63.8h0M552.6 70.4h0M532.3 86.4h0M543.3 49.8h0M530.2 44.9h0M517.8 95.9h0M549.3 43.6h0M559.5 39.9h0M515.0 111.8h0M534.9 102.3h0M524.3 55.1h0M517.3 77.4h0M539.5 49.5h0M556.8 86.5h0M541.8 102.5h0M541.8 100.0h0M551.0 42.1h0M530.8 51.8h0M533.1 34.2h0M535.5 31.7h0M553.4 28.7h0M528.9 107.7h0M564.1 50.0h0M552.3 70.7h0M521.2 63.9h0M533.6 60.7h0M527.8 87.5h0M559.3 41.2h0M533.7 120.0h0M537.4 47.0h0M548.0 70.5h0M538.7 51.0h0M527.6 104.6h0M534.6 103.3h0M546.6 68.5h0M543.1 34.8h0M529.5 63.5h0M543.1 20.4h0M549.4 44.7h0M524.8 112.4h0M552.6 64.3h0M561.8 55.2h0M520.4 91.9h0M561.7 36.6h0M521.7 106.9h0M537.2 103.8h0M513.2 83.7h0M547.4 32.9h0M555.0 66.4h0M538.2 48.1h0M562.6 50.4h0M533.7 96.1h0M522.6 75.2h0M590.4 98.3h0M595.0 99.4h0M590.6 96.4h0M607.8 86.0h0M600.6 85.5h0M604.4 79.3h0M610.2 97.8h0M605.6 85.1h0M607.0 94.8h0M619.6 119.4h0M662.7 125.3h0M618.4 105.9h0M660.7 108.3h0M665.7 122.0h0M672.3 116.4h0M638.4 108.3h0M610.2 97.8h0M634.2 136.6h0M655.3 111.3h0M520.1 172.3h0M522.4 154.1h0M565.5 150.1h0M566.7 156.4h0M525.8 164.2h0M557.5 165.3h0M538.0 146.5h0M557.1 164.1h0M525.3 156.0h0M562.8 174.3h0M551.7 160.6h0M566.4 163.4h0M520.8 155.7h0M536.5 145.0h0M453.2 90.1h0M446.9 120.6h0M584.8 208.1h0M511.5 194.0h0M556.2 224.7h0M513.1 188.0h0M556.0 156.1h0M566.6 170.1h0M455.9 207.1h0M456.7 215.8h0M394.0 213.9h0M385.3 201.1h0" stroke="#ea6a50" stroke-width="4.4"/><path d="M545.3 103.7h0M523.3 53.5h0M533.9 116.3h0M540.2 86.5h0M511.3 97.7h0M532.8 23.5h0M521.3 77.7h0M542.1 99.9h0M550.8 45.4h0M545.8 35.7h0M533.6 29.0h0M534.4 50.0h0M550.1 72.7h0M531.6 87.4h0M561.9 44.9h0M545.9 96.5h0M553.2 100.2h0M537.7 32.7h0M523.0 112.4h0M554.5 52.8h0M550.1 37.6h0M529.4 54.7h0M533.3 91.4h0M538.2 102.1h0M529.4 112.8h0M537.1 110.2h0M548.6 90.7h0M528.0 96.5h0M533.7 117.9h0M529.0 82.3h0M539.7 58.7h0M552.6 44.0h0M540.8 92.5h0M532.9 76.3h0M560.5 66.1h0M523.0 117.9h0M532.7 41.6h0M534.4 69.2h0M524.8 69.1h0M524.5 23.3h0M543.3 97.9h0M547.6 58.1h0M537.5 69.0h0M529.9 66.8h0M515.1 104.0h0M536.4 43.0h0M532.1 113.6h0M603.6 90.5h0M591.9 95.8h0M674.1 118.0h0M641.5 140.1h0M659.6 129.0h0M544.3 163.6h0M570.0 225.6h0M545.1 201.5h0M585.1 192.6h0M454.0 203.7h0" stroke="#f03e22" stroke-width="4.4"/></g><rect x="372.5" y="372.6" width="108.3" height="116.3" fill="none" stroke="#555" stroke-width="1"/><line x1="372.0" x2="481.6" y1="488.9" y2="488.9" stroke="#444" stroke-width="1.6"/><line x1="480.8" x2="480.8" y1="372.6" y2="488.9" stroke="#444" stroke-width="1.6"/><text x="475.8" y="392.1" font-size="15" font-style="italic" text-anchor="end">Mki67</text><g transform="matrix(0.28321 0 0 0.38531 393.423 371.097)" stroke-linecap="round"><use href="#allc" stroke="#bebebe" stroke-width="4.4"/><path d="M544.2 213.4h0M519.1 162.7h0M526.0 154.2h0M516.7 174.2h0M529.8 172.6h0M554.1 215.6h0M536.5 160.2h0M578.8 211.7h0M527.6 189.6h0M580.8 185.8h0M515.3 203.8h0M520.6 220.3h0M592.1 202.7h0M538.6 183.6h0M568.5 225.3h0M514.2 204.7h0M562.0 189.0h0M511.3 215.6h0M562.9 217.8h0M534.7 173.5h0M541.7 170.5h0M571.5 218.9h0M520.0 190.2h0M577.7 220.3h0M567.1 207.1h0M552.7 184.3h0M546.9 164.8h0M520.2 190.2h0M579.0 188.7h0M584.8 208.1h0M539.2 180.6h0M540.3 233.2h0M543.8 190.2h0M551.5 200.7h0M564.0 214.2h0M551.7 158.4h0M550.9 156.7h0M527.3 179.5h0M538.8 219.8h0M512.2 185.2h0M572.7 227.5h0M577.5 211.6h0M528.2 179.5h0M572.7 222.4h0M542.2 236.8h0M518.2 156.9h0M530.4 215.5h0M566.7 156.4h0M538.9 179.5h0M543.1 225.9h0M547.9 154.2h0M515.6 200.0h0M540.1 188.2h0M520.5 166.2h0M553.1 230.2h0M543.0 222.3h0M552.2 143.4h0M552.3 227.2h0M519.3 160.6h0M527.3 196.1h0M529.0 152.9h0M511.7 190.9h0M534.7 167.9h0M527.5 148.5h0M568.4 223.4h0M537.8 152.1h0M513.6 196.8h0M562.9 220.2h0M545.7 215.0h0M550.5 217.4h0M568.5 187.6h0M522.6 181.7h0M521.3 153.5h0M571.5 181.3h0M517.2 158.6h0M581.8 205.7h0M535.0 200.6h0M538.7 143.6h0M531.7 177.8h0M544.4 207.5h0M526.9 217.8h0M578.1 201.2h0M540.5 163.3h0M520.1 220.8h0M528.2 215.3h0M576.2 221.5h0M553.9 211.9h0M528.2 151.9h0M548.4 152.4h0M548.5 194.0h0M567.1 230.8h0M553.5 214.7h0M564.7 216.9h0M536.6 169.6h0M561.4 200.4h0M563.5 231.0h0M547.8 230.9h0M520.5 217.4h0M562.5 179.6h0M536.7 198.3h0M523.6 207.8h0M539.4 194.2h0M557.1 164.1h0M531.6 158.5h0M539.7 154.3h0M552.4 190.8h0M583.3 209.4h0M545.7 235.7h0M518.3 197.2h0M547.9 192.6h0M538.5 205.3h0M551.1 233.9h0M551.2 182.2h0M566.6 190.3h0M516.5 175.3h0M524.2 156.2h0M534.5 206.8h0M518.4 153.6h0M558.4 233.6h0M550.9 232.6h0M547.1 151.0h0M517.3 194.0h0M565.4 173.0h0M568.1 177.2h0M532.3 147.0h0M546.7 149.3h0M539.4 154.7h0M515.2 209.4h0M579.9 211.9h0M579.0 208.3h0M546.3 234.6h0M532.5 203.9h0M566.5 198.7h0M540.2 195.8h0M517.8 156.0h0M550.3 193.2h0M527.5 195.0h0M517.7 189.1h0M555.6 209.2h0M516.8 220.7h0M584.9 199.9h0M522.5 212.2h0M566.9 220.2h0M524.6 182.5h0M517.5 217.7h0M567.7 218.5h0M583.6 198.8h0M526.7 227.0h0M547.7 236.2h0M530.6 194.7h0M556.5 214.8h0M583.5 215.1h0M539.4 166.0h0M589.3 205.9h0M555.6 178.4h0M529.0 161.4h0M547.2 182.4h0M538.8 215.1h0M560.2 224.1h0M536.9 187.2h0M571.9 229.8h0M573.1 220.0h0M558.1 225.9h0M539.1 215.7h0M551.7 161.1h0M545.2 148.4h0M520.7 211.5h0M551.3 149.2h0M583.7 209.5h0M560.6 230.3h0M553.5 199.0h0M530.9 228.5h0M541.0 220.9h0M540.0 171.9h0M570.2 165.3h0M569.7 167.4h0M541.3 195.6h0M540.2 204.3h0M546.0 186.9h0M542.7 142.0h0M512.6 206.8h0M582.4 193.3h0M552.2 179.9h0M583.0 217.9h0M554.4 175.2h0M554.1 178.7h0M531.6 217.3h0M577.3 187.6h0M530.2 228.2h0M512.8 207.3h0M556.5 153.3h0M527.3 192.4h0M573.0 187.5h0M559.8 234.3h0M522.1 191.3h0M525.5 150.7h0M580.1 217.9h0M626.7 195.6h0M625.6 212.5h0M623.9 194.1h0M637.0 198.4h0M614.5 211.8h0M634.9 224.3h0M628.2 191.3h0M636.5 193.6h0M602.6 206.8h0M626.4 190.3h0M623.9 210.4h0M620.1 199.4h0M615.8 203.8h0M604.8 209.5h0M626.0 192.8h0M615.8 211.1h0M627.6 199.1h0M625.3 194.2h0M615.2 217.1h0M633.1 188.9h0M626.1 211.0h0M634.9 218.6h0M637.6 220.9h0M618.6 202.8h0M630.8 219.1h0M632.1 207.0h0M623.7 204.4h0M634.9 222.8h0M617.7 205.6h0M620.7 195.1h0M635.3 191.5h0M627.8 206.3h0M624.4 217.2h0M629.2 199.8h0M611.1 202.7h0M633.6 209.6h0M611.0 204.0h0M635.9 210.8h0M631.6 196.9h0M627.3 210.2h0M610.5 213.3h0M639.0 224.5h0M622.8 206.4h0M617.8 201.0h0M634.0 217.7h0M620.3 206.0h0M631.5 191.7h0M612.6 203.1h0M628.2 212.2h0M624.9 200.5h0M613.3 211.8h0M624.6 208.1h0M620.3 207.1h0M609.5 200.4h0M634.2 218.8h0M635.9 190.4h0M637.9 216.9h0M634.7 211.7h0M634.8 192.8h0M617.1 194.7h0M637.8 172.7h0M641.9 183.8h0M543.0 109.7h0M523.3 53.5h0M556.8 70.3h0M512.7 103.6h0M550.6 20.6h0M526.7 22.5h0M527.2 62.5h0M544.1 43.9h0M544.3 88.8h0M537.1 105.3h0M546.1 76.9h0M550.9 68.9h0M553.5 54.3h0M535.7 30.9h0M548.4 64.1h0M535.4 119.7h0M540.4 69.7h0M558.2 72.4h0M546.4 91.0h0M522.8 113.5h0M519.8 100.7h0M515.4 98.6h0M540.0 102.2h0M556.0 27.5h0M538.6 84.4h0M531.9 111.8h0M550.4 95.1h0M526.2 59.4h0M554.9 40.5h0M545.7 77.9h0M563.4 56.7h0M551.4 40.2h0M534.8 90.8h0M535.8 35.0h0M520.8 85.7h0M520.1 94.7h0M540.3 90.8h0M561.9 44.9h0M531.8 60.6h0M524.0 99.1h0M560.4 75.1h0M548.8 40.8h0M553.6 99.1h0M553.1 49.1h0M543.4 27.9h0M518.6 72.2h0M555.2 34.5h0M542.6 46.9h0M549.7 30.4h0M515.5 101.4h0M510.2 96.2h0M532.1 82.9h0M516.4 111.8h0M519.8 73.7h0M537.1 110.2h0M532.8 79.4h0M532.6 70.2h0M535.2 26.6h0M542.6 110.8h0M535.4 37.5h0M531.7 53.7h0M528.7 72.2h0M535.7 51.5h0M530.7 26.7h0M533.4 57.5h0M548.2 35.2h0M528.0 58.1h0M530.6 88.6h0M552.6 70.4h0M527.0 95.6h0M517.8 95.9h0M541.0 111.1h0M552.1 27.7h0M532.9 76.3h0M534.6 106.6h0M531.5 115.5h0M523.2 101.5h0M535.0 65.6h0M544.1 72.3h0M556.4 63.0h0M515.0 111.8h0M562.5 56.9h0M544.3 73.3h0M537.4 29.3h0M540.7 17.9h0M541.8 102.5h0M519.4 103.3h0M524.2 108.3h0M547.7 24.0h0M549.3 74.2h0M541.8 100.0h0M514.5 84.3h0M527.9 27.6h0M537.5 34.4h0M521.8 58.3h0M531.5 88.4h0M533.2 33.1h0M536.3 37.1h0M553.8 47.3h0M518.1 107.4h0M552.3 70.7h0M522.4 98.3h0M524.5 23.3h0M553.6 40.8h0M526.8 118.0h0M529.9 95.9h0M526.6 60.2h0M522.7 105.8h0M522.1 81.8h0M539.6 57.2h0M553.3 27.8h0M537.4 47.0h0M529.9 106.3h0M521.1 108.0h0M519.1 83.9h0M547.6 43.8h0M543.1 34.8h0M539.7 30.9h0M525.0 94.2h0M537.3 98.6h0M523.5 103.1h0M520.0 66.3h0M539.7 93.0h0M511.6 95.5h0M562.6 50.4h0M532.4 20.5h0M526.2 77.8h0M548.5 23.5h0M660.5 107.2h0M645.6 118.1h0M647.9 122.5h0M645.7 133.7h0M659.7 114.8h0M662.7 125.3h0M656.4 127.0h0M659.5 131.8h0M650.8 113.2h0M670.0 131.9h0M671.9 118.3h0M644.3 138.5h0M641.3 108.6h0M654.3 128.0h0M656.9 114.0h0M646.2 116.9h0M670.9 131.1h0M675.4 120.0h0M652.1 127.1h0M660.4 110.9h0M647.3 138.9h0M665.2 112.6h0M652.8 133.9h0M674.1 118.0h0M664.8 114.2h0M665.6 118.2h0M653.6 139.6h0M671.8 128.2h0M661.1 132.5h0M641.0 116.8h0M641.8 134.7h0M653.8 134.0h0M643.5 106.9h0M642.3 136.8h0M659.9 138.4h0M641.5 140.1h0M679.1 126.8h0M670.7 118.9h0M674.9 124.2h0M665.0 126.2h0M640.0 137.8h0M660.8 130.3h0M664.7 114.3h0M676.5 125.1h0M673.4 120.0h0M649.0 126.2h0M643.5 123.3h0M622.1 103.8h0M631.9 120.7h0M631.9 135.9h0M652.8 133.9h0M639.0 113.0h0M604.9 120.3h0M617.9 91.4h0M615.9 99.3h0M661.5 127.0h0M615.6 114.9h0M655.0 106.3h0M379.4 224.2h0M426.5 95.4h0M446.1 106.9h0M416.9 92.9h0M418.7 95.9h0" stroke="#e0907e" stroke-width="4.4"/><path d="M562.3 232.4h0M553.4 225.2h0M521.1 186.7h0M574.2 195.1h0M568.2 197.2h0M558.2 183.4h0M522.5 149.7h0M513.0 214.5h0M541.8 224.8h0M514.9 182.7h0M532.0 179.4h0M539.0 226.1h0M523.2 161.1h0M528.1 186.3h0M590.5 206.8h0M583.7 217.5h0M516.9 201.2h0M539.5 150.2h0M537.6 164.4h0M527.0 160.6h0M564.5 217.6h0M572.9 185.6h0M518.9 153.1h0M592.9 203.5h0M519.3 228.6h0M544.4 229.4h0M546.1 156.2h0M556.6 213.7h0M547.1 191.1h0M556.4 231.9h0M526.9 232.9h0M521.9 181.0h0M552.6 171.8h0M555.9 181.9h0M517.0 164.5h0M557.4 207.8h0M567.6 180.4h0M515.2 223.3h0M513.7 223.9h0M514.0 211.8h0M515.2 221.8h0M533.3 183.8h0M529.1 234.2h0M549.1 188.1h0M570.0 225.6h0M570.7 202.1h0M577.1 212.5h0M551.5 191.3h0M514.4 164.4h0M520.7 163.3h0M547.0 168.1h0M520.1 172.3h0M532.7 231.2h0M529.5 164.5h0M562.6 229.0h0M573.2 202.2h0M548.8 172.2h0M564.8 168.0h0M525.9 228.2h0M546.9 151.9h0M540.6 171.7h0M542.6 182.4h0M528.1 229.6h0M519.0 163.1h0M563.1 207.6h0M553.4 196.1h0M541.5 160.3h0M537.2 179.9h0M567.1 157.7h0M533.5 232.8h0M540.3 171.0h0M543.5 218.9h0M537.3 165.1h0M541.4 163.0h0M510.8 193.0h0M565.5 150.1h0M521.2 226.1h0M558.0 170.5h0M551.9 161.0h0M549.1 219.6h0M520.2 158.3h0M534.6 232.9h0M544.6 219.7h0M525.0 150.6h0M586.3 199.8h0M511.5 194.0h0M559.9 192.8h0M562.3 168.5h0M544.8 203.6h0M546.6 181.7h0M550.3 161.4h0M548.9 148.7h0M551.6 175.6h0M550.5 233.3h0M551.4 229.6h0M521.9 231.3h0M566.8 227.2h0M522.5 216.2h0M517.9 190.9h0M563.1 173.8h0M546.2 155.6h0M563.3 236.0h0M562.0 185.3h0M516.2 201.6h0M529.4 228.0h0M575.8 209.3h0M572.2 183.1h0M569.6 164.5h0M572.6 170.6h0M562.7 166.6h0M514.9 216.5h0M562.3 173.4h0M525.8 164.2h0M538.1 170.5h0M553.2 154.0h0M536.3 156.9h0M516.7 176.3h0M524.9 201.5h0M542.5 216.8h0M568.0 187.8h0M562.7 184.1h0M543.0 211.8h0M516.4 179.8h0M550.4 235.1h0M579.8 190.0h0M543.5 232.4h0M526.1 206.2h0M527.4 211.9h0M541.9 159.1h0M519.1 215.4h0M527.5 234.0h0M578.9 219.3h0M512.8 220.5h0M554.7 223.9h0M540.4 179.7h0M536.6 235.8h0M570.2 200.3h0M537.3 223.8h0M579.7 178.2h0M584.7 192.3h0M587.8 198.6h0M568.3 197.4h0M565.7 183.6h0M534.1 180.0h0M535.5 180.9h0M512.6 194.5h0M559.2 231.4h0M543.7 148.2h0M563.8 159.1h0M570.3 162.1h0M529.9 234.0h0M522.3 223.8h0M550.1 144.0h0M539.8 195.3h0M545.9 205.4h0M539.4 202.2h0M557.0 167.1h0M540.6 206.2h0M544.5 196.4h0M511.6 221.0h0M581.7 218.4h0M525.3 212.7h0M560.5 205.5h0M530.0 212.8h0M558.2 227.3h0M559.7 172.4h0M517.0 170.3h0M530.2 150.4h0M570.1 157.4h0M527.0 231.0h0M547.1 171.8h0M579.3 185.6h0M565.8 159.0h0M557.4 151.8h0M523.5 214.7h0M560.7 187.3h0M571.4 178.6h0M550.6 139.5h0M518.4 209.2h0M554.5 140.1h0M523.7 148.2h0M550.7 187.9h0M559.2 223.8h0M520.7 195.1h0M580.7 190.4h0M528.7 171.4h0M527.1 189.0h0M541.1 196.3h0M556.2 186.9h0M513.3 176.6h0M561.3 222.7h0M573.8 185.3h0M575.8 224.9h0M541.8 193.3h0M576.1 222.6h0M523.9 168.3h0M556.9 187.5h0M552.8 189.5h0M538.3 232.4h0M542.7 193.9h0M522.7 169.7h0M521.5 166.9h0M552.3 188.3h0M562.5 198.1h0M580.9 196.4h0M551.1 193.1h0M574.7 170.2h0M569.9 173.2h0M529.0 176.8h0M549.9 217.0h0M539.0 156.6h0M556.6 149.4h0M542.9 144.5h0M515.9 164.9h0M546.3 221.3h0M540.6 233.5h0M551.7 160.6h0M560.6 159.2h0M531.3 214.9h0M557.1 169.0h0M541.7 146.6h0M535.7 204.0h0M518.8 209.4h0M532.4 178.2h0M586.7 215.2h0M571.5 209.0h0M572.7 220.5h0M588.5 206.9h0M568.8 218.3h0M591.9 201.5h0M552.6 182.3h0M533.9 226.1h0M574.3 220.8h0M517.3 186.7h0M564.5 163.0h0M522.5 216.1h0M539.9 192.9h0M557.0 200.6h0M550.8 187.8h0M567.5 154.3h0M533.5 182.1h0M591.3 199.7h0M515.3 203.8h0M544.0 190.8h0M556.9 177.5h0M558.9 146.0h0M569.2 180.4h0M583.5 194.1h0M560.2 147.9h0M566.4 163.4h0M533.0 206.4h0M523.7 219.5h0M548.5 195.5h0M566.1 165.2h0M562.8 201.2h0M563.0 172.9h0M549.6 174.6h0M570.9 192.9h0M587.8 196.1h0M513.8 186.3h0M564.1 157.6h0M560.0 145.9h0M564.2 178.4h0M566.8 171.6h0M512.9 179.3h0M559.7 163.6h0M521.4 152.2h0M556.0 203.5h0M572.2 163.7h0M569.6 214.0h0M553.3 231.7h0M575.0 174.1h0M513.1 188.0h0M520.8 155.7h0M542.7 224.1h0M513.1 194.2h0M589.8 200.5h0M530.6 181.2h0M573.7 202.0h0M521.5 224.0h0M532.4 171.0h0M526.1 226.0h0M521.0 211.3h0M537.3 229.5h0M570.0 225.8h0M519.7 180.7h0M555.1 192.7h0M542.5 169.7h0M541.5 176.4h0M540.6 162.0h0M581.0 216.1h0M566.6 170.1h0M548.9 209.9h0M527.1 152.2h0M547.8 201.8h0M516.8 173.5h0M547.2 146.8h0M568.2 182.8h0M566.9 174.5h0M553.0 161.7h0M525.3 194.8h0M536.0 162.1h0M563.1 223.5h0M540.1 142.4h0M546.3 174.6h0M592.1 208.9h0M573.4 175.8h0M548.0 184.0h0M552.3 220.1h0M566.8 193.2h0M573.2 194.2h0M512.7 205.8h0M577.5 197.0h0M533.5 159.0h0M541.8 141.3h0M571.0 180.8h0M533.1 172.7h0M531.4 226.9h0M516.3 202.4h0M519.3 195.6h0M525.0 178.2h0M528.7 224.8h0M550.2 216.8h0M561.5 206.9h0M536.6 235.2h0M549.5 187.5h0M573.1 201.4h0M581.2 216.3h0M591.6 205.0h0M559.1 181.4h0M579.4 216.1h0M528.0 157.7h0M567.3 208.8h0M543.1 146.7h0M599.6 203.3h0M594.9 207.5h0M621.4 206.1h0M619.5 217.6h0M623.3 206.0h0M609.5 206.2h0M622.5 190.6h0M628.7 188.1h0M638.7 216.4h0M635.4 194.7h0M613.8 206.0h0M630.5 216.4h0M614.8 204.3h0M636.6 221.4h0M613.8 206.4h0M622.5 214.8h0M619.9 213.1h0M609.8 210.9h0M622.9 210.4h0M633.1 190.4h0M629.2 193.5h0M631.1 192.0h0M631.5 188.2h0M629.9 203.5h0M610.1 197.7h0M635.0 223.7h0M625.4 189.1h0M622.2 214.8h0M607.0 200.2h0M610.9 205.0h0M637.8 216.0h0M623.1 215.8h0M630.5 205.8h0M626.9 193.4h0M609.2 200.9h0M616.9 190.1h0M638.7 219.8h0M636.6 214.8h0M635.1 217.3h0M632.5 188.9h0M611.3 214.8h0M638.5 202.1h0M613.9 200.3h0M628.1 211.1h0M615.0 195.3h0M623.1 217.6h0M623.9 211.6h0M626.8 214.7h0M616.1 215.5h0M607.1 210.0h0M635.2 222.8h0M625.1 195.0h0M633.2 216.2h0M633.3 208.4h0M622.6 189.2h0M605.1 211.2h0M604.0 201.3h0M633.9 189.4h0M627.6 190.4h0M623.5 206.7h0M637.9 216.0h0M632.1 208.6h0M604.6 204.6h0M613.9 197.3h0M634.7 203.0h0M613.8 199.2h0M635.6 220.4h0M618.8 210.7h0M606.6 211.5h0M629.1 190.5h0M628.7 211.2h0M624.6 217.9h0M610.1 200.8h0M645.0 170.3h0M643.5 171.4h0M644.7 178.5h0M643.9 175.5h0M641.4 181.3h0M545.8 100.7h0M511.9 102.3h0M519.2 115.0h0M544.2 56.0h0M517.5 77.9h0M553.6 87.2h0M531.2 57.0h0M538.6 46.9h0M551.8 21.3h0M550.8 87.3h0M547.9 24.5h0M540.0 100.7h0M534.4 87.8h0M531.6 46.3h0M535.7 102.2h0M563.2 62.3h0M515.3 78.3h0M533.6 24.0h0M522.7 84.4h0M544.3 93.9h0M521.6 86.7h0M551.0 27.8h0M518.5 70.1h0M539.4 47.2h0M533.1 28.4h0M528.9 26.8h0M549.5 105.1h0M529.7 48.4h0M538.1 64.2h0M549.7 99.6h0M548.8 20.2h0M523.3 59.8h0M547.2 88.6h0M511.1 88.7h0M561.2 71.4h0M556.5 55.1h0M523.7 64.1h0M540.8 35.8h0M558.8 41.1h0M549.8 54.3h0M545.9 96.5h0M513.9 77.4h0M529.8 116.8h0M520.3 96.5h0M541.8 37.6h0M549.3 45.3h0M527.9 71.2h0M535.8 43.8h0M543.7 89.2h0M545.9 75.6h0M523.7 60.9h0M544.6 88.7h0M551.8 102.8h0M538.1 54.6h0M523.6 65.7h0M522.0 111.3h0M545.5 56.5h0M532.4 108.3h0M533.3 91.4h0M533.1 26.6h0M537.9 35.2h0M517.4 64.7h0M543.4 48.4h0M535.8 68.4h0M539.1 45.6h0M512.9 100.5h0M539.7 112.6h0M546.8 20.5h0M541.1 63.8h0M530.2 44.9h0M557.3 62.8h0M549.5 84.3h0M552.6 42.9h0M535.3 68.1h0M541.8 33.8h0M562.5 59.0h0M532.2 73.4h0M532.7 41.6h0M551.5 40.1h0M533.1 34.2h0M515.1 69.1h0M536.1 30.2h0M527.2 22.6h0M556.9 83.0h0M564.1 50.0h0M523.2 113.0h0M529.2 48.8h0M549.7 38.5h0M524.4 67.5h0M551.9 55.9h0M542.2 43.5h0M535.8 119.4h0M533.7 120.0h0M537.5 68.2h0M538.7 51.0h0M528.1 60.3h0M534.6 103.3h0M554.9 71.0h0M558.8 52.1h0M543.7 29.5h0M556.8 31.9h0M552.6 64.3h0M520.4 116.2h0M538.3 33.0h0M530.2 77.0h0M543.8 30.0h0M551.6 76.1h0M540.9 84.2h0M532.1 113.6h0M548.6 92.5h0M520.8 83.6h0M533.7 96.1h0M538.0 61.1h0M663.6 137.4h0M671.5 132.7h0M655.1 109.5h0M665.5 116.3h0M660.8 137.8h0M650.4 105.3h0M649.0 131.9h0M678.8 122.5h0M645.9 139.9h0M660.7 108.3h0M658.1 131.1h0M672.4 132.6h0M653.7 133.5h0M671.4 129.3h0M662.0 126.6h0M644.1 127.3h0M661.4 107.4h0M650.7 133.5h0M646.2 114.1h0M653.2 107.5h0M657.8 132.7h0M664.0 135.9h0M663.4 134.0h0M651.9 128.0h0M652.5 108.3h0M644.1 131.9h0M661.9 109.1h0M642.6 121.1h0M647.5 119.2h0M675.0 119.9h0M661.7 136.4h0M673.6 125.5h0M642.0 123.3h0M643.2 139.2h0M661.5 127.0h0M661.9 111.1h0M654.9 111.7h0M673.1 130.2h0M673.1 127.1h0M666.3 114.8h0M594.0 105.2h0M589.8 105.7h0M608.0 86.9h0M594.8 99.1h0M649.5 137.6h0M646.2 116.9h0M588.2 107.2h0M634.5 128.7h0M663.0 125.5h0M620.9 122.2h0M621.1 96.5h0M627.4 96.7h0M382.9 218.4h0M481.0 130.5h0M433.7 109.2h0" stroke="#ea6a50" stroke-width="4.4"/><path d="M554.4 174.4h0M518.6 160.2h0M557.9 177.5h0M534.6 219.3h0M563.3 175.1h0M555.4 144.3h0M529.1 195.2h0M511.3 204.6h0M549.0 204.1h0M513.2 207.9h0M541.3 204.6h0M555.5 226.0h0M541.9 177.7h0M555.0 140.7h0M553.7 235.5h0M530.5 174.5h0M522.4 214.9h0M536.7 217.8h0M542.7 232.3h0M529.7 167.2h0M558.5 228.1h0M553.3 139.9h0M536.2 189.6h0M517.1 193.8h0M529.4 165.6h0M574.9 188.6h0M565.1 152.2h0M542.4 186.5h0M524.9 169.7h0M531.3 150.9h0M544.5 228.8h0M555.9 230.3h0M573.7 166.9h0M551.3 155.7h0M578.9 181.0h0M542.0 188.5h0M537.6 220.9h0M569.2 201.3h0M543.0 172.6h0M530.1 154.3h0M583.4 204.8h0M558.7 190.7h0M585.2 200.5h0M551.6 221.2h0M519.4 173.9h0M517.0 221.2h0M556.3 200.5h0M571.8 163.1h0M571.1 158.4h0M550.7 176.1h0M549.4 206.1h0M566.5 167.0h0M526.2 195.9h0M528.0 227.4h0M535.3 221.7h0M540.2 177.1h0M552.2 156.9h0M571.4 182.9h0M556.2 177.3h0M522.4 154.1h0M551.0 159.9h0M528.6 163.7h0M557.3 226.4h0M572.9 179.1h0M531.4 162.7h0M553.2 205.9h0M547.6 192.9h0M534.0 183.9h0M551.1 205.2h0M544.3 163.6h0M527.1 213.7h0M565.6 232.5h0M520.6 177.2h0M513.1 177.2h0M565.5 175.7h0M532.2 173.0h0M579.2 181.1h0M590.9 199.5h0M530.6 209.4h0M587.4 201.1h0M545.2 187.1h0M560.5 170.6h0M535.6 174.0h0M536.1 235.6h0M530.9 146.4h0M569.4 182.5h0M561.7 205.1h0M578.0 203.1h0M559.6 199.7h0M530.0 197.7h0M564.4 158.3h0M576.9 192.6h0M522.1 207.3h0M543.4 166.2h0M535.0 194.4h0M517.3 186.9h0M526.8 177.8h0M574.1 215.7h0M547.6 155.9h0M563.1 146.2h0M513.6 172.9h0M526.0 164.2h0M551.8 169.8h0M562.5 177.3h0M539.1 214.2h0M559.0 158.3h0M583.4 215.9h0M556.7 172.9h0M525.2 198.6h0M572.5 184.3h0M555.9 181.4h0M576.3 190.1h0M530.9 201.9h0M528.6 228.4h0M565.6 235.5h0M517.2 158.5h0M581.7 199.6h0M538.0 208.2h0M554.5 159.6h0M517.4 201.4h0M568.3 216.4h0M528.2 183.9h0M554.0 213.1h0M573.2 202.4h0M521.4 222.0h0M544.4 160.8h0M570.5 225.7h0M575.7 209.0h0M544.6 183.3h0M561.8 178.8h0M523.8 203.2h0M521.8 215.9h0M538.4 164.4h0M548.6 194.0h0M538.5 201.6h0M544.8 156.5h0M532.3 162.4h0M534.1 185.8h0M565.1 174.1h0M564.8 162.9h0M537.9 153.2h0M560.6 215.8h0M525.0 207.0h0M545.9 225.9h0M550.5 187.6h0M552.2 186.3h0M539.6 185.3h0M526.2 181.3h0M544.5 193.2h0M551.8 235.1h0M533.8 196.4h0M511.4 210.0h0M566.9 159.2h0M515.5 224.6h0M512.2 215.1h0M534.9 210.7h0M541.3 216.3h0M560.1 227.3h0M557.5 165.3h0M555.9 217.4h0M548.2 158.6h0M542.8 189.5h0M517.1 201.0h0M575.5 180.4h0M525.3 156.0h0M556.2 224.7h0M530.2 194.2h0M563.4 233.3h0M530.1 173.1h0M549.6 154.8h0M520.4 224.7h0M531.0 179.0h0M521.4 165.0h0M522.4 186.9h0M549.3 166.5h0M516.4 166.8h0M580.1 190.4h0M578.3 196.1h0M524.0 220.8h0M546.5 189.4h0M529.6 219.4h0M532.1 150.2h0M541.6 179.9h0M542.2 231.8h0M529.5 180.0h0M545.4 188.3h0M534.4 202.5h0M554.2 152.8h0M580.7 198.8h0M525.3 208.8h0M533.5 214.9h0M517.4 160.4h0M591.1 211.6h0M579.1 189.6h0M557.5 179.6h0M547.1 183.6h0M570.6 167.2h0M544.9 228.7h0M567.3 176.8h0M552.3 149.0h0M543.6 216.4h0M531.0 202.4h0M553.2 220.0h0M522.6 164.6h0M535.2 227.5h0M534.7 225.2h0M529.0 155.3h0M554.2 176.4h0M524.5 166.2h0M585.9 196.5h0M552.4 192.0h0M539.2 187.8h0M510.5 205.7h0M543.7 203.6h0M521.9 157.7h0M563.2 155.9h0M570.0 163.4h0M517.5 216.8h0M571.9 220.7h0M562.4 183.1h0M512.6 207.5h0M555.1 162.9h0M543.6 158.1h0M534.8 151.6h0M569.2 204.8h0M559.8 183.9h0M539.2 158.6h0M525.0 207.9h0M536.0 184.7h0M587.6 202.2h0M529.2 151.8h0M510.3 215.1h0M546.0 157.0h0M576.1 180.4h0M552.5 180.0h0M537.3 181.7h0M536.0 183.9h0M533.7 194.9h0M537.7 226.2h0M566.7 182.6h0M585.1 192.6h0M517.6 223.9h0M543.3 145.3h0M546.0 224.0h0M541.9 155.1h0M580.6 195.9h0M540.9 152.4h0M583.8 191.6h0M537.6 153.0h0M551.4 225.0h0M566.8 177.1h0M549.1 153.8h0M531.6 187.8h0M553.7 233.3h0M538.2 151.5h0M558.2 236.4h0M542.5 158.0h0M524.2 191.5h0M536.4 147.3h0M560.1 171.0h0M575.2 168.8h0M547.2 165.7h0M556.0 156.1h0M563.1 172.3h0M536.0 228.0h0M543.4 229.5h0M528.0 158.2h0M526.7 194.7h0M523.4 206.3h0M538.6 187.4h0M584.5 210.8h0M567.6 203.1h0M544.2 234.9h0M568.1 170.3h0M563.9 192.7h0M528.2 200.7h0M572.3 175.7h0M522.8 219.9h0M521.2 163.0h0M577.5 189.9h0M543.3 202.6h0M510.1 197.0h0M566.0 211.7h0M518.1 160.0h0M531.7 164.1h0M548.1 186.7h0M556.9 170.2h0M512.9 181.2h0M566.3 205.2h0M543.9 203.6h0M567.4 153.4h0M533.4 161.2h0M516.0 184.3h0M537.8 232.1h0M536.8 182.8h0M523.4 216.5h0M556.4 147.5h0M510.8 189.1h0M551.4 226.7h0M521.2 164.3h0M552.8 167.1h0M558.1 161.3h0M529.2 197.7h0M543.2 146.8h0M529.1 211.1h0M566.8 153.1h0M537.8 152.0h0M525.1 159.9h0M586.3 212.2h0M529.7 221.5h0M550.6 228.4h0M576.7 206.0h0M596.5 202.2h0M618.5 198.0h0M629.8 215.6h0M627.0 190.4h0M623.4 220.4h0M609.7 208.0h0M636.8 215.5h0M621.6 196.4h0M638.4 221.5h0M634.5 193.6h0M606.7 208.5h0M630.7 208.4h0M619.5 202.7h0M616.9 196.8h0M622.5 210.1h0M619.8 212.6h0M619.3 202.5h0M621.9 191.5h0M617.2 214.2h0M623.0 197.1h0M627.4 198.4h0M620.4 206.9h0M631.9 214.2h0M636.0 221.0h0M624.8 219.5h0M621.6 205.0h0M610.1 212.6h0M634.7 192.9h0M622.8 213.3h0M623.3 220.1h0M637.9 191.1h0M638.3 187.4h0M630.3 191.9h0M634.5 213.5h0M622.9 191.3h0M603.0 205.4h0M635.3 210.5h0M638.9 223.4h0M619.2 193.2h0M623.1 202.0h0M626.3 188.5h0M623.0 190.4h0M628.4 203.7h0M608.5 195.9h0M636.1 214.3h0M623.8 207.8h0M619.0 213.6h0M626.6 192.6h0M625.9 195.1h0M623.6 189.9h0M611.5 200.4h0M625.4 200.3h0M619.9 190.8h0M637.6 190.8h0M625.2 195.8h0M620.4 214.6h0M632.7 206.8h0M609.2 210.0h0M624.6 198.7h0M620.3 201.7h0M611.0 211.6h0M621.1 203.6h0M636.1 204.0h0M622.1 217.5h0M645.5 174.0h0M642.0 171.7h0M646.1 170.5h0M644.7 177.9h0M516.2 87.8h0M561.9 69.6h0M530.2 113.3h0M529.5 118.2h0M541.1 21.8h0M561.2 37.5h0M553.6 64.2h0M545.2 38.5h0M515.3 102.6h0M525.2 56.5h0M556.5 28.4h0M545.3 70.4h0M545.3 70.2h0M538.3 87.2h0M541.5 28.2h0M534.5 83.0h0M532.9 52.1h0M535.5 116.2h0M546.6 84.7h0M539.6 64.3h0M538.2 102.1h0M533.3 56.5h0M519.6 66.7h0M518.4 88.5h0M550.3 41.1h0M545.3 33.7h0M546.2 103.6h0M529.7 90.9h0M515.9 85.1h0M549.4 44.7h0M547.3 72.2h0M547.6 58.1h0M537.2 103.8h0M529.9 66.8h0M547.4 32.9h0M653.5 117.3h0M649.8 133.2h0M674.8 118.0h0M672.3 116.4h0M663.0 125.5h0M648.2 113.6h0M642.4 123.7h0M641.8 138.2h0M658.7 109.4h0M664.4 117.9h0M678.9 120.0h0M651.4 107.3h0M645.4 136.5h0M635.5 114.8h0M371.3 208.3h0M430.9 129.6h0M438.3 121.3h0" stroke="#f03e22" stroke-width="4.4"/></g><rect x="493.5" y="372.6" width="108.3" height="116.3" fill="none" stroke="#555" stroke-width="1"/><line x1="493.0" x2="602.6" y1="488.9" y2="488.9" stroke="#444" stroke-width="1.6"/><line x1="601.8" x2="601.8" y1="372.6" y2="488.9" stroke="#444" stroke-width="1.6"/><text x="596.8" y="392.1" font-size="15" font-style="italic" text-anchor="end">Stmn2</text><g transform="matrix(0.28321 0 0 0.38531 514.403 371.097)" stroke-linecap="round"><use href="#allc" stroke="#bebebe" stroke-width="4.4"/><path d="M536.0 153.0h0M513.0 214.5h0M514.9 182.7h0M526.0 154.2h0M539.5 150.2h0M553.7 235.5h0M562.0 227.7h0M564.5 217.6h0M523.4 216.6h0M518.9 153.1h0M592.1 202.7h0M522.8 185.2h0M547.1 191.1h0M521.9 181.0h0M531.3 150.9h0M567.6 180.4h0M553.6 161.7h0M534.9 168.4h0M542.0 188.5h0M521.6 182.4h0M549.1 188.1h0M573.0 203.5h0M570.7 202.1h0M519.4 173.9h0M551.5 191.3h0M550.7 176.1h0M549.4 206.1h0M520.7 163.3h0M532.7 231.2h0M552.2 156.9h0M571.4 182.9h0M528.6 163.7h0M572.9 179.1h0M511.3 215.9h0M563.1 207.6h0M577.0 211.6h0M527.3 179.5h0M565.6 232.5h0M538.8 219.8h0M528.2 185.3h0M545.2 187.1h0M525.0 213.0h0M528.2 179.5h0M565.5 150.1h0M559.6 199.7h0M535.0 194.4h0M538.9 179.5h0M544.6 219.7h0M552.8 176.2h0M518.6 162.6h0M570.7 227.4h0M509.9 199.6h0M550.5 233.3h0M551.8 169.8h0M563.3 236.0h0M556.7 172.9h0M563.9 182.2h0M575.8 209.3h0M572.2 183.1h0M528.6 228.4h0M562.9 220.2h0M530.5 232.0h0M517.4 201.4h0M514.9 216.5h0M554.0 213.1h0M518.8 184.0h0M568.9 222.0h0M529.4 170.5h0M516.7 176.3h0M562.7 184.1h0M581.8 205.7h0M575.7 209.0h0M566.4 230.6h0M544.4 207.5h0M526.9 217.8h0M528.2 215.3h0M550.6 143.8h0M537.3 223.8h0M536.6 169.6h0M566.9 159.2h0M564.8 174.7h0M543.7 148.2h0M569.8 223.2h0M522.3 223.8h0M541.3 216.3h0M560.1 227.3h0M560.5 205.5h0M530.0 212.8h0M558.2 227.3h0M575.5 180.4h0M570.1 157.4h0M520.0 182.5h0M579.3 185.6h0M530.3 158.1h0M531.6 158.5h0M578.3 196.1h0M518.4 209.2h0M552.4 190.8h0M557.9 190.1h0M545.7 235.7h0M518.3 197.2h0M513.3 176.6h0M521.3 171.6h0M551.1 233.9h0M541.2 170.1h0M565.8 157.6h0M557.7 178.9h0M518.4 153.6h0M546.9 176.4h0M539.0 156.6h0M551.7 160.6h0M560.6 159.2h0M541.7 146.6h0M523.2 222.8h0M517.3 194.0h0M518.8 209.4h0M565.4 173.0h0M568.5 162.7h0M517.5 216.8h0M588.5 206.9h0M512.6 207.5h0M513.0 173.6h0M543.6 158.1h0M555.4 213.7h0M517.8 166.8h0M564.5 163.0h0M557.0 200.6h0M546.3 234.6h0M536.0 183.9h0M564.0 167.8h0M517.8 156.0h0M546.0 224.0h0M549.1 153.8h0M541.5 173.2h0M555.6 178.4h0M587.8 196.1h0M538.8 215.1h0M542.5 158.0h0M536.2 212.6h0M512.9 179.3h0M548.1 139.4h0M560.1 171.0h0M536.0 228.0h0M589.8 200.5h0M521.5 224.0h0M555.1 192.7h0M544.2 234.9h0M560.6 230.3h0M540.6 162.0h0M553.2 185.5h0M522.8 219.9h0M541.0 220.9h0M549.4 217.5h0M543.3 202.6h0M541.3 195.6h0M592.1 208.9h0M566.0 211.7h0M542.7 142.0h0M514.6 219.4h0M512.6 206.8h0M554.1 178.7h0M533.5 159.0h0M556.5 153.3h0M540.8 201.8h0M559.8 234.3h0M529.3 211.9h0M523.4 216.5h0M556.4 147.5h0M555.7 216.5h0M510.8 189.1h0M516.3 202.4h0M561.5 206.9h0M536.6 235.2h0M573.1 201.4h0M580.1 217.9h0M559.1 181.4h0M541.9 216.1h0M594.9 207.5h0M636.7 221.8h0M626.2 189.3h0M619.5 217.6h0M622.5 190.6h0M623.9 210.4h0M616.7 207.2h0M622.5 210.1h0M625.3 194.2h0M624.6 199.5h0M636.4 197.6h0M629.9 203.5h0M615.4 195.2h0M607.0 200.2h0M627.4 198.4h0M621.0 198.3h0M617.7 205.6h0M616.9 190.1h0M635.3 191.5h0M614.8 208.2h0M613.9 200.3h0M629.9 208.7h0M618.7 193.1h0M628.4 203.7h0M631.4 205.1h0M612.8 204.4h0M619.0 213.6h0M631.5 191.7h0M627.6 190.4h0M624.9 200.5h0M632.1 208.6h0M634.7 203.0h0M624.6 198.7h0M606.4 210.9h0M618.8 210.7h0M645.5 174.0h0M553.6 87.2h0M541.1 102.6h0M557.6 33.8h0M526.7 22.5h0M550.8 45.6h0M544.1 43.9h0M511.3 97.7h0M537.6 78.1h0M558.2 72.4h0M525.3 111.0h0M526.2 23.6h0M560.6 52.5h0M529.5 91.9h0M535.8 35.0h0M560.1 64.8h0M550.1 72.7h0M517.5 100.3h0M556.5 55.1h0M536.5 119.9h0M555.2 37.9h0M545.8 106.2h0M562.2 37.0h0M511.3 92.1h0M515.5 101.4h0M539.1 51.9h0M558.5 65.8h0M521.8 94.2h0M517.4 64.7h0M547.4 57.6h0M512.9 100.5h0M548.3 82.3h0M549.5 84.3h0M550.6 32.0h0M532.3 110.6h0M551.0 42.1h0M554.7 42.0h0M546.2 68.4h0M512.1 91.2h0M551.7 90.0h0M544.3 88.9h0M536.3 55.3h0M527.2 20.8h0M546.6 68.5h0M536.0 80.9h0M555.9 35.4h0M549.6 40.6h0M528.9 101.3h0M529.9 98.8h0M533.5 96.7h0M511.0 92.1h0M645.6 118.1h0M656.3 131.9h0M659.7 114.8h0M645.3 134.8h0M662.7 125.3h0M665.6 118.2h0M672.3 116.4h0M648.2 113.6h0M641.1 123.9h0M671.8 128.2h0M642.1 107.1h0M642.4 123.7h0M643.5 106.9h0M641.5 140.1h0M640.5 111.6h0M661.5 127.0h0M678.9 120.0h0M660.8 130.3h0M655.0 106.3h0M651.4 107.3h0M676.5 125.1h0M659.6 129.0h0M495.1 285.4h0M494.1 281.4h0M396.1 222.4h0M384.8 198.7h0M390.6 218.1h0" stroke="#e0907e" stroke-width="4.4"/><path d="M554.4 174.4h0M557.9 177.5h0M574.2 195.1h0M555.5 226.0h0M539.9 194.4h0M585.9 215.7h0M561.1 152.8h0M554.1 215.6h0M536.5 160.2h0M530.4 207.0h0M525.0 158.4h0M530.4 179.7h0M517.1 193.8h0M529.4 165.6h0M556.6 213.7h0M555.9 181.9h0M544.5 228.8h0M557.4 207.8h0M530.7 233.8h0M515.7 177.8h0M571.5 218.9h0M566.5 167.0h0M548.3 149.8h0M520.1 172.3h0M539.2 180.6h0M529.5 164.5h0M540.3 233.2h0M573.2 202.2h0M525.9 228.2h0M557.3 226.4h0M543.8 190.2h0M563.9 168.3h0M537.2 179.9h0M520.6 177.2h0M543.5 218.9h0M590.9 199.5h0M572.7 222.4h0M529.4 162.4h0M521.2 226.1h0M549.1 219.6h0M518.2 156.9h0M530.4 215.5h0M542.2 192.8h0M539.4 157.6h0M563.4 228.6h0M586.3 199.8h0M543.0 222.3h0M552.2 143.4h0M551.6 175.6h0M526.0 164.2h0M562.5 177.3h0M552.3 227.2h0M517.1 173.6h0M559.0 158.3h0M529.0 152.9h0M583.4 215.9h0M542.7 164.3h0M543.1 161.7h0M513.0 215.6h0M527.5 148.5h0M517.2 158.5h0M539.8 170.0h0M554.5 159.6h0M523.9 187.3h0M538.0 220.9h0M568.5 187.6h0M540.8 226.0h0M528.2 183.9h0M524.9 201.5h0M523.8 203.2h0M511.2 192.1h0M579.8 190.0h0M541.9 214.0h0M531.7 177.8h0M538.5 201.6h0M578.9 219.3h0M555.4 150.5h0M544.8 156.5h0M545.1 201.5h0M528.2 151.9h0M548.4 152.4h0M553.5 214.7h0M551.6 165.1h0M561.4 200.4h0M579.2 216.3h0M563.8 159.1h0M570.3 162.1h0M562.5 179.6h0M536.7 198.3h0M545.1 226.5h0M511.6 221.0h0M555.9 217.4h0M539.4 194.2h0M559.7 172.4h0M557.1 164.1h0M559.8 177.6h0M559.2 213.5h0M547.1 171.8h0M565.8 159.0h0M569.6 157.6h0M535.7 208.8h0M541.0 212.8h0M568.5 157.4h0M543.1 151.6h0M575.3 171.7h0M563.5 164.5h0M532.9 162.2h0M515.5 192.4h0M580.7 198.8h0M525.3 208.8h0M573.8 185.3h0M558.3 146.8h0M524.2 156.2h0M534.5 206.8h0M551.1 193.1h0M569.9 173.2h0M560.1 233.6h0M549.9 217.0h0M556.6 149.4h0M538.5 210.0h0M525.9 232.7h0M585.9 196.5h0M557.1 169.0h0M539.2 187.8h0M510.5 205.7h0M562.4 156.1h0M521.9 157.7h0M580.2 215.3h0M558.3 146.0h0M546.0 157.0h0M532.5 203.9h0M566.7 182.6h0M556.9 177.5h0M543.3 145.3h0M522.5 212.2h0M566.9 220.2h0M555.5 218.0h0M566.4 163.4h0M517.5 217.7h0M514.5 170.8h0M547.7 236.2h0M566.1 165.2h0M562.8 201.2h0M572.0 188.7h0M534.0 168.7h0M570.9 192.9h0M549.1 203.3h0M532.4 171.0h0M535.3 225.5h0M523.4 206.3h0M551.3 149.2h0M584.5 210.8h0M525.1 149.6h0M572.3 175.7h0M553.5 199.0h0M566.6 170.1h0M521.2 163.0h0M568.2 182.8h0M573.2 194.2h0M569.5 186.1h0M556.9 170.2h0M567.4 153.4h0M558.4 169.7h0M559.7 191.9h0M536.8 182.8h0M519.3 195.6h0M550.9 191.4h0M529.2 197.7h0M529.1 211.1h0M537.8 152.0h0M525.2 200.3h0M599.6 203.3h0M625.6 212.5h0M621.6 196.4h0M617.3 188.3h0M619.9 213.1h0M610.1 197.7h0M623.1 215.8h0M620.2 202.0h0M620.7 195.1h0M630.2 203.9h0M636.6 214.8h0M611.1 202.7h0M622.9 191.3h0M635.1 217.3h0M638.5 202.1h0M627.3 210.2h0M636.7 221.9h0M639.0 224.5h0M638.9 223.4h0M623.1 202.0h0M608.5 195.9h0M624.9 195.3h0M622.6 189.2h0M628.2 212.2h0M633.6 193.5h0M625.0 201.2h0M645.0 170.3h0M545.8 100.7h0M544.2 56.0h0M538.6 46.9h0M519.8 107.4h0M520.2 93.3h0M519.2 62.4h0M538.2 28.6h0M513.8 110.1h0M522.5 55.0h0M543.7 65.9h0M554.5 79.3h0M543.7 89.2h0M553.2 100.2h0M553.6 99.1h0M536.0 43.2h0M543.5 48.1h0M513.3 94.8h0M530.3 28.4h0M554.1 43.3h0M528.2 98.2h0M526.6 82.6h0M537.0 86.3h0M553.1 36.0h0M532.8 79.4h0M559.9 58.7h0M543.3 49.8h0M517.8 95.9h0M529.9 112.4h0M523.2 101.5h0M514.4 105.3h0M534.9 102.3h0M544.0 75.4h0M526.0 117.5h0M537.8 50.5h0M530.8 51.8h0M533.2 33.1h0M536.0 92.8h0M522.4 98.3h0M545.4 87.1h0M529.3 20.4h0M545.8 85.9h0M521.5 62.4h0M533.5 86.8h0M513.2 83.7h0M536.4 43.0h0M531.2 69.0h0M522.6 75.2h0M532.4 20.5h0M533.9 111.9h0M652.3 135.6h0M663.6 137.4h0M671.5 132.7h0M655.1 109.5h0M649.8 133.2h0M650.4 105.3h0M667.1 131.3h0M660.7 108.3h0M658.1 131.1h0M664.7 110.9h0M648.9 128.2h0M664.4 107.7h0M641.0 116.8h0M641.8 134.7h0M658.8 134.2h0M658.7 109.4h0M661.9 109.1h0M672.5 127.2h0M662.6 114.2h0M643.2 139.2h0M652.1 114.8h0M643.5 123.3h0M645.4 136.5h0M496.4 293.8h0M493.2 288.7h0M497.0 293.8h0M495.9 292.2h0M387.9 201.5h0" stroke="#ea6a50" stroke-width="4.4"/><path d="M512.9 188.5h0M555.4 144.3h0M553.4 225.2h0M521.1 186.7h0M522.5 149.7h0M590.5 206.8h0M529.8 172.6h0M555.0 140.7h0M530.5 174.5h0M578.8 211.7h0M529.7 167.2h0M519.3 228.6h0M552.3 207.0h0M568.5 225.3h0M555.9 230.3h0M571.5 192.9h0M585.2 200.5h0M517.0 221.2h0M556.3 200.5h0M588.2 209.0h0M564.0 214.2h0M535.3 165.5h0M526.8 174.7h0M515.6 200.0h0M540.1 188.2h0M571.5 215.5h0M571.4 219.2h0M519.3 160.6h0M521.4 222.0h0M553.2 154.0h0M557.7 212.6h0M550.4 235.1h0M540.4 179.7h0M544.5 193.2h0M568.3 197.4h0M539.8 195.3h0M530.2 194.2h0M562.4 152.2h0M549.3 166.5h0M557.4 151.8h0M539.7 154.3h0M529.5 180.0h0M561.8 163.0h0M561.3 222.7h0M574.3 196.3h0M580.9 196.4h0M561.0 218.3h0M558.4 172.7h0M515.9 164.9h0M525.0 207.9h0M536.0 184.7h0M515.2 209.4h0M562.3 231.2h0M521.6 167.8h0M553.9 163.1h0M584.9 199.9h0M537.5 214.1h0M523.7 219.5h0M539.4 166.0h0M536.9 187.2h0M569.6 214.0h0M563.1 172.3h0M573.7 202.0h0M558.1 225.9h0M567.6 203.1h0M543.4 152.2h0M568.1 170.3h0M528.2 200.7h0M562.4 192.1h0M577.5 189.9h0M540.2 204.3h0M548.1 186.7h0M531.6 217.3h0M537.8 232.1h0M565.4 154.3h0M527.8 212.7h0M525.1 159.9h0M624.1 215.5h0M636.5 193.6h0M602.6 206.8h0M635.2 200.3h0M616.8 200.8h0M625.4 189.1h0M637.8 216.0h0M633.2 207.8h0M634.9 222.8h0M630.3 191.9h0M623.1 217.6h0M607.1 210.0h0M623.6 189.9h0M606.6 211.5h0M608.5 197.3h0M622.1 217.5h0M551.0 65.8h0M542.6 102.5h0M540.2 89.7h0M549.5 105.1h0M553.1 72.2h0M545.8 35.7h0M528.4 86.3h0M544.7 82.8h0M561.7 50.9h0M556.1 92.5h0M528.7 72.2h0M541.0 111.1h0M514.9 68.2h0M550.1 30.6h0M532.7 41.6h0M550.2 91.3h0M536.1 30.2h0M541.5 92.0h0M530.4 86.6h0M551.9 55.9h0M558.8 52.1h0M562.6 50.4h0M649.8 134.1h0M651.7 108.7h0M652.8 133.9h0M647.1 127.7h0M653.8 134.0h0M667.5 131.1h0M493.0 283.2h0M497.0 291.8h0M495.5 293.9h0M495.9 283.7h0M484.4 277.7h0M387.1 220.9h0" stroke="#f03e22" stroke-width="4.4"/></g><rect x="614.5" y="372.6" width="108.3" height="116.3" fill="none" stroke="#555" stroke-width="1"/><line x1="614.0" x2="723.6" y1="488.9" y2="488.9" stroke="#444" stroke-width="1.6"/><line x1="722.8" x2="722.8" y1="372.6" y2="488.9" stroke="#444" stroke-width="1.6"/><text x="717.8" y="392.1" font-size="15" font-style="italic" text-anchor="end">Tubb3</text><g transform="matrix(0.28321 0 0 0.38531 -90.497 499.747)" stroke-linecap="round"><use href="#allc" stroke="#bebebe" stroke-width="4.4"/><path d="M371.1 152.4h0M399.8 149.4h0M400.7 152.5h0M379.9 145.6h0M375.4 151.0h0M400.6 159.3h0M384.8 146.7h0M373.7 149.7h0M390.9 156.4h0M382.3 152.7h0M374.4 158.4h0M396.6 157.4h0M402.5 160.7h0M391.5 152.2h0M396.0 146.9h0M396.5 161.0h0M385.4 161.3h0M385.0 155.1h0M369.7 151.7h0M395.1 163.0h0M395.8 156.5h0M447.4 183.1h0M446.6 197.8h0M447.7 188.8h0M448.6 180.2h0M445.8 208.2h0M461.2 199.2h0M450.0 216.3h0M463.3 195.9h0M460.8 216.1h0M454.2 216.7h0M457.4 218.3h0M454.1 188.4h0M457.6 194.0h0M453.0 189.1h0M461.8 205.8h0M453.2 194.8h0M448.6 216.2h0M454.0 214.6h0M461.0 192.1h0M462.7 200.3h0M461.3 217.6h0M458.4 191.2h0M450.3 189.5h0M456.7 215.5h0M458.6 217.2h0M457.4 208.1h0M450.6 208.4h0M461.5 208.6h0M462.5 212.1h0M462.9 193.8h0M460.0 189.5h0M448.7 207.5h0M457.5 214.7h0M454.0 203.7h0M463.3 195.3h0M453.0 207.5h0M458.7 212.8h0M452.9 189.9h0M456.2 198.0h0M453.2 216.5h0M453.8 200.0h0M453.2 187.3h0M458.0 188.7h0M457.1 194.1h0M453.8 187.2h0M455.0 208.6h0M451.1 190.6h0M462.3 194.7h0M451.3 183.0h0M442.3 175.2h0M442.7 191.7h0M435.4 190.0h0M447.4 184.0h0M419.7 173.5h0M462.6 193.0h0M458.8 206.6h0M463.3 195.9h0M454.2 216.7h0M457.6 194.0h0M461.0 192.1h0M456.7 215.5h0M454.6 189.3h0M450.6 208.4h0M458.0 219.2h0M451.6 190.3h0M453.0 207.5h0M455.2 201.3h0M455.9 207.1h0M457.1 194.1h0M457.1 203.2h0M447.5 217.8h0M452.5 211.3h0M590.5 206.8h0M566.7 156.4h0M657.6 108.1h0M523.7 64.1h0M513.9 77.4h0" stroke="#e0907e" stroke-width="4.4"/><path d="M391.2 162.4h0M393.7 161.3h0M388.7 148.1h0M386.6 154.5h0M395.9 162.1h0M386.5 161.6h0M374.7 150.0h0M397.5 153.4h0M378.9 152.8h0M389.8 159.8h0M398.1 156.1h0M382.2 162.8h0M403.1 157.0h0M383.5 145.5h0M388.1 155.9h0M393.4 159.2h0M388.3 157.9h0M384.9 146.1h0M379.5 146.1h0M390.5 150.3h0M392.8 151.6h0M399.9 156.8h0M380.1 157.7h0M373.7 153.5h0M378.1 145.7h0M384.6 145.8h0M367.9 152.2h0M390.2 154.1h0M390.8 150.0h0M404.6 152.1h0M384.2 154.5h0M393.7 154.3h0M391.2 162.6h0M402.9 151.3h0M401.9 161.0h0M398.4 156.9h0M380.1 158.7h0M401.8 159.6h0M400.3 158.5h0M446.8 197.4h0M446.2 207.3h0M449.2 187.3h0M445.4 179.7h0M447.5 182.0h0M445.1 186.4h0M445.1 204.1h0M445.9 192.5h0M449.9 187.3h0M448.5 187.5h0M459.6 190.5h0M455.9 209.6h0M454.8 197.8h0M453.6 196.6h0M458.1 206.7h0M462.3 202.8h0M452.8 212.9h0M460.0 197.6h0M450.8 215.9h0M453.3 198.3h0M459.4 203.0h0M458.5 216.6h0M446.6 214.0h0M452.3 199.7h0M462.1 203.2h0M448.0 212.5h0M451.4 186.7h0M456.7 190.3h0M454.7 208.8h0M458.2 196.6h0M449.4 216.1h0M460.2 216.5h0M460.0 213.1h0M454.9 213.2h0M455.5 214.7h0M450.0 212.9h0M451.6 185.8h0M460.4 197.1h0M458.5 203.4h0M456.2 188.3h0M452.2 188.2h0M457.4 218.7h0M452.6 208.5h0M457.8 190.7h0M449.7 215.0h0M454.3 196.8h0M454.3 203.1h0M451.8 185.5h0M455.5 189.0h0M451.4 219.1h0M458.0 219.2h0M456.2 218.3h0M458.3 215.0h0M448.5 217.2h0M453.7 191.1h0M460.9 207.6h0M449.4 213.3h0M462.2 196.2h0M456.2 209.3h0M462.8 199.9h0M455.9 207.1h0M461.9 194.6h0M452.4 218.9h0M447.4 210.8h0M455.9 206.0h0M452.3 212.7h0M449.1 212.3h0M435.4 177.3h0M449.2 187.3h0M443.7 197.5h0M443.4 174.1h0M447.7 188.8h0M438.5 195.8h0M435.6 188.3h0M445.4 208.1h0M435.8 192.2h0M433.6 187.2h0M447.9 188.9h0M442.1 178.2h0M439.7 202.4h0M426.8 173.6h0M423.9 173.3h0M422.1 172.5h0M420.2 174.3h0M457.2 198.1h0M460.0 197.6h0M455.6 204.3h0M446.6 214.0h0M452.3 199.7h0M458.5 217.6h0M462.8 196.0h0M452.1 208.2h0M456.3 211.9h0M460.4 197.1h0M458.6 217.2h0M462.3 200.4h0M454.3 203.1h0M454.6 190.5h0M454.7 219.9h0M456.2 218.3h0M448.5 217.2h0M452.4 192.7h0M452.9 189.9h0M453.7 191.1h0M460.9 207.6h0M462.2 196.2h0M453.9 192.1h0M462.0 194.6h0M452.3 212.7h0M462.3 194.7h0M449.1 212.3h0M549.6 154.8h0M539.2 187.8h0M541.9 155.1h0M583.8 201.7h0M551.8 174.5h0M654.0 134.2h0" stroke="#ea6a50" stroke-width="4.4"/><path d="M371.6 149.6h0M370.0 148.3h0M371.5 154.1h0M367.6 149.1h0M382.0 156.3h0M373.8 152.1h0M393.3 152.1h0M377.1 147.3h0M379.8 155.8h0M392.2 145.4h0M385.4 147.0h0M390.8 146.3h0M379.9 160.2h0M367.5 149.0h0M390.9 147.0h0M398.6 159.8h0M389.3 147.3h0M392.1 148.3h0M381.0 161.0h0M401.5 154.5h0M376.3 156.0h0M399.8 154.1h0M380.1 155.1h0M374.0 153.8h0M371.6 147.3h0M388.4 151.4h0M381.9 154.8h0M377.4 156.4h0M385.8 151.9h0M399.0 147.7h0M399.5 150.7h0M376.5 151.1h0M446.8 179.4h0M445.5 178.0h0M445.4 208.1h0M449.9 184.2h0M447.4 184.0h0M462.6 193.0h0M458.8 206.6h0M452.2 219.6h0M455.0 209.4h0M452.4 200.1h0M456.0 214.4h0M451.4 187.7h0M455.6 204.3h0M451.6 213.1h0M452.4 184.7h0M462.6 192.1h0M458.5 217.6h0M454.5 210.6h0M453.1 218.7h0M449.6 219.2h0M452.0 191.5h0M454.8 217.8h0M458.1 199.3h0M452.1 208.2h0M456.3 211.9h0M457.7 215.2h0M454.6 189.3h0M450.4 216.4h0M457.0 205.4h0M462.3 200.4h0M451.0 217.6h0M453.6 214.7h0M453.7 218.5h0M446.8 210.6h0M454.6 190.5h0M454.7 219.9h0M447.9 212.4h0M462.7 198.9h0M452.4 192.7h0M458.0 199.3h0M454.5 200.6h0M459.3 201.1h0M462.6 201.8h0M461.2 193.0h0M457.7 219.3h0M461.0 192.0h0M456.7 215.8h0M462.0 194.6h0M457.1 203.2h0M447.5 217.8h0M461.8 209.5h0M433.4 190.8h0M445.1 186.4h0M444.9 206.2h0M439.0 183.8h0M438.0 174.6h0M436.7 190.5h0M448.5 187.5h0M422.8 170.8h0M453.6 196.6h0M452.2 219.6h0M454.0 187.6h0M453.4 185.5h0M462.6 192.1h0M461.8 205.8h0M458.2 196.6h0M453.1 218.7h0M453.5 208.7h0M454.9 213.2h0M450.0 212.9h0M456.2 188.3h0M453.6 214.7h0M454.3 196.8h0M453.7 218.5h0M455.5 189.0h0M454.5 206.7h0M455.3 212.7h0M456.2 209.3h0M461.0 192.0h0M559.2 231.4h0M585.9 196.5h0M593.9 108.3h0M661.1 132.5h0" stroke="#f03e22" stroke-width="4.4"/></g><rect x="9.6" y="501.2" width="108.3" height="116.3" fill="none" stroke="#555" stroke-width="1"/><line x1="9.1" x2="118.7" y1="617.5" y2="617.5" stroke="#444" stroke-width="1.6"/><line x1="117.9" x2="117.9" y1="501.2" y2="617.5" stroke="#444" stroke-width="1.6"/><text x="112.9" y="520.8" font-size="15" font-style="italic" text-anchor="end">Aqp4</text><g transform="matrix(0.28321 0 0 0.38531 30.483 499.747)" stroke-linecap="round"><use href="#allc" stroke="#bebebe" stroke-width="4.4"/><path d="M444.5 193.5h0M435.2 191.9h0M441.3 188.7h0M447.6 195.3h0M451.4 186.7h0M454.8 190.2h0M462.3 202.8h0M457.2 198.1h0M461.3 201.3h0M454.0 187.6h0M453.4 185.5h0M448.0 212.5h0M458.5 217.6h0M454.7 208.8h0M459.8 199.6h0M458.2 196.6h0M448.6 216.2h0M453.1 218.7h0M449.6 219.2h0M462.8 196.0h0M454.2 213.7h0M460.2 216.5h0M460.0 213.1h0M453.2 193.0h0M460.4 197.1h0M452.2 188.2h0M454.6 189.3h0M452.6 208.5h0M457.8 190.7h0M454.3 196.8h0M460.0 189.5h0M455.5 189.0h0M454.7 219.9h0M456.5 215.9h0M452.9 189.9h0M449.4 213.3h0M462.6 201.8h0M461.2 193.0h0M462.8 199.9h0M458.0 188.7h0M461.8 209.5h0M374.7 150.0h0M390.1 163.2h0M398.1 156.1h0M373.6 149.5h0M389.3 147.3h0M392.8 151.6h0M381.0 161.0h0M395.1 163.0h0M398.4 156.9h0M399.5 150.7h0M395.8 156.5h0M562.8 174.3h0M551.4 225.0h0M522.1 191.3h0M540.9 17.7h0M512.9 100.5h0M541.8 100.0h0M626.5 110.0h0" stroke="#e0907e" stroke-width="4.4"/><path d="M433.4 190.8h0M444.7 209.3h0M446.8 197.4h0M437.4 198.7h0M437.0 192.2h0M447.7 188.8h0M438.5 195.8h0M444.9 206.2h0M442.5 205.6h0M439.7 202.4h0M441.3 187.5h0M448.5 187.5h0M439.5 200.4h0M462.3 192.0h0M455.9 209.6h0M454.8 197.8h0M453.6 196.6h0M452.2 219.6h0M450.0 216.3h0M463.3 195.9h0M450.8 215.9h0M460.8 216.1h0M453.3 198.3h0M454.2 216.7h0M451.4 187.7h0M459.4 203.0h0M458.5 216.6h0M454.1 188.4h0M457.6 194.0h0M453.0 189.1h0M451.4 186.7h0M456.7 190.3h0M461.0 192.1h0M449.4 216.1h0M450.3 189.5h0M456.3 211.9h0M451.6 185.8h0M456.1 205.8h0M451.7 191.5h0M457.4 218.7h0M445.8 212.2h0M457.4 208.1h0M462.9 193.8h0M451.0 217.6h0M451.8 213.7h0M453.6 214.7h0M453.7 218.5h0M446.8 210.6h0M448.7 207.5h0M456.5 190.4h0M454.6 190.5h0M456.2 218.3h0M458.3 215.0h0M448.5 217.2h0M452.4 192.7h0M458.0 199.3h0M455.2 201.3h0M453.7 191.1h0M453.8 200.0h0M459.3 201.1h0M462.2 196.2h0M453.9 192.1h0M455.9 204.7h0M457.7 219.3h0M457.1 194.1h0M447.4 210.8h0M453.8 187.2h0M457.1 203.2h0M447.5 217.8h0M455.9 206.0h0M452.5 211.3h0M389.5 148.9h0M388.3 157.9h0M402.3 151.7h0M396.6 157.4h0M391.5 152.2h0M374.0 153.8h0M557.4 38.1h0M632.2 122.1h0" stroke="#ea6a50" stroke-width="4.4"/><path d="M434.7 198.4h0M435.2 187.1h0M449.2 187.3h0M443.1 191.6h0M446.2 195.8h0M437.1 186.0h0M445.0 210.8h0M445.8 207.0h0M446.6 197.8h0M436.5 201.5h0M445.3 201.2h0M435.6 188.3h0M445.1 186.4h0M433.4 186.0h0M437.3 194.0h0M435.2 195.3h0M445.9 192.5h0M435.8 192.2h0M442.7 191.7h0M447.9 188.9h0M445.8 208.2h0M462.6 193.0h0M458.1 206.7h0M460.0 197.6h0M455.0 209.4h0M452.4 200.1h0M456.0 214.4h0M455.6 204.3h0M451.6 213.1h0M452.3 199.7h0M462.1 203.2h0M453.2 194.8h0M454.5 210.6h0M454.0 214.6h0M461.7 218.7h0M453.5 208.7h0M454.9 213.2h0M452.1 208.2h0M455.5 214.7h0M457.7 215.2h0M456.2 188.3h0M462.3 200.4h0M462.5 212.1h0M449.7 215.0h0M454.3 203.1h0M451.8 185.5h0M458.0 219.2h0M451.6 190.3h0M457.5 214.7h0M447.9 212.4h0M456.0 198.2h0M458.7 212.8h0M461.9 193.6h0M454.5 200.6h0M454.5 206.7h0M460.9 207.6h0M455.3 212.7h0M453.2 187.3h0M456.2 209.3h0M451.0 218.5h0M456.7 215.8h0M462.0 194.6h0M452.4 218.9h0M451.1 190.6h0M391.8 146.3h0M377.6 144.4h0M381.3 144.3h0" stroke="#f03e22" stroke-width="4.4"/></g><rect x="130.6" y="501.2" width="108.3" height="116.3" fill="none" stroke="#555" stroke-width="1"/><line x1="130.1" x2="239.7" y1="617.5" y2="617.5" stroke="#444" stroke-width="1.6"/><line x1="238.9" x2="238.9" y1="501.2" y2="617.5" stroke="#444" stroke-width="1.6"/><text x="233.9" y="520.8" font-size="15" font-style="italic" text-anchor="end">Gja1</text><g transform="matrix(0.28321 0 0 0.38531 151.463 499.747)" stroke-linecap="round"><use href="#allc" stroke="#bebebe" stroke-width="4.4"/><path d="M371.1 152.4h0M371.6 149.6h0M391.2 162.4h0M388.7 148.1h0M367.6 149.1h0M398.5 150.5h0M390.1 163.2h0M397.5 153.4h0M379.8 155.8h0M374.1 147.7h0M384.8 146.7h0M373.7 149.7h0M388.9 153.9h0M390.9 156.4h0M403.1 157.0h0M390.9 147.0h0M388.3 157.9h0M376.0 147.0h0M399.9 156.8h0M380.1 157.7h0M394.2 158.5h0M367.9 152.2h0M372.5 153.6h0M390.2 154.1h0M401.5 154.5h0M380.1 155.1h0M374.0 153.8h0M391.4 154.7h0M391.2 162.6h0M369.7 151.7h0M403.2 150.3h0M587.4 111.8h0M611.8 91.6h0M598.1 101.4h0M599.7 98.7h0M600.0 102.4h0M605.2 98.9h0M603.8 88.2h0M607.4 102.5h0M607.0 89.6h0M607.1 102.6h0M585.2 102.0h0M584.6 109.2h0M609.9 93.9h0M586.7 103.7h0M591.9 95.8h0M592.0 102.3h0M598.8 111.4h0M602.6 112.8h0M609.4 108.7h0M607.9 114.2h0M609.0 112.7h0M555.4 144.3h0M513.0 214.5h0M555.5 226.0h0M527.6 189.6h0M514.2 204.7h0M534.7 173.5h0M520.0 190.2h0M533.7 211.6h0M542.6 182.4h0M563.9 168.3h0M537.2 179.9h0M579.2 181.1h0M526.8 174.7h0M509.9 199.6h0M551.6 175.6h0M521.9 231.3h0M526.3 200.0h0M521.3 153.5h0M527.4 211.9h0M519.1 215.4h0M525.0 207.0h0M548.5 194.0h0M568.3 197.4h0M534.1 180.0h0M515.5 218.3h0M541.2 170.1h0M542.9 144.5h0M565.4 173.0h0M533.9 226.1h0M536.2 156.4h0M540.2 195.8h0M545.0 224.5h0M524.2 191.5h0M548.1 139.4h0M530.6 181.2h0M559.7 183.1h0M535.3 225.5h0M543.3 193.4h0M540.6 162.0h0M568.1 170.3h0M553.3 190.5h0M549.0 226.7h0M518.1 160.0h0M547.3 231.1h0M541.8 141.3h0M529.2 197.7h0M543.2 146.8h0M543.0 109.7h0M541.1 102.6h0M544.1 43.9h0M522.7 84.4h0M546.8 105.1h0M515.3 102.6h0M529.7 72.7h0M520.8 85.7h0M518.6 72.2h0M548.9 92.6h0M526.0 117.5h0M550.2 91.3h0M542.5 69.9h0M523.0 74.8h0M522.6 75.2h0M456.2 127.5h0M428.1 95.0h0M423.5 96.5h0M471.4 119.6h0M446.7 128.4h0M439.7 110.5h0M439.7 92.3h0M482.5 126.3h0M465.5 123.6h0M450.8 84.5h0M448.2 99.6h0M460.1 142.8h0M429.3 85.6h0M461.4 112.2h0M436.7 118.2h0M460.8 130.4h0M470.9 127.8h0M432.4 93.9h0M460.6 122.4h0M465.4 102.5h0M420.6 84.3h0M471.7 103.6h0M441.0 106.2h0M462.5 109.0h0M428.7 106.9h0M452.0 135.1h0M466.5 126.4h0M464.8 115.6h0M436.9 186.4h0M444.9 197.3h0M446.8 197.4h0M435.2 187.1h0M437.4 198.7h0M445.3 201.2h0M438.5 195.8h0M444.9 206.2h0M445.9 192.5h0M435.8 192.2h0M442.5 205.6h0M449.9 187.3h0M435.4 190.0h0M421.3 174.5h0M422.1 172.5h0M419.7 173.5h0M451.4 186.7h0M458.1 206.7h0M462.3 202.8h0M460.8 216.1h0M454.2 216.7h0M453.2 194.8h0M456.7 190.3h0M449.4 216.1h0M454.8 217.8h0M458.1 199.3h0M452.1 208.2h0M458.6 217.2h0M450.4 216.4h0M450.6 208.4h0M462.3 200.4h0M457.8 190.7h0M451.4 219.1h0M446.9 214.3h0M457.5 214.7h0M463.3 195.3h0M452.9 189.9h0M460.9 207.6h0M452.4 218.9h0M484.3 168.9h0M486.4 164.1h0M479.5 160.4h0M481.7 163.1h0M485.9 162.9h0M482.9 167.8h0M491.2 287.4h0M488.9 286.0h0M491.7 293.6h0M494.7 292.0h0M491.5 286.8h0M488.9 290.2h0M489.3 289.5h0M491.4 290.1h0M487.3 286.2h0M495.5 293.9h0M484.1 277.3h0M705.0 169.7h0M707.9 171.7h0M708.0 168.0h0M710.1 170.4h0M703.7 170.4h0M713.4 173.1h0M702.9 170.7h0M705.9 167.8h0" stroke="#e0907e" stroke-width="4.4"/><path d="M403.6 160.0h0M407.2 159.7h0M399.8 149.4h0M393.7 161.3h0M391.0 155.4h0M400.7 152.5h0M382.0 156.3h0M399.8 159.7h0M395.9 162.1h0M386.5 161.6h0M377.0 156.4h0M377.7 144.7h0M374.7 150.0h0M379.9 145.6h0M375.4 151.0h0M377.1 147.3h0M378.9 152.8h0M399.0 161.6h0M392.2 145.4h0M387.1 157.5h0M389.5 148.9h0M393.2 146.8h0M377.6 144.4h0M382.3 152.7h0M383.5 145.5h0M388.1 155.9h0M393.4 159.2h0M390.4 150.9h0M373.6 149.5h0M379.5 146.1h0M390.5 150.3h0M392.8 151.6h0M400.4 151.6h0M392.1 148.3h0M381.0 161.0h0M402.5 160.7h0M390.8 150.0h0M399.8 154.1h0M396.0 146.9h0M404.6 152.1h0M384.2 154.5h0M371.6 147.3h0M392.6 149.1h0M396.5 161.0h0M385.4 161.3h0M402.9 151.3h0M381.9 154.8h0M377.4 156.4h0M401.9 161.0h0M385.8 151.9h0M381.6 148.0h0M398.4 156.9h0M380.1 158.7h0M399.5 150.7h0M395.8 156.5h0M388.2 153.0h0M376.5 151.1h0M400.3 158.5h0M585.3 107.8h0M603.6 90.5h0M611.5 105.9h0M590.4 98.3h0M599.0 93.4h0M605.8 108.7h0M595.0 99.4h0M600.6 113.3h0M587.4 113.5h0M587.2 106.9h0M608.3 106.1h0M585.8 109.8h0M611.6 97.2h0M609.9 109.7h0M590.6 96.4h0M611.6 103.1h0M596.5 96.9h0M598.3 114.3h0M609.4 103.0h0M591.0 111.2h0M598.5 88.9h0M596.4 109.9h0M608.6 95.5h0M606.5 111.9h0M611.2 100.3h0M596.0 112.0h0M600.6 85.5h0M583.3 112.1h0M604.6 71.7h0M604.4 79.3h0M594.5 109.2h0M608.6 85.8h0M603.5 101.5h0M603.8 98.7h0M584.4 108.2h0M587.2 104.2h0M595.9 113.4h0M607.1 81.9h0M601.0 103.2h0M604.3 102.8h0M610.0 90.0h0M604.2 89.8h0M608.8 81.6h0M590.2 104.0h0M610.4 100.5h0M602.4 108.0h0M600.3 100.0h0M605.2 95.8h0M591.5 105.8h0M554.4 174.4h0M512.9 188.5h0M513.2 207.9h0M562.0 227.7h0M545.5 224.8h0M521.3 209.3h0M558.5 226.9h0M549.4 206.1h0M548.3 149.8h0M520.2 190.2h0M557.3 226.4h0M572.9 179.1h0M553.4 196.1h0M513.1 177.2h0M540.3 171.0h0M577.5 211.6h0M563.1 146.2h0M559.0 158.3h0M568.9 222.0h0M566.4 230.6h0M516.7 195.2h0M578.2 195.3h0M557.1 164.1h0M550.7 187.9h0M520.7 195.1h0M573.8 185.3h0M538.9 197.2h0M534.5 206.8h0M546.9 176.4h0M582.0 198.5h0M532.3 147.0h0M539.2 158.6h0M583.5 194.1h0M583.8 201.7h0M521.5 224.0h0M526.1 226.0h0M543.4 152.2h0M560.6 230.3h0M528.2 200.7h0M536.0 162.1h0M583.0 217.9h0M573.0 187.5h0M551.4 226.7h0M578.2 184.0h0M562.2 51.2h0M520.2 93.3h0M535.0 21.5h0M540.0 102.2h0M523.4 55.0h0M551.4 40.2h0M554.1 43.3h0M539.7 58.7h0M549.7 91.7h0M541.7 61.3h0M556.8 86.5h0M529.3 79.7h0M541.8 100.0h0M553.6 40.8h0M542.2 43.5h0M543.0 47.5h0M525.0 94.2h0M551.6 76.1h0M411.7 79.3h0M449.7 114.2h0M425.1 105.2h0M410.4 93.4h0M418.7 88.3h0M427.8 130.3h0M438.1 106.9h0M454.6 125.2h0M410.5 89.4h0M429.7 94.5h0M472.7 137.5h0M433.1 75.7h0M478.9 126.1h0M446.1 106.9h0M454.7 98.5h0M464.4 91.8h0M465.9 116.0h0M480.9 120.3h0M450.7 92.8h0M450.7 99.2h0M441.2 77.9h0M432.7 80.1h0M461.7 116.7h0M419.8 76.9h0M426.1 122.2h0M420.3 92.2h0M434.7 198.4h0M433.4 190.8h0M443.4 174.1h0M445.1 186.4h0M448.5 187.5h0M422.2 174.7h0M422.9 175.9h0M423.8 170.5h0M453.3 198.3h0M457.4 218.3h0M457.6 194.0h0M461.0 192.1h0M457.4 208.1h0M462.5 212.1h0M456.5 190.4h0M458.0 199.3h0M453.9 192.1h0M461.9 194.6h0M461.8 209.5h0M452.7 214.3h0M482.1 161.7h0M483.5 159.4h0M483.4 162.6h0M483.2 165.0h0M482.6 160.8h0M484.8 161.4h0M482.0 164.6h0M482.2 162.0h0M482.9 166.2h0M483.4 171.2h0M482.4 163.4h0M488.9 293.2h0M495.9 295.2h0M491.2 291.4h0M494.6 292.7h0M490.3 285.2h0M494.3 294.9h0M488.7 282.9h0M488.6 284.9h0M493.2 288.7h0M497.0 293.8h0M484.4 277.7h0M707.5 170.1h0M696.6 167.2h0M699.8 166.7h0M705.9 167.2h0M702.2 167.3h0M707.6 172.0h0M701.4 168.0h0M707.4 173.3h0M701.2 168.0h0M700.7 168.8h0M698.9 170.9h0M377.3 206.7h0M375.7 205.7h0" stroke="#ea6a50" stroke-width="4.4"/><path d="M389.7 158.6h0M386.5 163.8h0M370.0 148.3h0M371.5 154.1h0M396.8 162.1h0M377.4 160.3h0M386.6 154.5h0M373.8 152.1h0M393.3 152.1h0M391.8 146.3h0M400.7 157.0h0M395.2 157.4h0M389.8 159.8h0M385.4 147.0h0M398.1 156.1h0M382.2 162.8h0M382.1 152.7h0M368.8 149.7h0M390.8 146.3h0M379.9 160.2h0M367.5 149.0h0M385.0 159.4h0M398.6 159.8h0M384.9 146.1h0M389.3 147.3h0M381.5 159.7h0M402.3 151.7h0M373.7 153.5h0M384.6 145.8h0M381.3 144.3h0M391.5 152.2h0M376.3 156.0h0M393.7 154.3h0M388.4 151.4h0M385.0 155.1h0M370.4 151.3h0M395.2 145.9h0M383.3 147.5h0M399.0 147.7h0M374.1 153.7h0M401.8 159.6h0M610.9 87.0h0M609.4 83.2h0M585.3 101.6h0M592.7 109.1h0M604.3 83.6h0M600.7 102.4h0M602.1 86.3h0M608.0 86.9h0M608.6 108.7h0M610.8 109.7h0M599.9 107.1h0M607.8 86.0h0M606.8 104.4h0M588.2 107.2h0M586.2 109.1h0M595.0 111.0h0M607.2 93.6h0M610.5 83.3h0M594.5 104.4h0M605.5 99.7h0M597.0 103.5h0M591.7 108.8h0M604.7 75.1h0M609.7 89.4h0M608.4 112.7h0M603.2 112.5h0M605.7 92.8h0M605.6 85.1h0M603.8 85.6h0M610.1 105.2h0M592.3 113.0h0M610.3 104.6h0M603.4 111.0h0M592.2 93.6h0M568.2 222.2h0M538.1 170.5h0M535.5 180.9h0M539.8 162.5h0M587.6 202.2h0M579.9 211.9h0M583.5 215.1h0M589.8 200.5h0M546.5 225.5h0M599.6 203.3h0M555.2 34.5h0M519.1 96.3h0M523.6 65.7h0M552.8 54.0h0M514.4 105.3h0M529.3 95.3h0M416.1 129.8h0M422.1 100.8h0M417.7 93.0h0M468.1 142.5h0M414.6 95.8h0M465.6 113.0h0M457.9 96.7h0M462.1 113.5h0M444.5 193.5h0M437.3 194.0h0M422.8 170.8h0M458.5 217.6h0M454.7 208.8h0M454.0 203.7h0M453.7 191.1h0M452.3 212.7h0M482.7 162.3h0M482.7 162.3h0M484.5 166.1h0M481.5 162.1h0M496.4 293.8h0M494.7 291.6h0M497.3 294.2h0M485.5 282.4h0M496.8 293.0h0M490.3 290.3h0M486.7 291.2h0M491.0 295.3h0M493.1 288.9h0M489.0 289.1h0M492.2 288.3h0M491.6 284.0h0M494.8 284.8h0M497.9 288.7h0M487.7 290.8h0M495.1 285.4h0M495.9 292.2h0M488.4 289.2h0M487.3 287.5h0M488.6 281.4h0M480.1 270.8h0M713.0 173.4h0M708.5 173.0h0M700.9 165.8h0M710.7 170.8h0" stroke="#f03e22" stroke-width="4.4"/></g><rect x="251.6" y="501.2" width="108.3" height="116.3" fill="none" stroke="#555" stroke-width="1"/><line x1="251.1" x2="360.7" y1="617.5" y2="617.5" stroke="#444" stroke-width="1.6"/><line x1="359.9" x2="359.9" y1="501.2" y2="617.5" stroke="#444" stroke-width="1.6"/><text x="354.9" y="520.8" font-size="15" font-style="italic" text-anchor="end">Vim</text><g transform="matrix(0.28321 0 0 0.38531 272.443 499.747)" stroke-linecap="round"><use href="#allc" stroke="#bebebe" stroke-width="4.4"/><path d="M632.4 211.7h0M623.3 206.0h0M633.1 190.4h0M622.8 196.8h0M616.4 194.2h0M630.4 205.5h0M627.4 198.4h0M623.7 204.4h0M636.1 187.9h0M629.0 196.9h0M614.8 208.2h0M638.5 202.1h0M631.0 207.7h0M607.7 210.9h0M623.9 211.6h0M624.9 195.3h0M607.1 210.0h0M623.8 207.8h0M604.0 201.3h0M624.9 200.5h0M619.9 190.8h0M630.4 191.2h0M620.3 207.1h0M604.6 204.6h0M634.7 203.0h0M609.2 210.0h0M613.8 199.2h0M610.1 200.8h0M645.0 170.3h0M642.0 171.7h0M644.7 178.5h0M609.7 208.0h0M628.0 201.1h0M622.5 210.1h0M625.4 189.1h0M630.2 203.9h0M609.5 200.4h0M620.3 201.7h0M643.5 171.4h0M541.8 224.8h0M516.7 174.2h0M570.8 193.4h0M553.6 161.7h0M556.3 200.5h0M516.7 221.1h0M572.7 227.5h0M542.2 236.8h0M549.1 219.6h0M518.8 184.0h0M571.5 181.3h0M568.0 187.8h0M548.4 152.4h0M535.5 180.9h0M562.8 174.3h0M591.1 211.6h0M569.2 164.0h0M555.5 218.0h0M566.4 163.4h0M580.6 195.9h0M524.2 191.5h0M540.0 171.9h0M546.3 174.6h0M565.4 154.3h0M589.2 108.0h0M593.2 111.0h0" stroke="#e0907e" stroke-width="4.4"/><path d="M618.5 198.0h0M615.6 210.9h0M614.5 211.8h0M609.5 206.2h0M602.6 206.8h0M618.7 207.7h0M630.7 208.4h0M625.7 200.4h0M627.6 199.1h0M621.9 191.5h0M636.4 197.6h0M626.1 211.0h0M625.4 189.1h0M618.6 202.8h0M633.2 207.8h0M621.6 205.0h0M620.2 202.0h0M620.7 195.1h0M627.8 206.3h0M614.5 206.9h0M632.5 188.9h0M632.6 198.0h0M629.9 208.7h0M617.8 201.0h0M616.9 196.1h0M622.4 202.3h0M622.6 189.2h0M623.6 189.9h0M625.4 200.3h0M625.2 195.8h0M620.3 201.7h0M606.6 211.5h0M619.5 217.6h0M633.1 190.4h0M619.3 202.5h0M622.2 214.8h0M637.8 216.0h0M609.2 200.9h0M622.8 213.3h0M626.3 188.5h0M619.0 213.6h0M627.6 190.4h0M637.9 216.9h0M562.3 232.4h0M558.5 228.1h0M556.6 213.7h0M531.3 150.9h0M565.8 230.1h0M540.2 229.6h0M543.0 222.3h0M551.6 175.6h0M511.7 190.9h0M538.0 220.9h0M523.8 203.2h0M526.9 217.8h0M540.6 206.2h0M549.2 196.7h0M531.6 158.5h0M561.0 208.5h0M521.5 166.9h0M562.3 231.2h0M521.4 152.2h0M521.5 224.0h0M545.2 148.4h0M563.1 223.5h0M569.7 167.4h0M533.1 172.7h0M525.0 178.2h0M550.8 45.4h0M631.9 120.7h0M604.6 71.7h0" stroke="#ea6a50" stroke-width="4.4"/><path d="M626.2 189.3h0M628.6 195.5h0M606.3 199.0h0M626.4 190.3h0M623.9 210.4h0M635.2 200.3h0M614.8 204.3h0M613.8 206.4h0M604.8 209.5h0M615.8 211.1h0M616.9 196.8h0M624.6 199.5h0M616.8 200.8h0M610.1 197.7h0M630.5 205.8h0M617.7 205.6h0M629.1 189.4h0M635.3 189.6h0M630.2 203.9h0M622.9 191.3h0M633.6 209.6h0M635.9 210.8h0M631.6 196.9h0M631.4 205.1h0M608.5 195.9h0M621.8 192.8h0M605.1 211.2h0M626.8 191.0h0M623.5 206.7h0M613.3 211.8h0M632.7 206.8h0M628.7 203.6h0M624.6 198.7h0M633.4 199.6h0M636.1 204.0h0M608.5 197.3h0M629.1 190.5h0M617.1 194.7h0M643.1 170.8h0M644.7 177.9h0M644.8 173.9h0M614.8 204.3h0M616.7 207.2h0M631.1 192.0h0M617.2 214.2h0M607.0 200.2h0M626.9 193.4h0M636.1 187.9h0M624.4 217.2h0M635.9 210.8h0M636.1 214.3h0M611.5 200.4h0M620.4 214.6h0M613.8 199.2h0M606.4 210.9h0M634.8 192.8h0M644.7 177.9h0M643.8 179.6h0M639.6 185.2h0M529.8 172.6h0M520.6 220.3h0M542.0 188.5h0M586.3 199.8h0M539.6 185.3h0M562.9 216.1h0M564.8 174.7h0M562.4 208.6h0M528.7 171.4h0M534.8 151.6h0M522.6 204.4h0M566.8 177.1h0M553.7 233.3h0M559.7 183.1h0M570.0 225.8h0M528.1 60.3h0M624.3 96.4h0" stroke="#f03e22" stroke-width="4.4"/></g><rect x="372.5" y="501.2" width="108.3" height="116.3" fill="none" stroke="#555" stroke-width="1"/><line x1="372.0" x2="481.6" y1="617.5" y2="617.5" stroke="#444" stroke-width="1.6"/><line x1="480.8" x2="480.8" y1="501.2" y2="617.5" stroke="#444" stroke-width="1.6"/><text x="475.8" y="520.8" font-size="15" font-style="italic" text-anchor="end">Cbln1</text><g transform="matrix(0.28321 0 0 0.38531 393.423 499.747)" stroke-linecap="round"><use href="#allc" stroke="#bebebe" stroke-width="4.4"/><path d="M656.3 131.9h0M656.4 127.0h0M649.0 131.9h0M664.8 122.9h0M672.4 132.6h0M649.5 137.6h0M646.2 116.9h0M670.9 131.1h0M675.4 120.0h0M650.7 133.5h0M652.8 133.9h0M674.8 118.0h0M641.1 123.9h0M654.0 134.2h0M642.4 123.7h0M641.0 116.8h0M675.0 119.9h0M673.6 125.5h0M662.5 137.8h0M652.1 114.8h0M678.9 120.0h0M657.6 108.1h0M678.8 121.9h0M595.5 95.5h0M645.6 118.1h0M592.7 109.1h0M652.3 135.6h0M632.1 122.4h0M663.6 137.4h0M671.5 132.7h0M635.8 138.9h0M655.1 109.5h0M613.0 116.2h0M641.1 138.3h0M593.9 108.3h0M631.9 120.7h0M656.6 112.9h0M624.3 99.9h0M678.8 122.5h0M675.7 124.1h0M646.2 127.9h0M654.3 128.0h0M618.2 92.6h0M666.9 114.3h0M614.0 86.9h0M639.6 117.5h0M656.9 114.0h0M592.0 94.3h0M653.9 109.0h0M656.6 107.3h0M665.7 122.0h0M644.7 114.4h0M599.5 101.3h0M616.4 112.4h0M586.2 109.1h0M661.4 107.4h0M619.3 116.5h0M653.0 131.3h0M621.9 98.0h0M607.2 93.6h0M674.8 118.0h0M625.0 104.1h0M616.9 111.8h0M666.8 113.6h0M679.1 122.0h0M657.8 132.7h0M597.0 103.5h0M635.5 114.8h0M617.9 91.4h0M591.7 108.8h0M618.3 110.5h0M663.4 134.0h0M652.5 108.3h0M654.0 134.2h0M641.8 138.2h0M626.7 113.0h0M624.8 117.1h0M659.9 138.4h0M624.2 99.2h0M647.5 119.2h0M667.5 131.1h0M613.6 93.3h0M626.8 124.1h0M642.0 123.3h0M610.0 90.0h0M624.3 96.4h0M638.4 118.2h0M660.8 130.3h0M670.3 126.4h0M639.5 115.4h0M614.7 109.8h0M622.4 104.7h0M634.2 136.6h0M607.0 94.8h0M605.2 95.8h0M630.0 115.3h0M531.4 162.7h0M569.7 167.4h0M529.1 211.1h0M457.7 127.6h0" stroke="#e0907e" stroke-width="4.4"/><path d="M663.6 137.4h0M649.8 133.2h0M656.6 112.9h0M656.9 114.0h0M644.1 127.3h0M651.7 108.7h0M670.8 116.4h0M653.0 131.3h0M674.1 118.0h0M664.8 114.2h0M666.8 113.6h0M649.9 106.5h0M655.6 107.5h0M644.1 131.9h0M658.8 134.2h0M672.5 127.2h0M659.9 138.4h0M640.5 111.6h0M642.0 123.3h0M676.5 125.1h0M659.6 129.0h0M673.1 127.1h0M655.3 111.3h0M661.4 137.7h0M585.3 107.8h0M653.5 117.3h0M603.6 90.5h0M638.5 122.3h0M637.4 136.8h0M600.7 102.4h0M619.3 106.1h0M649.8 134.1h0M650.8 113.2h0M594.8 99.1h0M594.7 112.0h0M664.8 122.9h0M629.3 108.5h0M619.1 116.6h0M624.9 111.6h0M667.1 131.3h0M660.7 108.3h0M672.4 132.6h0M612.6 86.1h0M610.4 94.9h0M590.6 96.4h0M589.2 108.0h0M628.5 125.1h0M637.4 136.1h0M642.3 130.2h0M650.3 114.7h0M636.5 112.4h0M614.3 105.8h0M650.7 133.5h0M603.8 88.2h0M665.6 118.2h0M674.9 127.1h0M608.9 97.5h0M664.0 135.9h0M620.9 122.2h0M638.9 118.3h0M615.9 99.3h0M636.2 110.8h0M644.1 131.9h0M621.1 96.5h0M607.0 89.6h0M593.2 111.0h0M658.8 134.2h0M607.8 81.8h0M654.7 117.1h0M603.2 112.5h0M634.5 110.2h0M679.1 126.8h0M609.2 119.0h0M670.7 118.9h0M584.6 109.2h0M628.5 131.0h0M595.9 113.4h0M604.3 102.8h0M611.3 121.5h0M661.9 111.1h0M618.1 120.1h0M651.8 105.9h0M655.0 106.3h0M603.8 85.6h0M677.2 121.3h0M639.6 130.2h0M545.5 156.9h0M532.5 203.9h0M449.5 99.5h0" stroke="#ea6a50" stroke-width="4.4"/><path d="M641.1 138.3h0M645.7 135.9h0M650.8 113.2h0M652.1 127.7h0M645.9 139.9h0M660.7 108.3h0M663.0 125.5h0M661.9 109.1h0M642.6 121.1h0M649.0 126.2h0M609.4 83.2h0M656.2 111.0h0M608.5 88.6h0M623.6 114.4h0M641.3 108.6h0M617.2 109.5h0M620.3 108.4h0M628.1 126.0h0M606.5 111.9h0M646.2 114.1h0M611.2 100.3h0M600.6 85.5h0M624.1 107.0h0M641.0 116.8h0M650.8 108.9h0M603.8 98.7h0M661.9 109.1h0M636.3 126.8h0M601.0 85.9h0M646.2 123.2h0M625.0 123.5h0M627.4 96.7h0M645.2 124.8h0M620.0 116.1h0M592.3 113.0h0M612.5 100.3h0M624.9 110.3h0M603.4 111.0h0M673.4 120.0h0M573.2 202.2h0M531.6 158.5h0M555.6 178.4h0" stroke="#f03e22" stroke-width="4.4"/></g><rect x="493.5" y="501.2" width="108.3" height="116.3" fill="none" stroke="#555" stroke-width="1"/><line x1="493.0" x2="602.6" y1="617.5" y2="617.5" stroke="#444" stroke-width="1.6"/><line x1="601.8" x2="601.8" y1="501.2" y2="617.5" stroke="#444" stroke-width="1.6"/><text x="596.8" y="520.8" font-size="15" font-style="italic" text-anchor="end">Tfap2b</text><g transform="matrix(0.28321 0 0 0.38531 514.403 499.747)" stroke-linecap="round"><use href="#allc" stroke="#bebebe" stroke-width="4.4"/><path d="M558.2 183.4h0M523.2 161.1h0M522.4 214.9h0M562.9 217.8h0M553.6 161.7h0M524.3 185.3h0M542.0 188.5h0M520.0 190.2h0M551.6 221.2h0M540.3 233.2h0M533.7 211.6h0M531.4 162.7h0M563.9 168.3h0M544.3 163.6h0M571.0 158.3h0M583.6 193.3h0M576.3 190.1h0M545.8 210.2h0M527.4 211.9h0M538.5 201.6h0M559.2 223.8h0M576.0 208.6h0M574.3 196.3h0M557.5 179.6h0M551.1 193.1h0M560.6 159.2h0M543.7 203.6h0M580.2 215.3h0M545.0 189.0h0M517.8 166.8h0M585.1 192.6h0M567.7 218.5h0M566.8 177.1h0M555.6 178.4h0M556.0 203.5h0M519.7 180.7h0M531.6 155.7h0M562.4 192.1h0M547.2 146.8h0M559.8 234.3h0M626.2 189.3h0M636.5 193.6h0M623.9 210.4h0M635.4 194.7h0M613.8 206.0h0M616.4 194.2h0M615.2 217.1h0M624.6 199.5h0M634.9 222.8h0M635.3 191.5h0M612.3 214.3h0M628.4 203.7h0M631.4 205.1h0M624.9 195.3h0M625.1 195.0h0M619.0 213.6h0M624.6 208.1h0M624.6 198.7h0M633.4 199.6h0M645.5 174.0h0M529.7 72.7h0M545.9 103.7h0" stroke="#e0907e" stroke-width="4.4"/><path d="M554.4 174.4h0M549.3 231.8h0M562.0 189.0h0M530.7 233.8h0M552.2 156.9h0M551.0 159.9h0M572.9 179.1h0M552.2 143.4h0M562.5 177.3h0M552.3 227.2h0M557.7 212.6h0M541.3 216.3h0M546.8 153.9h0M530.3 158.1h0M561.0 208.5h0M557.3 202.8h0M513.3 176.6h0M580.9 196.4h0M522.6 164.6h0M517.3 186.7h0M587.6 202.2h0M546.0 157.0h0M517.7 189.1h0M524.0 193.2h0M568.1 170.3h0M540.0 171.9h0M514.6 219.4h0M531.7 164.1h0M527.8 212.7h0M529.2 197.7h0M581.2 216.3h0M615.6 210.9h0M630.5 216.4h0M615.8 203.8h0M630.7 208.4h0M619.5 202.7h0M622.9 210.4h0M633.1 190.4h0M621.9 191.5h0M636.4 197.6h0M631.5 188.2h0M621.6 205.0h0M638.3 187.4h0M612.8 204.4h0M623.8 207.8h0M622.6 189.2h0M633.9 189.4h0M611.5 200.4h0M634.7 203.0h0M621.1 203.6h0M528.9 104.6h0" stroke="#ea6a50" stroke-width="4.4"/><path d="M553.7 235.5h0M562.5 179.6h0M542.8 189.5h0M518.4 209.2h0M570.6 167.2h0M567.3 176.8h0M576.1 180.4h0M553.9 163.1h0M526.4 167.9h0M525.5 150.7h0M618.7 193.1h0M622.1 217.5h0M527.2 59.2h0M557.8 79.3h0" stroke="#f03e22" stroke-width="4.4"/></g><rect x="614.5" y="501.2" width="108.3" height="116.3" fill="none" stroke="#555" stroke-width="1"/><line x1="614.0" x2="723.6" y1="617.5" y2="617.5" stroke="#444" stroke-width="1.6"/><line x1="722.8" x2="722.8" y1="501.2" y2="617.5" stroke="#444" stroke-width="1.6"/><text x="717.8" y="520.8" font-size="15" font-style="italic" text-anchor="end">Slc17a6</text><g transform="matrix(0.28321 0 0 0.38531 -90.497 628.397)" stroke-linecap="round"><use href="#allc" stroke="#bebebe" stroke-width="4.4"/><path d="M376.2 201.7h0M379.4 223.6h0M369.7 212.1h0M388.7 230.9h0M388.3 204.2h0M373.1 212.5h0M388.5 212.3h0M373.0 213.0h0M375.9 204.4h0M394.0 213.9h0M371.1 213.8h0M378.9 221.6h0M382.5 226.4h0M386.4 226.8h0M382.1 214.2h0M385.4 214.4h0M372.6 219.2h0M370.6 212.5h0M368.8 215.7h0M381.6 226.6h0M377.3 206.7h0M391.6 211.4h0M389.2 211.9h0M380.7 218.9h0M386.3 211.8h0M383.4 221.8h0M384.8 198.7h0M391.2 220.4h0M385.6 223.1h0M381.8 203.9h0M383.9 219.6h0M387.2 231.5h0M378.0 223.9h0M383.8 212.5h0M381.3 202.8h0M389.6 207.8h0M387.1 228.6h0M385.1 222.6h0M386.9 199.5h0M390.6 218.1h0M368.5 217.5h0M377.0 205.5h0M384.5 222.2h0" stroke="#e0907e" stroke-width="4.4"/><path d="M384.2 219.5h0M377.8 212.1h0M377.4 224.6h0M382.0 215.7h0M387.3 217.8h0M376.2 217.3h0M380.1 203.2h0M382.9 215.6h0M394.6 225.7h0M376.9 206.2h0M385.7 213.1h0M388.6 204.0h0M377.3 202.0h0M387.8 205.4h0M375.4 217.4h0M385.5 216.1h0M388.2 218.2h0M371.5 206.5h0M394.3 211.1h0M381.6 209.5h0M391.7 228.0h0M389.2 216.8h0M392.2 222.2h0M378.0 201.0h0M371.8 221.1h0M388.6 225.3h0M392.5 206.7h0M369.9 207.6h0M376.5 214.3h0M370.1 211.8h0M383.4 211.0h0M389.3 202.4h0M393.8 224.2h0M379.4 224.2h0M374.5 223.7h0M375.2 210.9h0M372.2 222.2h0M386.8 210.3h0M388.2 225.1h0M393.7 204.4h0M382.7 226.0h0M370.6 221.9h0M380.8 201.7h0M380.8 217.9h0M378.9 203.4h0M372.3 211.5h0M390.5 212.0h0M378.1 214.8h0M370.1 209.6h0M384.8 207.8h0M373.6 211.2h0" stroke="#ea6a50" stroke-width="4.4"/><path d="M395.1 213.8h0M390.3 205.1h0M383.4 205.1h0M372.9 219.8h0M382.9 218.4h0M385.8 229.2h0M368.5 214.2h0M381.9 218.1h0M388.2 223.4h0M379.5 209.6h0M383.6 205.7h0M389.3 214.4h0M371.0 214.0h0M376.3 214.2h0M392.2 213.5h0M373.9 202.5h0M380.0 212.5h0M393.1 216.4h0M379.9 230.1h0M396.1 222.4h0M382.5 207.4h0M387.1 220.9h0M371.3 208.3h0M376.9 217.7h0M372.8 209.6h0M383.1 220.0h0M382.4 209.0h0M392.9 215.9h0M381.1 221.1h0M394.4 213.9h0M384.1 230.3h0M385.6 205.9h0M382.4 223.6h0M390.5 220.7h0M388.8 221.0h0M371.4 208.6h0M377.7 200.9h0M379.6 229.7h0M376.6 214.9h0M391.7 214.5h0M382.8 211.0h0M391.2 206.0h0M390.8 226.4h0M376.1 206.4h0M383.2 219.0h0M381.6 221.5h0M375.8 199.9h0M381.4 201.5h0M387.9 201.5h0M393.3 209.9h0M369.7 211.9h0M386.3 209.5h0M385.3 201.1h0M396.9 220.3h0M379.0 216.3h0M380.9 223.3h0M375.7 220.9h0M397.2 219.2h0M384.2 225.8h0M377.7 217.4h0M519.1 89.2h0" stroke="#f03e22" stroke-width="4.4"/></g><rect x="9.6" y="629.9" width="108.3" height="116.3" fill="none" stroke="#555" stroke-width="1"/><line x1="9.1" x2="118.7" y1="746.2" y2="746.2" stroke="#444" stroke-width="1.6"/><line x1="117.9" x2="117.9" y1="629.9" y2="746.2" stroke="#444" stroke-width="1.6"/><text x="112.9" y="649.4" font-size="15" font-style="italic" text-anchor="end">Cx3cr1</text><g transform="matrix(0.28321 0 0 0.38531 30.483 628.397)" stroke-linecap="round"><use href="#allc" stroke="#bebebe" stroke-width="4.4"/><path d="M705.0 169.7h0M708.5 173.0h0M702.2 167.3h0M702.9 164.5h0M701.4 168.0h0M710.1 170.4h0M703.4 168.4h0M707.3 167.6h0M707.7 169.9h0M695.2 168.9h0M701.1 167.8h0M703.7 170.4h0M698.5 169.1h0M710.7 170.8h0M709.8 169.1h0M702.9 170.7h0M701.8 165.9h0M388.3 204.2h0M376.2 217.3h0" stroke="#e0907e" stroke-width="4.4"/><path d="M697.0 165.8h0M707.5 170.1h0M699.8 168.9h0M696.6 167.2h0M713.0 173.4h0M704.6 165.3h0M709.2 171.4h0M699.8 166.7h0M699.9 165.6h0M712.0 171.0h0M698.3 168.7h0M707.3 170.6h0M708.6 168.1h0M701.2 167.1h0M710.0 174.6h0M698.6 167.0h0M712.7 174.5h0M700.1 165.4h0M705.9 167.8h0M698.9 170.9h0M380.7 218.9h0M616.7 103.8h0M433.2 82.6h0M426.8 110.3h0" stroke="#ea6a50" stroke-width="4.4"/><path d="M700.9 165.8h0M705.9 167.2h0M703.5 165.0h0M707.6 172.0h0M707.5 167.6h0M704.0 171.7h0M707.9 171.7h0M704.7 171.4h0M707.4 173.3h0M702.2 169.1h0M714.9 173.9h0M701.2 168.0h0M703.7 170.5h0M700.7 168.8h0M715.2 172.7h0M713.4 173.1h0M711.6 172.7h0M704.9 170.7h0" stroke="#f03e22" stroke-width="4.4"/></g><rect x="130.6" y="629.9" width="108.3" height="116.3" fill="none" stroke="#555" stroke-width="1"/><line x1="130.1" x2="239.7" y1="746.2" y2="746.2" stroke="#444" stroke-width="1.6"/><line x1="238.9" x2="238.9" y1="629.9" y2="746.2" stroke="#444" stroke-width="1.6"/><text x="233.9" y="649.4" font-size="15" font-style="italic" text-anchor="end">Pecam1</text><g transform="matrix(0.28321 0 0 0.38531 151.463 628.397)" stroke-linecap="round"><use href="#allc" stroke="#bebebe" stroke-width="4.4"/><path d="M493.0 283.2h0M495.9 295.2h0M490.3 290.3h0M487.8 282.8h0M493.0 288.2h0M492.9 289.1h0M490.1 290.5h0M497.9 288.7h0M493.2 288.7h0M487.6 292.5h0M495.5 293.9h0M495.9 285.2h0M495.9 283.7h0M494.1 281.4h0M496.8 293.1h0M484.1 277.3h0M455.9 209.6h0M451.0 97.4h0M467.6 147.6h0" stroke="#e0907e" stroke-width="4.4"/><path d="M496.4 293.8h0M497.3 294.2h0M485.5 282.4h0M496.6 288.5h0M496.8 293.0h0M491.7 293.6h0M491.0 295.3h0M494.3 294.9h0M490.1 287.1h0M488.6 284.9h0M492.0 290.6h0M490.6 287.1h0M489.0 289.1h0M492.2 288.3h0M488.9 290.2h0M494.3 293.4h0M489.3 289.5h0M487.7 290.8h0M491.4 290.1h0M495.1 285.4h0M497.0 293.8h0M494.1 282.1h0M489.8 284.4h0M495.9 292.2h0M487.3 287.5h0M494.1 291.9h0M491.4 294.3h0M493.9 291.2h0M484.4 277.7h0M459.3 201.1h0M447.4 210.8h0M448.4 130.6h0M474.2 123.1h0" stroke="#ea6a50" stroke-width="4.4"/><path d="M488.9 293.2h0M494.7 291.6h0M491.2 287.4h0M491.2 291.4h0M488.9 286.0h0M497.0 291.8h0M494.6 292.7h0M490.3 285.2h0M486.7 291.2h0M488.7 282.9h0M493.1 288.9h0M494.7 292.0h0M491.0 285.1h0M491.1 285.2h0M491.6 284.0h0M494.8 284.8h0M486.7 286.0h0M488.0 290.4h0M488.6 287.7h0M487.3 286.2h0M491.8 288.4h0M488.4 289.2h0M490.8 289.2h0M488.6 281.4h0M495.3 290.7h0M480.1 270.8h0" stroke="#f03e22" stroke-width="4.4"/></g><rect x="251.6" y="629.9" width="108.3" height="116.3" fill="none" stroke="#555" stroke-width="1"/><line x1="251.1" x2="360.7" y1="746.2" y2="746.2" stroke="#444" stroke-width="1.6"/><line x1="359.9" x2="359.9" y1="629.9" y2="746.2" stroke="#444" stroke-width="1.6"/><text x="354.9" y="649.4" font-size="15" font-style="italic" text-anchor="end">Vtn</text><g transform="matrix(0.28321 0 0 0.38531 272.443 628.397)" stroke-linecap="round"><use href="#allc" stroke="#bebebe" stroke-width="4.4"/><path d="M610.9 87.0h0M615.0 96.4h0M623.4 116.2h0M636.7 137.3h0M635.8 138.9h0M634.2 108.6h0M593.9 108.3h0M625.2 100.5h0M587.4 113.5h0M608.5 88.6h0M629.9 122.8h0M624.9 111.6h0M611.8 91.6h0M607.8 86.0h0M589.2 108.0h0M592.0 94.3h0M644.1 127.3h0M613.3 105.6h0M605.9 117.8h0M586.2 109.1h0M595.0 111.0h0M619.3 116.5h0M619.7 97.2h0M621.9 98.0h0M597.5 92.7h0M625.4 101.7h0M593.8 110.6h0M608.9 97.5h0M611.2 100.3h0M638.9 118.3h0M591.7 108.8h0M607.4 102.5h0M616.7 110.2h0M642.1 107.1h0M644.1 131.9h0M641.0 116.8h0M609.7 89.4h0M624.2 99.2h0M601.0 85.9h0M612.6 110.0h0M595.9 113.4h0M605.6 85.1h0M624.3 96.4h0M640.0 137.8h0M627.4 96.7h0M590.2 104.0h0M603.4 111.0h0M624.4 94.9h0M616.4 104.1h0M626.5 110.0h0M586.9 100.5h0M609.4 83.2h0M633.5 115.0h0M656.3 131.9h0M638.5 122.3h0M665.5 116.3h0M587.2 106.9h0M585.8 109.8h0M596.5 96.9h0M606.5 111.9h0M613.7 102.1h0M610.5 83.3h0M635.5 114.8h0M622.3 119.2h0M604.6 71.7h0M615.3 113.2h0M601.0 85.9h0M674.9 124.2h0M601.0 103.2h0M619.8 96.8h0M660.8 130.3h0M620.0 116.1h0M624.4 94.9h0M433.4 186.0h0M444.3 181.8h0M453.6 196.6h0M457.0 205.4h0M452.6 208.5h0M462.9 193.8h0M453.2 187.3h0M461.2 193.0h0M459.1 190.6h0M452.7 214.3h0M549.3 231.8h0M591.0 202.2h0M583.4 215.9h0M559.1 56.7h0M543.6 39.4h0M518.2 81.8h0M393.3 152.1h0" stroke="#e0907e" stroke-width="4.4"/><path d="M585.3 107.8h0M637.4 136.8h0M611.5 105.9h0M603.7 73.6h0M620.8 115.1h0M594.8 99.1h0M612.6 120.3h0M614.0 86.9h0M639.6 117.5h0M610.4 94.9h0M609.9 109.7h0M635.9 110.1h0M643.9 134.0h0M625.2 104.9h0M588.2 107.2h0M609.4 103.0h0M631.9 135.9h0M644.7 114.4h0M636.5 112.4h0M605.8 92.1h0M591.0 111.2h0M613.2 122.5h0M614.4 118.0h0M621.6 106.5h0M620.6 114.1h0M610.5 83.3h0M638.4 108.3h0M641.1 123.9h0M583.3 112.1h0M622.3 119.2h0M604.6 71.7h0M637.5 124.1h0M633.6 123.7h0M641.8 138.2h0M582.3 107.8h0M587.2 104.2h0M607.1 102.6h0M607.1 81.9h0M631.9 121.8h0M625.0 123.5h0M606.4 116.7h0M618.1 120.1h0M609.4 108.7h0M618.7 113.7h0M602.4 108.0h0M605.2 95.8h0M609.0 112.7h0M630.1 123.0h0M650.4 105.3h0M604.0 80.3h0M599.9 107.1h0M616.0 99.2h0M633.0 125.8h0M605.9 117.8h0M635.4 132.7h0M653.6 139.6h0M618.3 110.5h0M641.8 138.2h0M647.5 119.2h0M606.4 116.7h0M618.7 113.7h0M602.4 108.0h0M654.9 111.7h0M609.0 112.7h0M433.4 190.8h0M436.5 201.5h0M450.8 215.9h0M461.3 201.3h0M461.8 205.8h0M453.8 200.0h0M568.2 197.2h0M547.0 168.1h0M538.5 205.3h0M549.9 217.0h0M531.4 226.9h0M514.8 77.8h0M540.9 17.7h0M537.4 29.3h0M545.8 26.5h0M391.0 155.4h0M388.7 148.1h0M399.2 161.4h0M391.4 154.7h0" stroke="#ea6a50" stroke-width="4.4"/><path d="M594.0 105.2h0M632.1 122.4h0M642.2 117.6h0M623.4 101.7h0M605.8 108.7h0M611.3 119.3h0M611.6 103.1h0M599.7 98.7h0M627.4 110.4h0M598.5 88.9h0M624.4 111.3h0M622.5 113.2h0M608.6 95.5h0M639.0 113.0h0M615.6 107.7h0M615.0 113.4h0M633.4 136.2h0M593.2 111.0h0M634.5 110.2h0M640.5 111.6h0M584.6 109.2h0M628.8 114.2h0M624.9 110.3h0M629.9 128.5h0M598.3 114.3h0M668.8 127.9h0M614.4 118.0h0M607.0 89.6h0M640.6 108.9h0M592.2 93.6h0M677.2 121.3h0M445.4 179.7h0M452.2 219.6h0M454.1 188.4h0M451.8 213.7h0M571.9 220.7h0M569.7 167.4h0" stroke="#f03e22" stroke-width="4.4"/></g><rect x="372.5" y="629.9" width="108.3" height="116.3" fill="none" stroke="#555" stroke-width="1"/><line x1="372.0" x2="481.6" y1="746.2" y2="746.2" stroke="#444" stroke-width="1.6"/><line x1="480.8" x2="480.8" y1="629.9" y2="746.2" stroke="#444" stroke-width="1.6"/><text x="475.8" y="649.4" font-size="15" font-style="italic" text-anchor="end">Angpt1</text><g transform="matrix(0.28321 0 0 0.38531 393.423 628.397)" stroke-linecap="round"><use href="#allc" stroke="#bebebe" stroke-width="4.4"/><path d="M647.9 122.5h0M663.6 137.4h0M645.3 134.8h0M665.5 116.3h0M657.6 128.9h0M653.7 133.5h0M671.4 129.3h0M665.2 112.6h0M653.0 131.3h0M674.1 118.0h0M648.9 128.2h0M646.2 123.2h0M661.9 111.1h0M660.8 130.3h0M655.0 106.3h0M645.2 124.8h0M434.8 117.0h0M440.8 135.8h0M543.3 49.8h0" stroke="#e0907e" stroke-width="4.4"/><path d="M645.6 118.1h0M652.3 135.6h0M666.9 114.3h0M653.9 109.0h0M647.3 138.9h0M652.8 133.9h0M674.8 118.0h0M649.9 106.5h0M664.0 135.9h0M653.8 134.0h0M658.7 109.4h0M678.9 126.7h0M673.6 125.5h0M665.0 126.2h0M671.5 117.7h0M657.6 108.1h0M666.3 114.8h0M661.4 137.7h0M677.2 121.3h0M522.1 81.8h0" stroke="#ea6a50" stroke-width="4.4"/><path d="M660.5 107.2h0M666.7 118.7h0M655.1 109.5h0M656.2 111.0h0M660.8 137.8h0M670.0 131.9h0M678.8 122.5h0M654.3 128.0h0M649.5 137.6h0M660.4 110.9h0M668.8 127.9h0M650.7 133.5h0M658.9 117.0h0M653.2 107.5h0M648.2 113.6h0M651.9 128.0h0M664.4 107.7h0M659.9 138.4h0M674.9 124.2h0M662.6 114.2h0M676.0 122.0h0M647.6 111.0h0M678.9 120.0h0M651.8 105.9h0M670.3 126.4h0M423.1 111.1h0M551.0 65.8h0M547.6 58.1h0" stroke="#f03e22" stroke-width="4.4"/></g><rect x="493.5" y="629.9" width="108.3" height="116.3" fill="none" stroke="#555" stroke-width="1"/><line x1="493.0" x2="602.6" y1="746.2" y2="746.2" stroke="#444" stroke-width="1.6"/><line x1="601.8" x2="601.8" y1="629.9" y2="746.2" stroke="#444" stroke-width="1.6"/><text x="596.8" y="649.4" font-size="15" font-style="italic" text-anchor="end">Gad1</text><g transform="matrix(0.28321 0 0 0.38531 514.403 628.397)" stroke-linecap="round"><use href="#allc" stroke="#bebebe" stroke-width="4.4"/><path d="M618.5 198.0h0M606.7 209.2h0M629.8 215.6h0M615.6 210.9h0M625.6 212.5h0M609.7 208.0h0M623.3 206.0h0M636.5 193.6h0M638.7 216.4h0M626.4 190.3h0M623.9 210.4h0M620.1 199.4h0M635.4 194.7h0M630.5 216.4h0M625.0 208.6h0M613.8 206.4h0M626.0 192.8h0M619.9 213.1h0M627.6 199.1h0M633.1 190.4h0M636.4 197.6h0M633.1 188.9h0M634.9 218.6h0M607.0 200.2h0M623.0 197.1h0M637.6 220.9h0M627.4 198.4h0M634.9 222.8h0M618.9 191.9h0M623.3 220.1h0M627.8 206.3h0M630.3 191.9h0M612.3 214.3h0M622.9 191.3h0M633.6 209.6h0M632.6 198.0h0M618.7 193.1h0M628.1 211.1h0M615.0 195.3h0M633.7 221.6h0M628.4 203.7h0M617.8 201.0h0M616.9 196.1h0M622.4 202.3h0M623.9 211.6h0M624.9 195.3h0M635.2 222.8h0M633.3 208.4h0M605.1 211.2h0M633.9 189.4h0M626.8 191.0h0M612.6 203.1h0M611.5 200.4h0M637.6 190.8h0M611.1 201.5h0M604.6 204.6h0M632.7 206.8h0M634.7 203.0h0M628.7 203.6h0M624.6 198.7h0M635.9 190.4h0M635.6 220.4h0M622.7 214.0h0M629.1 190.5h0M634.8 192.8h0M642.0 171.7h0M646.1 170.5h0M643.0 128.7h0M651.1 107.6h0M665.5 116.3h0M648.9 116.5h0M641.3 108.6h0M653.7 133.5h0M668.8 127.9h0M674.8 118.0h0M679.1 122.0h0M655.6 107.5h0M641.1 123.9h0M669.2 127.5h0M664.4 107.7h0M661.1 132.5h0M650.8 108.9h0M653.8 134.0h0M658.8 134.2h0M672.5 127.2h0M640.5 111.6h0M667.5 131.1h0M664.4 117.9h0M643.2 139.2h0M652.1 114.8h0M678.9 120.0h0M651.4 107.3h0M673.1 127.1h0M661.4 137.7h0M554.1 215.6h0M518.4 182.0h0M577.7 220.3h0M520.1 172.3h0M540.3 233.2h0M531.4 162.7h0M528.1 229.6h0M524.6 174.3h0M579.2 215.0h0M542.2 192.8h0M539.4 157.6h0M571.5 181.3h0M520.2 198.1h0M544.6 183.3h0M578.1 201.2h0M532.3 162.4h0M534.1 185.8h0M556.0 164.3h0M578.2 195.3h0M534.9 210.7h0M540.6 206.2h0M560.1 227.3h0M525.3 212.7h0M530.2 194.2h0M570.9 167.2h0M560.7 187.3h0M523.7 148.2h0M512.5 189.5h0M561.8 163.0h0M554.2 152.8h0M551.1 233.9h0M542.7 193.9h0M562.4 156.1h0M521.9 157.7h0M525.0 207.9h0M524.0 201.6h0M566.1 165.2h0M566.8 171.6h0M583.7 209.5h0M568.2 182.8h0M536.0 162.1h0M573.4 175.8h0M527.3 192.4h0M551.8 174.5h0M551.4 226.7h0M576.8 207.6h0M577.5 211.6h0M581.8 205.7h0M575.7 209.0h0M578.1 201.2h0M578.9 219.3h0M581.7 218.4h0M580.9 200.6h0M589.1 201.1h0M576.0 208.6h0M586.7 215.2h0M588.5 206.9h0M573.7 202.0h0M584.5 210.8h0M470.1 106.6h0M407.1 89.1h0M459.0 143.4h0M430.8 75.2h0M460.1 126.4h0M434.0 106.4h0M470.0 97.7h0M449.1 89.1h0M428.8 100.8h0M464.3 128.1h0M450.4 108.8h0M474.8 128.3h0M470.4 136.6h0M456.1 134.6h0M451.5 102.7h0M426.8 110.3h0M406.3 83.9h0M448.4 130.6h0M448.6 102.4h0M425.8 78.7h0M458.2 117.7h0M452.0 97.5h0M450.2 85.6h0M460.3 99.4h0M423.7 127.7h0M460.5 143.0h0M424.7 93.2h0M469.9 138.7h0M404.0 84.6h0M433.5 95.6h0M471.3 120.9h0M469.2 100.7h0M443.5 80.6h0M476.7 112.4h0M465.4 102.5h0M466.9 96.8h0M415.4 94.5h0M433.8 103.1h0M421.2 105.7h0M469.0 111.4h0M448.0 98.3h0M419.9 77.0h0M462.0 119.5h0M471.1 135.2h0M449.2 84.7h0M428.7 106.9h0M497.0 291.8h0M494.6 292.7h0M491.0 285.1h0M489.0 289.1h0M487.6 292.5h0M495.5 293.9h0M469.7 39.6h0M473.7 49.9h0M472.2 45.3h0M467.9 60.1h0M469.7 36.5h0M385.4 147.0h0M399.8 154.1h0M403.2 150.3h0" stroke="#e0907e" stroke-width="4.4"/><path d="M627.0 190.4h0M626.7 195.6h0M623.4 220.4h0M626.2 189.3h0M621.4 206.1h0M628.6 195.5h0M634.9 224.3h0M633.1 200.5h0M609.5 206.2h0M638.4 221.5h0M628.7 188.1h0M614.9 217.2h0M634.5 193.6h0M615.8 203.8h0M636.6 221.4h0M606.7 208.5h0M604.8 209.5h0M622.5 214.8h0M616.7 207.2h0M625.7 200.4h0M615.8 211.1h0M619.5 202.7h0M622.9 210.4h0M622.8 196.8h0M616.4 194.2h0M614.5 217.7h0M621.9 191.5h0M629.9 203.5h0M635.0 223.7h0M625.4 189.1h0M630.4 205.5h0M620.4 206.9h0M618.6 202.8h0M635.3 224.3h0M631.9 214.2h0M637.8 216.0h0M636.0 221.0h0M632.1 207.0h0M624.8 219.5h0M623.7 204.4h0M621.6 205.0h0M610.1 212.6h0M626.9 193.4h0M609.2 200.9h0M617.7 205.6h0M638.7 219.8h0M620.7 195.1h0M635.3 189.6h0M635.3 191.5h0M638.3 187.4h0M624.4 217.2h0M629.2 199.8h0M635.1 217.3h0M611.3 214.8h0M629.9 208.7h0M603.0 205.4h0M631.0 207.7h0M622.8 206.4h0M623.1 202.0h0M607.7 210.9h0M625.1 195.0h0M623.8 207.8h0M626.6 192.6h0M627.6 190.4h0M623.6 189.9h0M624.9 200.5h0M623.5 206.7h0M637.9 216.0h0M625.4 200.3h0M619.9 190.8h0M632.1 208.6h0M613.3 211.8h0M630.4 191.2h0M624.6 208.1h0M620.3 207.1h0M625.0 201.2h0M627.3 202.1h0M620.3 201.7h0M634.2 218.8h0M611.0 211.6h0M613.8 199.2h0M637.9 216.9h0M634.7 211.7h0M624.0 209.2h0M617.1 194.7h0M622.1 217.5h0M645.0 170.3h0M644.7 177.9h0M644.7 178.5h0M641.4 181.3h0M666.7 118.7h0M650.4 105.3h0M670.0 131.9h0M671.9 118.3h0M678.8 122.5h0M664.8 122.9h0M658.1 131.1h0M642.3 130.2h0M651.7 108.7h0M653.0 131.3h0M658.9 117.0h0M666.8 113.6h0M663.4 134.0h0M661.9 109.1h0M678.9 126.7h0M659.9 138.4h0M640.6 108.9h0M647.6 111.0h0M676.5 125.1h0M522.5 149.7h0M536.5 160.2h0M523.4 216.6h0M542.4 186.5h0M571.5 192.9h0M571.1 158.4h0M516.3 187.6h0M553.1 230.2h0M551.6 175.6h0M583.6 193.3h0M542.7 164.3h0M530.5 161.5h0M554.7 223.9h0M564.9 216.6h0M563.5 231.0h0M525.3 156.0h0M520.7 195.1h0M576.0 208.6h0M529.0 155.3h0M532.4 178.2h0M534.8 151.6h0M517.8 166.8h0M515.2 209.4h0M579.0 208.3h0M517.7 189.1h0M558.9 146.0h0M549.1 153.8h0M514.5 170.8h0M526.7 227.0h0M587.8 196.1h0M512.9 179.3h0M513.1 188.0h0M563.1 172.3h0M577.3 183.8h0M551.3 149.2h0M528.2 200.7h0M566.0 211.7h0M549.9 224.1h0M579.4 216.1h0M585.9 215.7h0M581.8 218.3h0M578.8 211.7h0M592.9 203.5h0M585.2 200.5h0M577.7 220.3h0M577.1 212.5h0M574.4 199.5h0M588.2 209.0h0M591.2 208.2h0M579.2 215.0h0M572.7 222.4h0M581.4 218.9h0M583.3 209.4h0M575.8 224.9h0M576.1 222.6h0M582.0 198.5h0M574.3 220.8h0M581.2 216.3h0M591.6 205.0h0M580.1 217.9h0M576.7 206.0h0M597.3 205.1h0M424.0 93.0h0M453.2 90.1h0M438.0 103.3h0M435.8 116.7h0M461.8 97.6h0M429.6 89.7h0M418.2 93.7h0M438.1 106.9h0M417.0 89.2h0M454.6 125.2h0M473.4 142.5h0M433.1 75.7h0M462.8 122.0h0M434.5 82.1h0M456.4 113.0h0M480.6 124.3h0M449.1 131.5h0M454.7 108.4h0M461.8 124.8h0M438.4 80.9h0M456.8 108.4h0M405.4 87.0h0M432.2 81.9h0M413.6 102.0h0M460.0 105.7h0M451.3 94.4h0M487.8 282.8h0M491.5 286.8h0M492.0 290.6h0M490.6 287.1h0M491.1 285.2h0M494.8 284.8h0M487.3 286.2h0M488.6 281.4h0M480.2 69.8h0M382.3 152.7h0M388.1 155.9h0M394.2 158.5h0" stroke="#ea6a50" stroke-width="4.4"/><path d="M623.9 194.1h0M637.0 198.4h0M614.5 211.8h0M619.5 217.6h0M636.8 215.5h0M621.6 196.4h0M628.2 191.3h0M606.3 199.0h0M602.6 206.8h0M617.3 188.3h0M635.2 200.3h0M613.8 206.0h0M618.7 207.7h0M616.9 196.8h0M628.0 201.1h0M622.5 210.1h0M619.3 202.5h0M615.2 217.1h0M624.6 199.5h0M629.2 193.5h0M616.8 200.8h0M631.5 188.2h0M609.3 214.6h0M610.1 197.7h0M615.4 195.2h0M617.2 214.2h0M626.1 211.0h0M622.2 214.8h0M630.8 219.1h0M610.9 205.0h0M623.1 215.8h0M630.5 205.8h0M604.6 202.1h0M616.9 190.1h0M634.7 192.9h0M608.1 213.5h0M629.0 196.9h0M637.9 191.1h0M636.6 214.8h0M631.9 215.5h0M611.1 202.7h0M614.8 208.2h0M614.5 206.9h0M611.0 204.0h0M613.9 200.3h0M635.9 210.8h0M635.3 210.5h0M631.6 196.9h0M610.5 213.3h0M639.0 224.5h0M638.9 223.4h0M619.2 193.2h0M626.3 188.5h0M623.0 190.4h0M631.4 205.1h0M608.5 195.9h0M612.8 204.4h0M636.1 214.3h0M620.3 206.0h0M622.6 189.2h0M621.8 192.8h0M619.0 213.6h0M625.9 195.1h0M628.2 212.2h0M633.6 193.5h0M625.2 195.8h0M620.4 214.6h0M613.9 197.3h0M633.4 199.6h0M606.4 210.9h0M618.8 210.7h0M606.6 211.5h0M616.7 209.7h0M623.7 208.8h0M624.6 217.9h0M645.5 174.0h0M643.5 171.4h0M643.1 170.8h0M643.9 175.5h0M643.8 179.6h0M641.9 183.8h0M662.7 125.3h0M641.1 138.3h0M656.6 112.9h0M657.8 132.7h0M664.0 135.9h0M643.5 106.9h0M679.1 126.8h0M539.0 226.1h0M519.3 228.6h0M589.5 209.9h0M550.5 217.4h0M533.8 196.4h0M548.2 158.6h0M524.3 157.2h0M524.0 220.8h0M518.6 220.3h0M517.3 194.0h0M587.6 202.2h0M537.3 181.7h0M549.6 174.6h0M531.6 155.7h0M543.3 193.4h0M569.6 177.2h0M586.3 212.2h0M590.5 206.8h0M592.1 202.7h0M573.2 202.2h0M577.0 211.6h0M590.9 199.5h0M578.0 203.1h0M574.1 215.7h0M589.2 211.1h0M575.8 209.3h0M573.2 202.4h0M575.0 207.7h0M587.8 198.6h0M579.2 216.3h0M580.2 215.3h0M572.7 220.5h0M587.6 202.2h0M579.0 208.3h0M584.9 199.9h0M583.5 215.1h0M589.3 205.9h0M586.0 213.4h0M455.0 115.6h0M436.9 132.4h0M472.7 137.5h0M471.8 138.5h0M475.1 119.2h0M434.0 111.0h0M493.0 283.2h0M491.7 293.6h0M493.1 288.9h0M492.9 289.1h0M492.2 288.3h0M488.9 290.2h0M486.7 286.0h0M495.1 285.4h0M497.0 293.8h0M494.1 282.1h0M488.4 289.2h0M496.8 293.1h0M474.1 76.8h0" stroke="#f03e22" stroke-width="4.4"/></g><rect x="614.5" y="629.9" width="108.3" height="116.3" fill="none" stroke="#555" stroke-width="1"/><line x1="614.0" x2="723.6" y1="746.2" y2="746.2" stroke="#444" stroke-width="1.6"/><line x1="722.8" x2="722.8" y1="629.9" y2="746.2" stroke="#444" stroke-width="1.6"/><text x="717.8" y="649.4" font-size="15" font-style="italic" text-anchor="end">Meg3</text><defs><linearGradient id="lg" x1="0" y1="1" x2="0" y2="0"><stop offset="0" stop-color="#c4c4c4"/><stop offset="0.2" stop-color="#cdb0aa"/><stop offset="0.4" stop-color="#da9788"/><stop offset="0.6" stop-color="#e87a64"/><stop offset="0.8" stop-color="#f35c40"/><stop offset="1" stop-color="#f42c12"/></linearGradient></defs><text x="736.7" y="644.3" font-size="11.5">value</text><rect x="737.4" y="649.1" width="18.8" height="93.4" fill="url(#lg)"/><line x1="737.4" x2="741" y1="739.9" y2="739.9" stroke="#fff" stroke-width="0.6"/><line x1="752.6" x2="756.2" y1="739.9" y2="739.9" stroke="#fff" stroke-width="0.6"/><text x="760.5" y="743.9" font-size="11">0</text><line x1="737.4" x2="741" y1="723.9" y2="723.9" stroke="#fff" stroke-width="0.6"/><line x1="752.6" x2="756.2" y1="723.9" y2="723.9" stroke="#fff" stroke-width="0.6"/><text x="760.5" y="727.9" font-size="11">1</text><line x1="737.4" x2="741" y1="707.5" y2="707.5" stroke="#fff" stroke-width="0.6"/><line x1="752.6" x2="756.2" y1="707.5" y2="707.5" stroke="#fff" stroke-width="0.6"/><text x="760.5" y="711.5" font-size="11">2</text><line x1="737.4" x2="741" y1="691.5" y2="691.5" stroke="#fff" stroke-width="0.6"/><line x1="752.6" x2="756.2" y1="691.5" y2="691.5" stroke="#fff" stroke-width="0.6"/><text x="760.5" y="695.5" font-size="11">3</text><line x1="737.4" x2="741" y1="675.8" y2="675.8" stroke="#fff" stroke-width="0.6"/><line x1="752.6" x2="756.2" y1="675.8" y2="675.8" stroke="#fff" stroke-width="0.6"/><text x="760.5" y="679.8" font-size="11">4</text><line x1="737.4" x2="741" y1="659.8" y2="659.8" stroke="#fff" stroke-width="0.6"/><line x1="752.6" x2="756.2" y1="659.8" y2="659.8" stroke="#fff" stroke-width="0.6"/><text x="760.5" y="663.8" font-size="11">5</text><rect x="766.6" y="217.6" width="1.2" height="3.4" fill="#8a8a8a"/></svg></body></html>
